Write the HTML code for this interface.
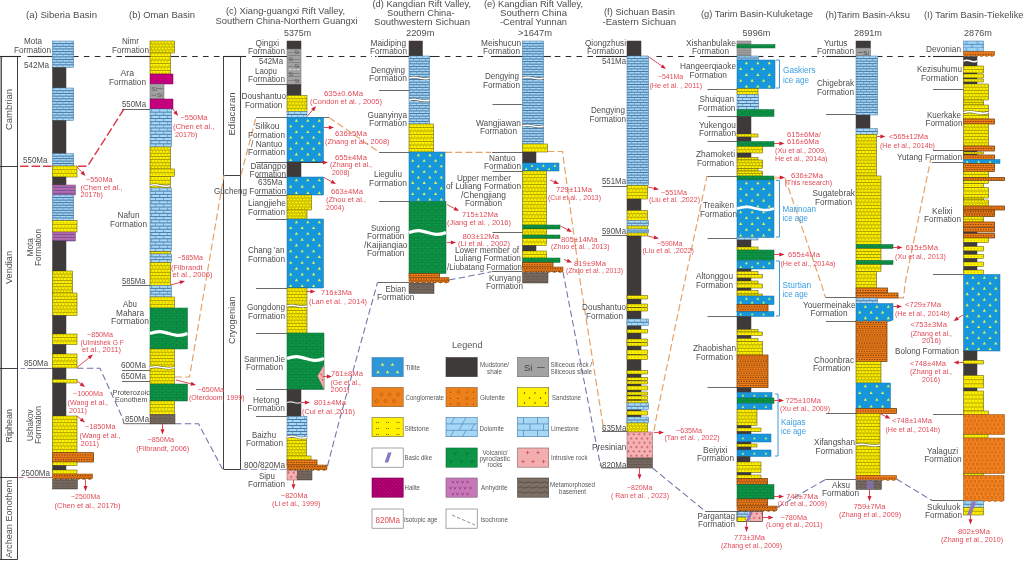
<!DOCTYPE html>
<html><head><meta charset="utf-8"><title>Stratigraphic correlation</title>
<style>
html,body{margin:0;padding:0;background:#fff;}
body{width:1024px;height:561px;overflow:hidden;}
svg{display:block;font-family:"Liberation Sans",sans-serif;will-change:transform;transform:translateZ(0);}
</style></head><body>
<svg width="1024" height="561" viewBox="0 0 1024 561">
<defs>
<pattern id="pL" width="6" height="5.2" patternUnits="userSpaceOnUse">
<rect width="6" height="5.2" fill="#a8daf7"/>
<path d="M0,2.15H6M0,4.75H6" stroke="#3f6f9f" stroke-width="0.95"/>
<path d="M1.5,0V1.7M4.5,2.6V4.3" stroke="#6f9fc8" stroke-width="0.6"/>
</pattern>
<pattern id="pL2" width="8" height="6.4" patternUnits="userSpaceOnUse">
<rect width="8" height="6.4" fill="#a8daf7"/>
<path d="M0,2.75H8M0,5.95H8" stroke="#3f6f9f" stroke-width="0.9"/>
<path d="M2,0V2.3M6,3.2V5.5" stroke="#4f7fae" stroke-width="0.8"/>
</pattern>
<pattern id="pL3" width="11" height="7" patternUnits="userSpaceOnUse">
<rect width="11" height="7" fill="#9fd3f3"/>
<path d="M0,3.4H11M0,6.9H11" stroke="#3f78b0" stroke-width="0.7"/>
<path d="M3,0V3.4M8.5,3.4V7" stroke="#3f78b0" stroke-width="0.7"/>
</pattern>
<pattern id="pY" width="5" height="3.3" patternUnits="userSpaceOnUse">
<rect width="5" height="3.3" fill="#fff100"/>
<path d="M0,2.95H5" stroke="#5f5700" stroke-width="0.7"/>
<path d="M1.0,1.35H2.1M3.5,1.35H4.6" stroke="#8c8200" stroke-width="0.6"/>
</pattern>
<pattern id="pT" width="11.4" height="10.8" patternUnits="userSpaceOnUse">
<rect width="11.4" height="10.8" fill="#1597dc"/>
<path d="M2.8,1.6l1.3,2.2h-2.6zM8.5,7l1.3,2.2h-2.6z" fill="#d9f25a"/>
</pattern>
<pattern id="pG" width="7" height="5.6" patternUnits="userSpaceOnUse">
<rect width="7" height="5.6" fill="#0c9546"/>
<path d="M0,2.6H7M0,5.4H7" stroke="#0a6e36" stroke-width="0.6"/>
<path d="M2,0V2.6M5.5,2.6V5.4" stroke="#0a6e36" stroke-width="0.5"/>
</pattern>
<pattern id="pA" width="5" height="3" patternUnits="userSpaceOnUse">
<rect width="5" height="3" fill="#b56cb0"/>
<path d="M0,2.6H5" stroke="#6a4a90" stroke-width="0.8"/>
<path d="M1.5,0.8l0.7,1M3.5,0.8l0.7,1" stroke="#8a4f90" stroke-width="0.5"/>
</pattern>
<pattern id="pO" width="5.5" height="4.4" patternUnits="userSpaceOnUse">
<rect width="5.5" height="4.4" fill="#ee7f1a"/>
<path d="M0,4.05H5.5" stroke="#9a5010" stroke-width="0.7"/>
<circle cx="1.6" cy="1.9" r="0.65" fill="#8a4a10"/><circle cx="4.3" cy="1.9" r="0.65" fill="#8a4a10"/>
</pattern>
<pattern id="pC" width="4.2" height="8.1" patternUnits="userSpaceOnUse">
<rect width="4.2" height="8.1" fill="#f4841f"/>
<circle cx="1.05" cy="2" r="1.15" fill="none" stroke="#b4520a" stroke-width="0.6"/>
<circle cx="3.15" cy="6.05" r="1.15" fill="none" stroke="#b4520a" stroke-width="0.6"/>
</pattern>
<pattern id="pI" width="5.4" height="8.6" patternUnits="userSpaceOnUse">
<rect width="5.4" height="8.6" fill="#f4b2b3"/>
<path d="M0.3,2.2h2.2M1.4,1.1v2.2M3,6.5h2.2M4.1,5.4v2.2" stroke="#b8283a" stroke-width="0.55"/>
</pattern>
<pattern id="pB" width="5" height="2.6" patternUnits="userSpaceOnUse">
<rect width="5" height="2.6" fill="#7b6e64"/>
<path d="M0,1.3q1.25,-1.2 2.5,0t2.5,0" stroke="#3e3530" stroke-width="0.6" fill="none"/>
</pattern>
</defs>
<rect width="1024" height="561" fill="#fff"/>

<line x1="1.20" y1="56.00" x2="1.20" y2="559.50" stroke="#2b2b2b" stroke-width="1.2"/>
<line x1="17.50" y1="56.00" x2="17.50" y2="559.50" stroke="#2b2b2b" stroke-width="0.9"/>
<line x1="0.00" y1="56.50" x2="17.50" y2="56.50" stroke="#2b2b2b" stroke-width="0.9"/>
<line x1="0.00" y1="166.50" x2="17.50" y2="166.50" stroke="#2b2b2b" stroke-width="0.9"/>
<line x1="0.00" y1="368.50" x2="17.50" y2="368.50" stroke="#2b2b2b" stroke-width="0.9"/>
<line x1="0.00" y1="477.50" x2="17.50" y2="477.50" stroke="#2b2b2b" stroke-width="0.9"/>
<line x1="0.00" y1="559.50" x2="17.50" y2="559.50" stroke="#2b2b2b" stroke-width="0.9"/>
<line x1="223.50" y1="56.00" x2="223.50" y2="469.00" stroke="#2b2b2b" stroke-width="0.9"/>
<line x1="240.50" y1="56.00" x2="240.50" y2="469.00" stroke="#2b2b2b" stroke-width="0.9"/>
<line x1="223.50" y1="175.50" x2="240.60" y2="175.50" stroke="#2b2b2b" stroke-width="0.9"/>
<line x1="223.50" y1="469.50" x2="240.60" y2="469.50" stroke="#2b2b2b" stroke-width="0.9"/>
<line x1="0.00" y1="56.50" x2="21.00" y2="56.50" stroke="#2b2b2b" stroke-width="1.1"/>
<line x1="27.50" y1="56.50" x2="52.50" y2="56.50" stroke="#2b2b2b" stroke-width="1.1"/>
<line x1="73.00" y1="56.50" x2="125.00" y2="56.50" stroke="#2b2b2b" stroke-width="1.1" stroke-dasharray="5.6,5.275"/>
<line x1="125.00" y1="56.50" x2="150.00" y2="56.50" stroke="#2b2b2b" stroke-width="1.1"/>
<line x1="171.00" y1="56.50" x2="179.00" y2="56.50" stroke="#2b2b2b" stroke-width="1.1"/>
<line x1="181.25" y1="56.50" x2="222.00" y2="56.50" stroke="#2b2b2b" stroke-width="1.1" stroke-dasharray="5.6,5.275"/>
<line x1="223.00" y1="56.50" x2="246.00" y2="56.50" stroke="#2b2b2b" stroke-width="1.1"/>
<line x1="252.00" y1="56.50" x2="287.00" y2="56.50" stroke="#2b2b2b" stroke-width="1.1"/>
<line x1="306.20" y1="56.50" x2="372.00" y2="56.50" stroke="#2b2b2b" stroke-width="1.1" stroke-dasharray="5.6,5.275"/>
<line x1="375.00" y1="56.50" x2="376.50" y2="56.50" stroke="#2b2b2b" stroke-width="1.1"/>
<line x1="378.00" y1="56.50" x2="409.00" y2="56.50" stroke="#2b2b2b" stroke-width="1.1"/>
<line x1="429.50" y1="56.50" x2="434.00" y2="56.50" stroke="#2b2b2b" stroke-width="1.1"/>
<line x1="434.00" y1="56.50" x2="485.00" y2="56.50" stroke="#2b2b2b" stroke-width="1.1" stroke-dasharray="5.6,5.275"/>
<line x1="491.00" y1="56.50" x2="522.50" y2="56.50" stroke="#2b2b2b" stroke-width="1.1"/>
<line x1="543.25" y1="56.50" x2="550.80" y2="56.50" stroke="#2b2b2b" stroke-width="1.1"/>
<line x1="554.75" y1="56.50" x2="594.00" y2="56.50" stroke="#2b2b2b" stroke-width="1.1" stroke-dasharray="5.6,5.275"/>
<line x1="596.00" y1="56.50" x2="627.00" y2="56.50" stroke="#2b2b2b" stroke-width="1.1"/>
<line x1="640.75" y1="56.50" x2="648.50" y2="56.50" stroke="#2b2b2b" stroke-width="1.1"/>
<line x1="656.40" y1="56.50" x2="699.00" y2="56.50" stroke="#2b2b2b" stroke-width="1.1" stroke-dasharray="5.6,5.275"/>
<line x1="700.00" y1="56.50" x2="737.00" y2="56.50" stroke="#2b2b2b" stroke-width="1.1"/>
<line x1="758.50" y1="56.50" x2="763.40" y2="56.50" stroke="#2b2b2b" stroke-width="1.1"/>
<line x1="768.00" y1="56.50" x2="824.00" y2="56.50" stroke="#2b2b2b" stroke-width="1.1" stroke-dasharray="5.6,5.275"/>
<line x1="826.25" y1="56.50" x2="856.00" y2="56.50" stroke="#2b2b2b" stroke-width="1.1"/>
<line x1="877.50" y1="56.50" x2="882.50" y2="56.50" stroke="#2b2b2b" stroke-width="1.1"/>
<line x1="887.00" y1="56.50" x2="926.00" y2="56.50" stroke="#2b2b2b" stroke-width="1.1" stroke-dasharray="5.6,5.275"/>
<line x1="928.00" y1="56.50" x2="930.50" y2="56.50" stroke="#2b2b2b" stroke-width="1.1"/>
<line x1="933.00" y1="56.50" x2="963.50" y2="56.50" stroke="#2b2b2b" stroke-width="1.1"/>
<line x1="122.00" y1="109.50" x2="150.00" y2="109.50" stroke="#595757" stroke-width="0.9"/>
<line x1="122.00" y1="285.50" x2="150.00" y2="285.50" stroke="#595757" stroke-width="0.9"/>
<line x1="122.00" y1="370.50" x2="150.00" y2="370.50" stroke="#595757" stroke-width="0.9"/>
<line x1="122.00" y1="381.50" x2="150.00" y2="381.50" stroke="#595757" stroke-width="0.9"/>
<polyline points="122.80,418.50 123.80,423.70 150.00,423.70" fill="none" stroke="#595757" stroke-width="0.9"/>
<line x1="256.00" y1="84.50" x2="287.00" y2="84.50" stroke="#595757" stroke-width="0.9"/>
<line x1="256.00" y1="162.50" x2="287.00" y2="162.50" stroke="#595757" stroke-width="0.9"/>
<line x1="256.00" y1="177.50" x2="287.00" y2="177.50" stroke="#595757" stroke-width="0.9"/>
<line x1="256.00" y1="195.50" x2="287.00" y2="195.50" stroke="#595757" stroke-width="0.9"/>
<line x1="256.00" y1="219.50" x2="287.00" y2="219.50" stroke="#595757" stroke-width="0.9"/>
<line x1="256.00" y1="288.50" x2="287.00" y2="288.50" stroke="#595757" stroke-width="0.9"/>
<line x1="256.00" y1="333.50" x2="287.00" y2="333.50" stroke="#595757" stroke-width="0.9"/>
<line x1="256.00" y1="389.50" x2="287.00" y2="389.50" stroke="#595757" stroke-width="0.9"/>
<line x1="256.00" y1="416.50" x2="287.00" y2="416.50" stroke="#595757" stroke-width="0.9"/>
<line x1="256.00" y1="117.50" x2="329.00" y2="117.50" stroke="#595757" stroke-width="0.9"/>
<line x1="379.00" y1="90.50" x2="409.00" y2="90.50" stroke="#595757" stroke-width="0.9"/>
<line x1="379.00" y1="201.50" x2="409.00" y2="201.50" stroke="#595757" stroke-width="0.9"/>
<line x1="377.50" y1="282.50" x2="409.00" y2="282.50" stroke="#595757" stroke-width="0.9"/>
<line x1="492.50" y1="104.50" x2="522.50" y2="104.50" stroke="#595757" stroke-width="0.9"/>
<line x1="492.50" y1="171.50" x2="522.50" y2="171.50" stroke="#595757" stroke-width="0.9"/>
<line x1="492.50" y1="232.50" x2="522.50" y2="232.50" stroke="#595757" stroke-width="0.9"/>
<line x1="492.00" y1="271.50" x2="522.50" y2="271.50" stroke="#595757" stroke-width="0.9"/>
<line x1="602.00" y1="186.50" x2="627.00" y2="186.50" stroke="#595757" stroke-width="0.9"/>
<line x1="602.00" y1="235.50" x2="627.00" y2="235.50" stroke="#595757" stroke-width="0.9"/>
<line x1="602.00" y1="431.50" x2="627.00" y2="431.50" stroke="#595757" stroke-width="0.9"/>
<polyline points="600.50,462.50 601.50,468.00 627.00,468.00" fill="none" stroke="#595757" stroke-width="0.9"/>
<line x1="707.50" y1="89.50" x2="737.00" y2="89.50" stroke="#595757" stroke-width="0.9"/>
<line x1="707.50" y1="116.50" x2="737.00" y2="116.50" stroke="#595757" stroke-width="0.9"/>
<line x1="707.50" y1="141.50" x2="737.00" y2="141.50" stroke="#595757" stroke-width="0.9"/>
<line x1="707.50" y1="238.50" x2="737.00" y2="238.50" stroke="#595757" stroke-width="0.9"/>
<line x1="707.50" y1="316.50" x2="737.00" y2="316.50" stroke="#595757" stroke-width="0.9"/>
<line x1="707.50" y1="387.50" x2="737.00" y2="387.50" stroke="#595757" stroke-width="0.9"/>
<line x1="707.00" y1="176.50" x2="737.00" y2="176.50" stroke="#595757" stroke-width="0.9"/>
<line x1="705.00" y1="511.50" x2="737.00" y2="511.50" stroke="#595757" stroke-width="0.9"/>
<line x1="826.00" y1="114.50" x2="856.00" y2="114.50" stroke="#595757" stroke-width="0.9"/>
<line x1="826.00" y1="321.50" x2="856.00" y2="321.50" stroke="#595757" stroke-width="0.9"/>
<line x1="826.00" y1="413.50" x2="856.00" y2="413.50" stroke="#595757" stroke-width="0.9"/>
<line x1="825.50" y1="297.50" x2="856.00" y2="297.50" stroke="#595757" stroke-width="0.9"/>
<line x1="825.50" y1="479.50" x2="856.00" y2="479.50" stroke="#595757" stroke-width="0.9"/>
<line x1="933.00" y1="89.50" x2="963.50" y2="89.50" stroke="#595757" stroke-width="0.9"/>
<line x1="933.00" y1="150.50" x2="963.50" y2="150.50" stroke="#595757" stroke-width="0.9"/>
<line x1="933.00" y1="274.50" x2="963.50" y2="274.50" stroke="#595757" stroke-width="0.9"/>
<line x1="933.00" y1="414.50" x2="963.50" y2="414.50" stroke="#595757" stroke-width="0.9"/>
<line x1="932.00" y1="162.50" x2="963.50" y2="162.50" stroke="#595757" stroke-width="0.9"/>
<line x1="932.00" y1="500.50" x2="963.50" y2="500.50" stroke="#595757" stroke-width="0.9"/>
<polyline points="20.00,166.30 52.00,166.30" fill="none" stroke="#d93844" stroke-width="1.4" stroke-dasharray="8.5,3"/>
<polyline points="124.00,109.00 87.50,166.30 77.50,166.30" fill="none" stroke="#d93844" stroke-width="1.4" stroke-dasharray="8.5,3"/>
<line x1="20.50" y1="368.50" x2="25.00" y2="368.50" stroke="#8a93c0" stroke-width="1.0"/>
<line x1="27.50" y1="368.50" x2="52.50" y2="368.50" stroke="#7a7a8a" stroke-width="1.0"/>
<polyline points="77.00,368.30 100.00,368.30 123.00,419.00" fill="none" stroke="#6c72a8" stroke-width="1.05" stroke-dasharray="6.5,3.3"/>
<polyline points="175.00,423.80 198.50,423.80 222.50,469.00" fill="none" stroke="#6c72a8" stroke-width="1.05" stroke-dasharray="6.5,3.3"/>
<polyline points="241.00,469.50 287.00,469.50" fill="none" stroke="#9aa3c8" stroke-width="1.0" stroke-dasharray="6.5,3.3"/>
<polyline points="327.50,466.00 340.00,418.00 377.50,282.50" fill="none" stroke="#6c72a8" stroke-width="1.05" stroke-dasharray="6.5,3.3"/>
<polyline points="449.00,280.00 491.50,271.80" fill="none" stroke="#6c72a8" stroke-width="1.05" stroke-dasharray="6.5,3.3"/>
<polyline points="563.00,272.00 600.50,466.00" fill="none" stroke="#6c72a8" stroke-width="1.05" stroke-dasharray="6.5,3.3"/>
<polyline points="652.50,468.00 705.00,511.00" fill="none" stroke="#6c72a8" stroke-width="1.05" stroke-dasharray="6.5,3.3"/>
<polyline points="777.00,507.50 825.50,479.50" fill="none" stroke="#6c72a8" stroke-width="1.05" stroke-dasharray="6.5,3.3"/>
<polyline points="896.50,479.00 932.00,500.50" fill="none" stroke="#6c72a8" stroke-width="1.05" stroke-dasharray="6.5,3.3"/>
<line x1="18.50" y1="477.50" x2="23.50" y2="477.50" stroke="#c06090" stroke-width="1.0"/>
<line x1="27.50" y1="477.50" x2="52.50" y2="477.50" stroke="#9a7a8a" stroke-width="1.0"/>
<polyline points="175.00,377.00 189.50,377.00 206.00,280.00 224.00,175.00" fill="none" stroke="#e6a268" stroke-width="1.2" stroke-dasharray="7,3.2"/>
<polyline points="241.00,175.00 256.00,117.50" fill="none" stroke="#e6a268" stroke-width="1.2" stroke-dasharray="7,3.2"/>
<polyline points="329.00,117.50 379.00,152.00" fill="none" stroke="#e6a268" stroke-width="1.2" stroke-dasharray="7,3.2"/>
<line x1="379.00" y1="152.50" x2="409.00" y2="152.50" stroke="#595757" stroke-width="0.9"/>
<polyline points="445.00,152.30 491.00,152.30" fill="none" stroke="#e6a268" stroke-width="1.2" stroke-dasharray="7,3.2"/>
<line x1="492.00" y1="152.50" x2="522.50" y2="152.50" stroke="#595757" stroke-width="0.9"/>
<polyline points="547.50,151.50 562.50,151.50 580.00,280.00 602.00,419.00 604.00,431.00" fill="none" stroke="#e6a268" stroke-width="1.2" stroke-dasharray="7,3.2"/>
<polyline points="654.00,431.00 656.00,419.00 685.00,280.00 707.00,176.00" fill="none" stroke="#e6a268" stroke-width="1.2" stroke-dasharray="7,3.2"/>
<polyline points="785.00,178.00 820.00,280.00 825.50,297.50" fill="none" stroke="#e6a268" stroke-width="1.2" stroke-dasharray="7,3.2"/>
<polyline points="898.00,297.80 903.50,297.80 905.70,280.00 931.00,158.00" fill="none" stroke="#e6a268" stroke-width="1.2" stroke-dasharray="7,3.2"/>
<rect x="52.50" y="41.00" width="21.20" height="26.50" fill="#a8daf7"/>
<path d="M52.50,43.65h21.20M52.50,46.30h21.20M52.50,48.95h21.20M52.50,51.60h21.20M52.50,54.25h21.20M52.50,56.90h21.20M52.50,59.55h21.20M52.50,62.20h21.20M52.50,64.85h21.20" stroke="#3f6f9f" stroke-width="0.95" fill="none"/>
<path d="M54.10,41.30v2.05M60.10,41.30v2.05M66.10,41.30v2.05M72.10,41.30v2.05M57.10,43.95v2.05M63.10,43.95v2.05M69.10,43.95v2.05M54.10,46.60v2.05M60.10,46.60v2.05M66.10,46.60v2.05M72.10,46.60v2.05M57.10,49.25v2.05M63.10,49.25v2.05M69.10,49.25v2.05M54.10,51.90v2.05M60.10,51.90v2.05M66.10,51.90v2.05M72.10,51.90v2.05M57.10,54.55v2.05M63.10,54.55v2.05M69.10,54.55v2.05M54.10,57.20v2.05M60.10,57.20v2.05M66.10,57.20v2.05M72.10,57.20v2.05M57.10,59.85v2.05M63.10,59.85v2.05M69.10,59.85v2.05M54.10,62.50v2.05M60.10,62.50v2.05M66.10,62.50v2.05M72.10,62.50v2.05M57.10,65.15v2.05M63.10,65.15v2.05M69.10,65.15v2.05" stroke="#5f8fbc" stroke-width="0.6" fill="none"/>
<rect x="52.50" y="41.00" width="21.20" height="26.50" fill="none" stroke="#3d6f9e" stroke-width="0.5"/>
<rect transform="translate(52.50,67.50)" width="13.50" height="20.50" fill="#3e3a39" stroke="#3e3a39" stroke-width="0.5"/>
<rect x="52.50" y="88.00" width="21.20" height="32.50" fill="#a8daf7"/>
<path d="M52.50,90.71h21.20M52.50,93.42h21.20M52.50,96.12h21.20M52.50,98.83h21.20M52.50,101.54h21.20M52.50,104.25h21.20M52.50,106.96h21.20M52.50,109.67h21.20M52.50,112.38h21.20M52.50,115.08h21.20M52.50,117.79h21.20" stroke="#3f6f9f" stroke-width="0.95" fill="none"/>
<path d="M54.10,88.30v2.11M60.10,88.30v2.11M66.10,88.30v2.11M72.10,88.30v2.11M57.10,91.01v2.11M63.10,91.01v2.11M69.10,91.01v2.11M54.10,93.72v2.11M60.10,93.72v2.11M66.10,93.72v2.11M72.10,93.72v2.11M57.10,96.42v2.11M63.10,96.42v2.11M69.10,96.42v2.11M54.10,99.13v2.11M60.10,99.13v2.11M66.10,99.13v2.11M72.10,99.13v2.11M57.10,101.84v2.11M63.10,101.84v2.11M69.10,101.84v2.11M54.10,104.55v2.11M60.10,104.55v2.11M66.10,104.55v2.11M72.10,104.55v2.11M57.10,107.26v2.11M63.10,107.26v2.11M69.10,107.26v2.11M54.10,109.97v2.11M60.10,109.97v2.11M66.10,109.97v2.11M72.10,109.97v2.11M57.10,112.67v2.11M63.10,112.67v2.11M69.10,112.67v2.11M54.10,115.38v2.11M60.10,115.38v2.11M66.10,115.38v2.11M72.10,115.38v2.11M57.10,118.09v2.11M63.10,118.09v2.11M69.10,118.09v2.11" stroke="#5f8fbc" stroke-width="0.6" fill="none"/>
<rect x="52.50" y="88.00" width="21.20" height="32.50" fill="none" stroke="#3d6f9e" stroke-width="0.5"/>
<rect transform="translate(52.50,120.50)" width="13.50" height="33.20" fill="#3e3a39" stroke="#3e3a39" stroke-width="0.5"/>
<rect x="52.50" y="153.70" width="21.20" height="12.30" fill="#a8daf7"/>
<path d="M52.50,156.16h21.20M52.50,158.62h21.20M52.50,161.08h21.20M52.50,163.54h21.20" stroke="#3f6f9f" stroke-width="0.95" fill="none"/>
<path d="M54.10,154.00v1.86M60.10,154.00v1.86M66.10,154.00v1.86M72.10,154.00v1.86M57.10,156.46v1.86M63.10,156.46v1.86M69.10,156.46v1.86M54.10,158.92v1.86M60.10,158.92v1.86M66.10,158.92v1.86M72.10,158.92v1.86M57.10,161.38v1.86M63.10,161.38v1.86M69.10,161.38v1.86M54.10,163.84v1.86M60.10,163.84v1.86M66.10,163.84v1.86M72.10,163.84v1.86" stroke="#5f8fbc" stroke-width="0.6" fill="none"/>
<rect x="52.50" y="153.70" width="21.20" height="12.30" fill="none" stroke="#3d6f9e" stroke-width="0.5"/>
<rect x="52.50" y="166.00" width="24.50" height="11.00" fill="#fff100"/>
<path d="M52.50,169.67h24.50M52.50,173.33h24.50" stroke="#4f4800" stroke-width="0.48" fill="none"/>
<path d="M53.40,167.83H76.40M54.60,171.50H76.40M53.40,175.17H76.40" stroke="#5a5200" stroke-width="0.6" stroke-dasharray="0.7,2.6" fill="none"/>
<rect x="52.50" y="166.00" width="24.50" height="11.00" fill="none" stroke="#4a4300" stroke-width="0.5"/>
<rect transform="translate(52.50,177.00)" width="13.50" height="8.00" fill="#3e3a39" stroke="#3e3a39" stroke-width="0.5"/>
<rect transform="translate(52.50,185.00)" width="23.00" height="10.00" fill="url(#pA)" stroke="#7a4a80" stroke-width="0.5"/>
<rect x="52.50" y="195.00" width="21.20" height="25.50" fill="#a8daf7"/>
<path d="M52.50,197.55h21.20M52.50,200.10h21.20M52.50,202.65h21.20M52.50,205.20h21.20M52.50,207.75h21.20M52.50,210.30h21.20M52.50,212.85h21.20M52.50,215.40h21.20M52.50,217.95h21.20" stroke="#3f6f9f" stroke-width="0.95" fill="none"/>
<path d="M54.10,195.30v1.95M60.10,195.30v1.95M66.10,195.30v1.95M72.10,195.30v1.95M57.10,197.85v1.95M63.10,197.85v1.95M69.10,197.85v1.95M54.10,200.40v1.95M60.10,200.40v1.95M66.10,200.40v1.95M72.10,200.40v1.95M57.10,202.95v1.95M63.10,202.95v1.95M69.10,202.95v1.95M54.10,205.50v1.95M60.10,205.50v1.95M66.10,205.50v1.95M72.10,205.50v1.95M57.10,208.05v1.95M63.10,208.05v1.95M69.10,208.05v1.95M54.10,210.60v1.95M60.10,210.60v1.95M66.10,210.60v1.95M72.10,210.60v1.95M57.10,213.15v1.95M63.10,213.15v1.95M69.10,213.15v1.95M54.10,215.70v1.95M60.10,215.70v1.95M66.10,215.70v1.95M72.10,215.70v1.95M57.10,218.25v1.95M63.10,218.25v1.95M69.10,218.25v1.95" stroke="#5f8fbc" stroke-width="0.6" fill="none"/>
<rect x="52.50" y="195.00" width="21.20" height="25.50" fill="none" stroke="#3d6f9e" stroke-width="0.5"/>
<rect x="52.50" y="220.50" width="24.50" height="11.50" fill="#fff100"/>
<path d="M52.50,224.33h24.50M52.50,228.17h24.50" stroke="#4f4800" stroke-width="0.48" fill="none"/>
<path d="M53.40,222.42H76.40M54.60,226.25H76.40M53.40,230.08H76.40" stroke="#5a5200" stroke-width="0.6" stroke-dasharray="0.7,2.6" fill="none"/>
<rect x="52.50" y="220.50" width="24.50" height="11.50" fill="none" stroke="#4a4300" stroke-width="0.5"/>
<rect transform="translate(52.50,232.00)" width="23.00" height="9.00" fill="url(#pA)" stroke="#7a4a80" stroke-width="0.5"/>
<rect transform="translate(52.50,241.00)" width="13.50" height="30.00" fill="#3e3a39" stroke="#3e3a39" stroke-width="0.5"/>
<rect x="52.50" y="271.00" width="20.00" height="22.00" fill="#fff100"/>
<path d="M52.50,274.14h20.00M52.50,277.29h20.00M52.50,280.43h20.00M52.50,283.57h20.00M52.50,286.71h20.00M52.50,289.86h20.00" stroke="#4f4800" stroke-width="0.48" fill="none"/>
<path d="M53.40,272.57H71.90M54.60,275.71H71.90M53.40,278.86H71.90M54.60,282.00H71.90M53.40,285.14H71.90M54.60,288.29H71.90M53.40,291.43H71.90" stroke="#5a5200" stroke-width="0.6" stroke-dasharray="0.7,2.6" fill="none"/>
<rect x="52.50" y="271.00" width="20.00" height="22.00" fill="none" stroke="#4a4300" stroke-width="0.5"/>
<rect x="52.50" y="293.00" width="24.50" height="22.50" fill="#fff100"/>
<path d="M52.50,296.21h24.50M52.50,299.43h24.50M52.50,302.64h24.50M52.50,305.86h24.50M52.50,309.07h24.50M52.50,312.29h24.50" stroke="#4f4800" stroke-width="0.48" fill="none"/>
<path d="M53.40,294.61H76.40M54.60,297.82H76.40M53.40,301.04H76.40M54.60,304.25H76.40M53.40,307.46H76.40M54.60,310.68H76.40M53.40,313.89H76.40" stroke="#5a5200" stroke-width="0.6" stroke-dasharray="0.7,2.6" fill="none"/>
<rect x="52.50" y="293.00" width="24.50" height="22.50" fill="none" stroke="#4a4300" stroke-width="0.5"/>
<rect transform="translate(52.50,315.50)" width="13.50" height="18.50" fill="#3e3a39" stroke="#3e3a39" stroke-width="0.5"/>
<rect x="52.50" y="334.00" width="24.50" height="10.50" fill="#fff100"/>
<path d="M52.50,337.50h24.50M52.50,341.00h24.50" stroke="#4f4800" stroke-width="0.48" fill="none"/>
<path d="M53.40,335.75H76.40M54.60,339.25H76.40M53.40,342.75H76.40" stroke="#5a5200" stroke-width="0.6" stroke-dasharray="0.7,2.6" fill="none"/>
<rect x="52.50" y="334.00" width="24.50" height="10.50" fill="none" stroke="#4a4300" stroke-width="0.5"/>
<rect transform="translate(52.50,344.50)" width="13.50" height="9.50" fill="#3e3a39" stroke="#3e3a39" stroke-width="0.5"/>
<rect x="52.50" y="354.00" width="24.50" height="14.00" fill="#fff100"/>
<path d="M52.50,357.50h24.50M52.50,361.00h24.50M52.50,364.50h24.50" stroke="#4f4800" stroke-width="0.48" fill="none"/>
<path d="M53.40,355.75H76.40M54.60,359.25H76.40M53.40,362.75H76.40M54.60,366.25H76.40" stroke="#5a5200" stroke-width="0.6" stroke-dasharray="0.7,2.6" fill="none"/>
<rect x="52.50" y="354.00" width="24.50" height="14.00" fill="none" stroke="#4a4300" stroke-width="0.5"/>
<rect transform="translate(52.50,368.00)" width="13.50" height="11.50" fill="#3e3a39" stroke="#3e3a39" stroke-width="0.5"/>
<rect x="52.50" y="379.50" width="24.50" height="3.50" fill="#fff100"/>
<path d="M53.40,381.25H76.40" stroke="#5a5200" stroke-width="0.6" stroke-dasharray="0.7,2.6" fill="none"/>
<rect x="52.50" y="379.50" width="24.50" height="3.50" fill="none" stroke="#4a4300" stroke-width="0.5"/>
<rect transform="translate(52.50,383.00)" width="13.50" height="33.00" fill="#3e3a39" stroke="#3e3a39" stroke-width="0.5"/>
<rect x="52.50" y="416.00" width="24.50" height="36.70" fill="#fff100"/>
<path d="M52.50,419.34h24.50M52.50,422.67h24.50M52.50,426.01h24.50M52.50,429.35h24.50M52.50,432.68h24.50M52.50,436.02h24.50M52.50,439.35h24.50M52.50,442.69h24.50M52.50,446.03h24.50M52.50,449.36h24.50" stroke="#4f4800" stroke-width="0.48" fill="none"/>
<path d="M53.40,417.67H76.40M54.60,421.00H76.40M53.40,424.34H76.40M54.60,427.68H76.40M53.40,431.01H76.40M54.60,434.35H76.40M53.40,437.69H76.40M54.60,441.02H76.40M53.40,444.36H76.40M54.60,447.70H76.40M53.40,451.03H76.40" stroke="#5a5200" stroke-width="0.6" stroke-dasharray="0.7,2.6" fill="none"/>
<rect x="52.50" y="416.00" width="24.50" height="36.70" fill="none" stroke="#4a4300" stroke-width="0.5"/>
<rect x="52.50" y="452.70" width="41.00" height="9.30" fill="#ec7c1a"/>
<path d="M52.50,457.35h41.00" stroke="#9a5010" stroke-width="0.65" fill="none"/>
<path d="M53.70,455.02H92.90M55.10,459.68H92.90" stroke="#7a3808" stroke-width="1.15" stroke-dasharray="1.2,1.4" fill="none"/>
<rect x="52.50" y="452.70" width="41.00" height="9.30" fill="none" stroke="#6a3a08" stroke-width="0.75"/>
<rect x="52.50" y="462.00" width="24.50" height="3.50" fill="#fff100"/>
<path d="M53.40,463.75H76.40" stroke="#5a5200" stroke-width="0.6" stroke-dasharray="0.7,2.6" fill="none"/>
<rect x="52.50" y="462.00" width="24.50" height="3.50" fill="none" stroke="#4a4300" stroke-width="0.5"/>
<rect transform="translate(52.50,465.50)" width="13.50" height="4.50" fill="#3e3a39" stroke="#3e3a39" stroke-width="0.5"/>
<rect x="52.50" y="470.00" width="24.50" height="4.00" fill="#fff100"/>
<path d="M53.40,472.00H76.40" stroke="#5a5200" stroke-width="0.6" stroke-dasharray="0.7,2.6" fill="none"/>
<rect x="52.50" y="470.00" width="24.50" height="4.00" fill="none" stroke="#4a4300" stroke-width="0.5"/>
<clipPath id="wc1"><path transform="translate(52.50,474.00)" d="M0,0 L40.00,0 L40.00,4.20 Q37.14,6.80 34.29,4.20 Q31.43,6.80 28.57,4.20 Q25.71,6.80 22.86,4.20 Q20.00,6.80 17.14,4.20 Q14.29,6.80 11.43,4.20 Q8.57,6.80 5.71,4.20 Q2.86,6.80 -0.00,4.20 Z"/></clipPath>
<path transform="translate(52.50,474.00)" d="M0,0 L40.00,0 L40.00,4.20 Q37.14,6.80 34.29,4.20 Q31.43,6.80 28.57,4.20 Q25.71,6.80 22.86,4.20 Q20.00,6.80 17.14,4.20 Q14.29,6.80 11.43,4.20 Q8.57,6.80 5.71,4.20 Q2.86,6.80 -0.00,4.20 Z" fill="#ec7c1a"/>
<path d="M52.50,477.01h40.00" stroke="#9a5010" stroke-width="0.65" fill="none" clip-path="url(#wc1)"/>
<path d="M53.70,475.50H91.90M55.10,478.51H91.90" stroke="#7a3808" stroke-width="1.15" stroke-dasharray="1.2,1.4" fill="none" clip-path="url(#wc1)"/>
<path transform="translate(52.50,474.00)" d="M0,0 L40.00,0 L40.00,4.20 Q37.14,6.80 34.29,4.20 Q31.43,6.80 28.57,4.20 Q25.71,6.80 22.86,4.20 Q20.00,6.80 17.14,4.20 Q14.29,6.80 11.43,4.20 Q8.57,6.80 5.71,4.20 Q2.86,6.80 -0.00,4.20 Z" fill="none" stroke="#6a3a08" stroke-width="0.5"/>
<rect transform="translate(52.50,479.50)" width="25.00" height="9.50" fill="url(#pB)" stroke="#4a4038" stroke-width="0.5"/>
<rect x="150.00" y="41.00" width="24.50" height="12.00" fill="#fff100"/>
<path d="M150.00,44.00h24.50M150.00,47.00h24.50M150.00,50.00h24.50" stroke="#4f4800" stroke-width="0.48" fill="none"/>
<path d="M150.90,42.50H173.90M152.10,45.50H173.90M150.90,48.50H173.90M152.10,51.50H173.90" stroke="#5a5200" stroke-width="0.6" stroke-dasharray="0.7,2.6" fill="none"/>
<rect x="150.00" y="41.00" width="24.50" height="12.00" fill="none" stroke="#4a4300" stroke-width="0.5"/>
<rect x="150.00" y="53.00" width="20.50" height="21.00" fill="#fff100"/>
<path d="M150.00,56.50h20.50M150.00,60.00h20.50M150.00,63.50h20.50M150.00,67.00h20.50M150.00,70.50h20.50" stroke="#4f4800" stroke-width="0.48" fill="none"/>
<path d="M150.90,54.75H169.90M152.10,58.25H169.90M150.90,61.75H169.90M152.10,65.25H169.90M150.90,68.75H169.90M152.10,72.25H169.90" stroke="#5a5200" stroke-width="0.6" stroke-dasharray="0.7,2.6" fill="none"/>
<rect x="150.00" y="53.00" width="20.50" height="21.00" fill="none" stroke="#4a4300" stroke-width="0.5"/>
<rect transform="translate(150.00,74.00)" width="23.00" height="10.00" fill="#c4007c" stroke="#7a0050" stroke-width="0.5"/>
<rect transform="translate(150.00,84.00)" width="14.00" height="15.00" fill="#a3a3a3" stroke="#6a6a6a" stroke-width="0.5"/>
<rect transform="translate(150.00,99.00)" width="23.00" height="10.00" fill="#c4007c" stroke="#7a0050" stroke-width="0.5"/>
<rect x="150.00" y="109.00" width="21.50" height="38.00" fill="#a8daf7"/>
<path d="M150.00,112.17h21.50M150.00,115.33h21.50M150.00,118.50h21.50M150.00,121.67h21.50M150.00,124.83h21.50M150.00,128.00h21.50M150.00,131.17h21.50M150.00,134.33h21.50M150.00,137.50h21.50M150.00,140.67h21.50M150.00,143.83h21.50" stroke="#3f6f9f" stroke-width="0.9" fill="none"/>
<path d="M151.60,109.30v2.57M159.60,109.30v2.57M167.60,109.30v2.57M155.60,112.47v2.57M163.60,112.47v2.57M151.60,115.63v2.57M159.60,115.63v2.57M167.60,115.63v2.57M155.60,118.80v2.57M163.60,118.80v2.57M151.60,121.97v2.57M159.60,121.97v2.57M167.60,121.97v2.57M155.60,125.13v2.57M163.60,125.13v2.57M151.60,128.30v2.57M159.60,128.30v2.57M167.60,128.30v2.57M155.60,131.47v2.57M163.60,131.47v2.57M151.60,134.63v2.57M159.60,134.63v2.57M167.60,134.63v2.57M155.60,137.80v2.57M163.60,137.80v2.57M151.60,140.97v2.57M159.60,140.97v2.57M167.60,140.97v2.57M155.60,144.13v2.57M163.60,144.13v2.57" stroke="#5f8fbc" stroke-width="0.8" fill="none"/>
<rect x="150.00" y="109.00" width="21.50" height="38.00" fill="none" stroke="#3d6f9e" stroke-width="0.5"/>
<rect x="150.00" y="147.00" width="20.50" height="22.00" fill="#fff100"/>
<path d="M150.00,150.14h20.50M150.00,153.29h20.50M150.00,156.43h20.50M150.00,159.57h20.50M150.00,162.71h20.50M150.00,165.86h20.50" stroke="#4f4800" stroke-width="0.48" fill="none"/>
<path d="M150.90,148.57H169.90M152.10,151.71H169.90M150.90,154.86H169.90M152.10,158.00H169.90M150.90,161.14H169.90M152.10,164.29H169.90M150.90,167.43H169.90" stroke="#5a5200" stroke-width="0.6" stroke-dasharray="0.7,2.6" fill="none"/>
<rect x="150.00" y="147.00" width="20.50" height="22.00" fill="none" stroke="#4a4300" stroke-width="0.5"/>
<rect x="150.00" y="169.00" width="24.50" height="7.50" fill="#fff100"/>
<path d="M150.00,172.75h24.50" stroke="#4f4800" stroke-width="0.48" fill="none"/>
<path d="M150.90,170.88H173.90M152.10,174.62H173.90" stroke="#5a5200" stroke-width="0.6" stroke-dasharray="0.7,2.6" fill="none"/>
<rect x="150.00" y="169.00" width="24.50" height="7.50" fill="none" stroke="#4a4300" stroke-width="0.5"/>
<rect x="150.00" y="176.50" width="20.50" height="11.50" fill="#fff100"/>
<path d="M150.00,180.33h20.50M150.00,184.17h20.50" stroke="#4f4800" stroke-width="0.48" fill="none"/>
<path d="M150.90,178.42H169.90M152.10,182.25H169.90M150.90,186.08H169.90" stroke="#5a5200" stroke-width="0.6" stroke-dasharray="0.7,2.6" fill="none"/>
<rect x="150.00" y="176.50" width="20.50" height="11.50" fill="none" stroke="#4a4300" stroke-width="0.5"/>
<rect x="150.00" y="188.00" width="21.50" height="63.50" fill="#a8daf7"/>
<path d="M150.00,191.18h21.50M150.00,194.35h21.50M150.00,197.53h21.50M150.00,200.70h21.50M150.00,203.88h21.50M150.00,207.05h21.50M150.00,210.22h21.50M150.00,213.40h21.50M150.00,216.57h21.50M150.00,219.75h21.50M150.00,222.93h21.50M150.00,226.10h21.50M150.00,229.28h21.50M150.00,232.45h21.50M150.00,235.62h21.50M150.00,238.80h21.50M150.00,241.97h21.50M150.00,245.15h21.50M150.00,248.32h21.50" stroke="#3f6f9f" stroke-width="0.9" fill="none"/>
<path d="M151.60,188.30v2.57M159.60,188.30v2.57M167.60,188.30v2.57M155.60,191.48v2.57M163.60,191.48v2.57M151.60,194.65v2.57M159.60,194.65v2.57M167.60,194.65v2.57M155.60,197.83v2.57M163.60,197.83v2.57M151.60,201.00v2.57M159.60,201.00v2.57M167.60,201.00v2.57M155.60,204.18v2.57M163.60,204.18v2.57M151.60,207.35v2.57M159.60,207.35v2.57M167.60,207.35v2.57M155.60,210.53v2.57M163.60,210.53v2.57M151.60,213.70v2.57M159.60,213.70v2.57M167.60,213.70v2.57M155.60,216.88v2.57M163.60,216.88v2.57M151.60,220.05v2.57M159.60,220.05v2.57M167.60,220.05v2.57M155.60,223.23v2.57M163.60,223.23v2.57M151.60,226.40v2.57M159.60,226.40v2.57M167.60,226.40v2.57M155.60,229.58v2.57M163.60,229.58v2.57M151.60,232.75v2.57M159.60,232.75v2.57M167.60,232.75v2.57M155.60,235.93v2.57M163.60,235.93v2.57M151.60,239.10v2.57M159.60,239.10v2.57M167.60,239.10v2.57M155.60,242.28v2.57M163.60,242.28v2.57M151.60,245.45v2.57M159.60,245.45v2.57M167.60,245.45v2.57M155.60,248.62v2.57M163.60,248.62v2.57" stroke="#5f8fbc" stroke-width="0.8" fill="none"/>
<rect x="150.00" y="188.00" width="21.50" height="63.50" fill="none" stroke="#3d6f9e" stroke-width="0.5"/>
<rect x="150.00" y="251.50" width="20.50" height="2.50" fill="#fff100"/>
<path d="M150.90,252.75H169.90" stroke="#5a5200" stroke-width="0.6" stroke-dasharray="0.7,2.6" fill="none"/>
<rect x="150.00" y="251.50" width="20.50" height="2.50" fill="none" stroke="#4a4300" stroke-width="0.5"/>
<rect x="150.00" y="254.00" width="21.50" height="8.50" fill="#a8daf7"/>
<path d="M150.00,256.83h21.50M150.00,259.67h21.50" stroke="#3f6f9f" stroke-width="0.9" fill="none"/>
<path d="M151.60,254.30v2.23M159.60,254.30v2.23M167.60,254.30v2.23M155.60,257.13v2.23M163.60,257.13v2.23M151.60,259.97v2.23M159.60,259.97v2.23M167.60,259.97v2.23" stroke="#5f8fbc" stroke-width="0.8" fill="none"/>
<rect x="150.00" y="254.00" width="21.50" height="8.50" fill="none" stroke="#3d6f9e" stroke-width="0.5"/>
<rect x="150.00" y="262.50" width="20.50" height="23.00" fill="#fff100"/>
<path d="M150.00,265.79h20.50M150.00,269.07h20.50M150.00,272.36h20.50M150.00,275.64h20.50M150.00,278.93h20.50M150.00,282.21h20.50" stroke="#4f4800" stroke-width="0.48" fill="none"/>
<path d="M150.90,264.14H169.90M152.10,267.43H169.90M150.90,270.71H169.90M152.10,274.00H169.90M150.90,277.29H169.90M152.10,280.57H169.90M150.90,283.86H169.90" stroke="#5a5200" stroke-width="0.6" stroke-dasharray="0.7,2.6" fill="none"/>
<rect x="150.00" y="262.50" width="20.50" height="23.00" fill="none" stroke="#4a4300" stroke-width="0.5"/>
<rect x="150.00" y="285.50" width="21.50" height="11.50" fill="#a8daf7"/>
<path d="M150.00,288.38h21.50M150.00,291.25h21.50M150.00,294.12h21.50" stroke="#3f6f9f" stroke-width="0.9" fill="none"/>
<path d="M151.60,285.80v2.27M159.60,285.80v2.27M167.60,285.80v2.27M155.60,288.68v2.27M163.60,288.68v2.27M151.60,291.55v2.27M159.60,291.55v2.27M167.60,291.55v2.27M155.60,294.43v2.27M163.60,294.43v2.27" stroke="#5f8fbc" stroke-width="0.8" fill="none"/>
<rect x="150.00" y="285.50" width="21.50" height="11.50" fill="none" stroke="#3d6f9e" stroke-width="0.5"/>
<rect x="150.00" y="297.00" width="24.50" height="11.00" fill="#fff100"/>
<path d="M150.00,300.67h24.50M150.00,304.33h24.50" stroke="#4f4800" stroke-width="0.48" fill="none"/>
<path d="M150.90,298.83H173.90M152.10,302.50H173.90M150.90,306.17H173.90" stroke="#5a5200" stroke-width="0.6" stroke-dasharray="0.7,2.6" fill="none"/>
<rect x="150.00" y="297.00" width="24.50" height="11.00" fill="none" stroke="#4a4300" stroke-width="0.5"/>
<rect transform="translate(150.00,308.00)" width="37.50" height="41.00" fill="url(#pG)" stroke="#0b6b35" stroke-width="0.5"/>
<rect x="150.00" y="349.00" width="24.50" height="35.00" fill="#fff100"/>
<path d="M150.00,352.18h24.50M150.00,355.36h24.50M150.00,358.55h24.50M150.00,361.73h24.50M150.00,364.91h24.50M150.00,368.09h24.50M150.00,371.27h24.50M150.00,374.45h24.50M150.00,377.64h24.50M150.00,380.82h24.50" stroke="#4f4800" stroke-width="0.48" fill="none"/>
<path d="M150.90,350.59H173.90M152.10,353.77H173.90M150.90,356.95H173.90M152.10,360.14H173.90M150.90,363.32H173.90M152.10,366.50H173.90M150.90,369.68H173.90M152.10,372.86H173.90M150.90,376.05H173.90M152.10,379.23H173.90M150.90,382.41H173.90" stroke="#5a5200" stroke-width="0.6" stroke-dasharray="0.7,2.6" fill="none"/>
<rect x="150.00" y="349.00" width="24.50" height="35.00" fill="none" stroke="#4a4300" stroke-width="0.5"/>
<rect transform="translate(150.00,384.00)" width="37.50" height="17.00" fill="url(#pG)" stroke="#0b6b35" stroke-width="0.5"/>
<rect x="150.00" y="401.00" width="24.50" height="13.50" fill="#fff100"/>
<path d="M150.00,404.38h24.50M150.00,407.75h24.50M150.00,411.12h24.50" stroke="#4f4800" stroke-width="0.48" fill="none"/>
<path d="M150.90,402.69H173.90M152.10,406.06H173.90M150.90,409.44H173.90M152.10,412.81H173.90" stroke="#5a5200" stroke-width="0.6" stroke-dasharray="0.7,2.6" fill="none"/>
<rect x="150.00" y="401.00" width="24.50" height="13.50" fill="none" stroke="#4a4300" stroke-width="0.5"/>
<rect transform="translate(150.00,414.50)" width="25.00" height="9.50" fill="url(#pB)" stroke="#4a4038" stroke-width="0.5"/>
<path d="M150.00,185.50 C155.12,184.10 157.18,184.80 160.25,185.50 S166.40,186.90 170.50,185.50" fill="none" stroke="#4a4a40" stroke-width="2.5" opacity="0.8"/>
<path d="M150.00,185.50 C155.12,184.10 157.18,184.80 160.25,185.50 S166.40,186.90 170.50,185.50" fill="none" stroke="#fff" stroke-width="1.4"/>
<path d="M150.00,333.50 C159.38,330.30 163.12,331.90 168.75,333.50 S180.00,336.70 187.50,333.50" fill="none" stroke="#fff" stroke-width="3.2"/>
<path d="M150.00,367.50 C156.12,366.10 158.57,366.80 162.25,367.50 S169.60,368.90 174.50,367.50" fill="none" stroke="#4a4a40" stroke-width="2.5" opacity="0.8"/>
<path d="M150.00,367.50 C156.12,366.10 158.57,366.80 162.25,367.50 S169.60,368.90 174.50,367.50" fill="none" stroke="#fff" stroke-width="1.4"/>
<text x="151.3" y="90.8" font-size="6.2" fill="#555">Si</text>
<line x1="157.00" y1="88.60" x2="163.00" y2="88.60" stroke="#555" stroke-width="0.6"/>
<text x="157" y="97.3" font-size="6.2" fill="#555">Si</text>
<line x1="151.50" y1="95.20" x2="156.50" y2="95.20" stroke="#555" stroke-width="0.6"/>
<rect transform="translate(287.00,41.00)" width="14.00" height="8.00" fill="#3e3a39" stroke="#3e3a39" stroke-width="0.5"/>
<rect transform="translate(287.00,49.00)" width="14.00" height="35.50" fill="#a3a3a3" stroke="#6a6a6a" stroke-width="0.5"/>
<rect transform="translate(287.00,84.50)" width="14.00" height="11.00" fill="#3e3a39" stroke="#3e3a39" stroke-width="0.5"/>
<rect x="287.00" y="95.50" width="20.00" height="16.00" fill="#fff100"/>
<path d="M287.00,98.70h20.00M287.00,101.90h20.00M287.00,105.10h20.00M287.00,108.30h20.00" stroke="#4f4800" stroke-width="0.48" fill="none"/>
<path d="M287.90,97.10H306.40M289.10,100.30H306.40M287.90,103.50H306.40M289.10,106.70H306.40M287.90,109.90H306.40" stroke="#5a5200" stroke-width="0.6" stroke-dasharray="0.7,2.6" fill="none"/>
<rect x="287.00" y="95.50" width="20.00" height="16.00" fill="none" stroke="#4a4300" stroke-width="0.5"/>
<rect x="287.00" y="111.50" width="20.00" height="6.00" fill="#a8daf7"/>
<path d="M287.00,114.50h20.00" stroke="#3f6f9f" stroke-width="0.95" fill="none"/>
<path d="M288.60,111.80v2.40M294.60,111.80v2.40M300.60,111.80v2.40M291.60,114.80v2.40M297.60,114.80v2.40M303.60,114.80v2.40" stroke="#5f8fbc" stroke-width="0.6" fill="none"/>
<rect x="287.00" y="111.50" width="20.00" height="6.00" fill="none" stroke="#3d6f9e" stroke-width="0.5"/>
<rect transform="translate(287.00,117.50)" width="36.50" height="44.50" fill="#1697dc" stroke="#1b6fa8" stroke-width="0.5"/>
<path d="M296.40,118.90l1.58,2.85h-3.15z" fill="#dcf35a"/>
<path d="M307.85,118.90l1.58,2.85h-3.15z" fill="#dcf35a"/>
<path d="M319.30,118.90l1.58,2.85h-3.15z" fill="#dcf35a"/>
<path d="M290.70,124.51l1.58,2.85h-3.15z" fill="#dcf35a"/>
<path d="M302.15,124.51l1.58,2.85h-3.15z" fill="#dcf35a"/>
<path d="M313.60,124.51l1.58,2.85h-3.15z" fill="#dcf35a"/>
<path d="M296.40,130.13l1.58,2.85h-3.15z" fill="#dcf35a"/>
<path d="M307.85,130.13l1.58,2.85h-3.15z" fill="#dcf35a"/>
<path d="M319.30,130.13l1.58,2.85h-3.15z" fill="#dcf35a"/>
<path d="M290.70,135.74l1.58,2.85h-3.15z" fill="#dcf35a"/>
<path d="M302.15,135.74l1.58,2.85h-3.15z" fill="#dcf35a"/>
<path d="M313.60,135.74l1.58,2.85h-3.15z" fill="#dcf35a"/>
<path d="M296.40,141.36l1.58,2.85h-3.15z" fill="#dcf35a"/>
<path d="M307.85,141.36l1.58,2.85h-3.15z" fill="#dcf35a"/>
<path d="M319.30,141.36l1.58,2.85h-3.15z" fill="#dcf35a"/>
<path d="M290.70,146.97l1.58,2.85h-3.15z" fill="#dcf35a"/>
<path d="M302.15,146.97l1.58,2.85h-3.15z" fill="#dcf35a"/>
<path d="M313.60,146.97l1.58,2.85h-3.15z" fill="#dcf35a"/>
<path d="M296.40,152.59l1.58,2.85h-3.15z" fill="#dcf35a"/>
<path d="M307.85,152.59l1.58,2.85h-3.15z" fill="#dcf35a"/>
<path d="M319.30,152.59l1.58,2.85h-3.15z" fill="#dcf35a"/>
<path d="M290.70,158.20l1.58,2.85h-3.15z" fill="#dcf35a"/>
<path d="M302.15,158.20l1.58,2.85h-3.15z" fill="#dcf35a"/>
<path d="M313.60,158.20l1.58,2.85h-3.15z" fill="#dcf35a"/>
<rect transform="translate(287.00,162.00)" width="14.00" height="15.00" fill="#3e3a39" stroke="#3e3a39" stroke-width="0.5"/>
<rect transform="translate(287.00,177.00)" width="36.50" height="18.00" fill="#1697dc" stroke="#1b6fa8" stroke-width="0.5"/>
<path d="M296.40,178.40l1.58,2.85h-3.15z" fill="#dcf35a"/>
<path d="M307.85,178.40l1.58,2.85h-3.15z" fill="#dcf35a"/>
<path d="M319.30,178.40l1.58,2.85h-3.15z" fill="#dcf35a"/>
<path d="M290.70,184.80l1.58,2.85h-3.15z" fill="#dcf35a"/>
<path d="M302.15,184.80l1.58,2.85h-3.15z" fill="#dcf35a"/>
<path d="M313.60,184.80l1.58,2.85h-3.15z" fill="#dcf35a"/>
<path d="M296.40,191.20l1.58,2.85h-3.15z" fill="#dcf35a"/>
<path d="M307.85,191.20l1.58,2.85h-3.15z" fill="#dcf35a"/>
<path d="M319.30,191.20l1.58,2.85h-3.15z" fill="#dcf35a"/>
<rect x="287.00" y="195.00" width="24.50" height="15.00" fill="#fff100"/>
<path d="M287.00,198.00h24.50M287.00,201.00h24.50M287.00,204.00h24.50M287.00,207.00h24.50" stroke="#4f4800" stroke-width="0.48" fill="none"/>
<path d="M287.90,196.50H310.90M289.10,199.50H310.90M287.90,202.50H310.90M289.10,205.50H310.90M287.90,208.50H310.90" stroke="#5a5200" stroke-width="0.6" stroke-dasharray="0.7,2.6" fill="none"/>
<rect x="287.00" y="195.00" width="24.50" height="15.00" fill="none" stroke="#4a4300" stroke-width="0.5"/>
<rect x="287.00" y="210.00" width="20.00" height="9.00" fill="#fff100"/>
<path d="M287.00,213.00h20.00M287.00,216.00h20.00" stroke="#4f4800" stroke-width="0.48" fill="none"/>
<path d="M287.90,211.50H306.40M289.10,214.50H306.40M287.90,217.50H306.40" stroke="#5a5200" stroke-width="0.6" stroke-dasharray="0.7,2.6" fill="none"/>
<rect x="287.00" y="210.00" width="20.00" height="9.00" fill="none" stroke="#4a4300" stroke-width="0.5"/>
<rect transform="translate(287.00,219.00)" width="36.50" height="69.00" fill="#1697dc" stroke="#1b6fa8" stroke-width="0.5"/>
<path d="M296.40,220.40l1.58,2.85h-3.15z" fill="#dcf35a"/>
<path d="M307.85,220.40l1.58,2.85h-3.15z" fill="#dcf35a"/>
<path d="M319.30,220.40l1.58,2.85h-3.15z" fill="#dcf35a"/>
<path d="M290.70,226.20l1.58,2.85h-3.15z" fill="#dcf35a"/>
<path d="M302.15,226.20l1.58,2.85h-3.15z" fill="#dcf35a"/>
<path d="M313.60,226.20l1.58,2.85h-3.15z" fill="#dcf35a"/>
<path d="M296.40,232.00l1.58,2.85h-3.15z" fill="#dcf35a"/>
<path d="M307.85,232.00l1.58,2.85h-3.15z" fill="#dcf35a"/>
<path d="M319.30,232.00l1.58,2.85h-3.15z" fill="#dcf35a"/>
<path d="M290.70,237.80l1.58,2.85h-3.15z" fill="#dcf35a"/>
<path d="M302.15,237.80l1.58,2.85h-3.15z" fill="#dcf35a"/>
<path d="M313.60,237.80l1.58,2.85h-3.15z" fill="#dcf35a"/>
<path d="M296.40,243.60l1.58,2.85h-3.15z" fill="#dcf35a"/>
<path d="M307.85,243.60l1.58,2.85h-3.15z" fill="#dcf35a"/>
<path d="M319.30,243.60l1.58,2.85h-3.15z" fill="#dcf35a"/>
<path d="M290.70,249.40l1.58,2.85h-3.15z" fill="#dcf35a"/>
<path d="M302.15,249.40l1.58,2.85h-3.15z" fill="#dcf35a"/>
<path d="M313.60,249.40l1.58,2.85h-3.15z" fill="#dcf35a"/>
<path d="M296.40,255.20l1.58,2.85h-3.15z" fill="#dcf35a"/>
<path d="M307.85,255.20l1.58,2.85h-3.15z" fill="#dcf35a"/>
<path d="M319.30,255.20l1.58,2.85h-3.15z" fill="#dcf35a"/>
<path d="M290.70,261.00l1.58,2.85h-3.15z" fill="#dcf35a"/>
<path d="M302.15,261.00l1.58,2.85h-3.15z" fill="#dcf35a"/>
<path d="M313.60,261.00l1.58,2.85h-3.15z" fill="#dcf35a"/>
<path d="M296.40,266.80l1.58,2.85h-3.15z" fill="#dcf35a"/>
<path d="M307.85,266.80l1.58,2.85h-3.15z" fill="#dcf35a"/>
<path d="M319.30,266.80l1.58,2.85h-3.15z" fill="#dcf35a"/>
<path d="M290.70,272.60l1.58,2.85h-3.15z" fill="#dcf35a"/>
<path d="M302.15,272.60l1.58,2.85h-3.15z" fill="#dcf35a"/>
<path d="M313.60,272.60l1.58,2.85h-3.15z" fill="#dcf35a"/>
<path d="M296.40,278.40l1.58,2.85h-3.15z" fill="#dcf35a"/>
<path d="M307.85,278.40l1.58,2.85h-3.15z" fill="#dcf35a"/>
<path d="M319.30,278.40l1.58,2.85h-3.15z" fill="#dcf35a"/>
<path d="M290.70,284.20l1.58,2.85h-3.15z" fill="#dcf35a"/>
<path d="M302.15,284.20l1.58,2.85h-3.15z" fill="#dcf35a"/>
<path d="M313.60,284.20l1.58,2.85h-3.15z" fill="#dcf35a"/>
<rect x="287.00" y="288.00" width="20.00" height="45.00" fill="#fff100"/>
<path d="M287.00,291.21h20.00M287.00,294.43h20.00M287.00,297.64h20.00M287.00,300.86h20.00M287.00,304.07h20.00M287.00,307.29h20.00M287.00,310.50h20.00M287.00,313.71h20.00M287.00,316.93h20.00M287.00,320.14h20.00M287.00,323.36h20.00M287.00,326.57h20.00M287.00,329.79h20.00" stroke="#4f4800" stroke-width="0.48" fill="none"/>
<path d="M287.90,289.61H306.40M289.10,292.82H306.40M287.90,296.04H306.40M289.10,299.25H306.40M287.90,302.46H306.40M289.10,305.68H306.40M287.90,308.89H306.40M289.10,312.11H306.40M287.90,315.32H306.40M289.10,318.54H306.40M287.90,321.75H306.40M289.10,324.96H306.40M287.90,328.18H306.40M289.10,331.39H306.40" stroke="#5a5200" stroke-width="0.6" stroke-dasharray="0.7,2.6" fill="none"/>
<rect x="287.00" y="288.00" width="20.00" height="45.00" fill="none" stroke="#4a4300" stroke-width="0.5"/>
<rect transform="translate(287.00,333.00)" width="37.00" height="56.50" fill="url(#pG)" stroke="#0b6b35" stroke-width="0.5"/>
<rect transform="translate(287.00,389.50)" width="14.00" height="27.00" fill="#3e3a39" stroke="#3e3a39" stroke-width="0.5"/>
<line x1="288.00" y1="52.50" x2="300.00" y2="52.50" stroke="#6a6a6a" stroke-width="0.55"/>
<line x1="288.00" y1="55.50" x2="300.00" y2="55.50" stroke="#6a6a6a" stroke-width="0.55"/>
<line x1="288.00" y1="59.50" x2="300.00" y2="59.50" stroke="#6a6a6a" stroke-width="0.55"/>
<line x1="288.00" y1="62.50" x2="300.00" y2="62.50" stroke="#6a6a6a" stroke-width="0.55"/>
<line x1="288.00" y1="66.50" x2="300.00" y2="66.50" stroke="#6a6a6a" stroke-width="0.55"/>
<line x1="288.00" y1="73.50" x2="300.00" y2="73.50" stroke="#6a6a6a" stroke-width="0.55"/>
<line x1="288.00" y1="76.50" x2="300.00" y2="76.50" stroke="#6a6a6a" stroke-width="0.55"/>
<line x1="288.00" y1="80.50" x2="300.00" y2="80.50" stroke="#6a6a6a" stroke-width="0.55"/>
<line x1="289.00" y1="69.50" x2="299.50" y2="69.50" stroke="#eee" stroke-width="0.8" stroke-dasharray="2.5,1.5"/>
<text x="294.5" y="54" font-size="5" fill="#555">Si</text>
<text x="288.5" y="61" font-size="5" fill="#555">Si</text>
<text x="294.5" y="68" font-size="5" fill="#555">Si</text>
<text x="288.5" y="76" font-size="5" fill="#555">Si</text>
<text x="294.5" y="82.5" font-size="5" fill="#555">Si</text>
<path d="M287.00,306.00 C292.00,304.60 294.00,305.30 297.00,306.00 S303.00,307.40 307.00,306.00" fill="none" stroke="#4a4a40" stroke-width="2.5" opacity="0.8"/>
<path d="M287.00,306.00 C292.00,304.60 294.00,305.30 297.00,306.00 S303.00,307.40 307.00,306.00" fill="none" stroke="#fff" stroke-width="1.4"/>
<path d="M287.00,358.50 C296.25,355.30 299.95,356.90 305.50,358.50 S316.60,361.70 324.00,358.50" fill="none" stroke="#fff" stroke-width="3.2"/>
<path d="M287.00,402.50 C290.50,401.30 291.90,401.90 294.00,402.50 S298.20,403.70 301.00,402.50" fill="none" stroke="#4a4a40" stroke-width="2.3" opacity="0.8"/>
<path d="M287.00,402.50 C290.50,401.30 291.90,401.90 294.00,402.50 S298.20,403.70 301.00,402.50" fill="none" stroke="#ddd" stroke-width="1.2000000000000002"/>
<path d="M324,365 L317.5,376 L324,389.5 Z" fill="#f3aeb0" stroke="#a06060" stroke-width="0.4"/>
<path d="M320.5,374.5h2M321.5,373.5v2M321.5,380h2M322.5,379v2" stroke="#c0272d" stroke-width="0.4"/>
<rect x="287.00" y="416.50" width="20.00" height="21.00" fill="#a8daf7"/>
<path d="M287.00,419.50h20.00M287.00,422.50h20.00M287.00,425.50h20.00M287.00,428.50h20.00M287.00,431.50h20.00M287.00,434.50h20.00" stroke="#3f6f9f" stroke-width="0.9" fill="none"/>
<path d="M288.60,416.80v2.40M296.60,416.80v2.40M304.60,416.80v2.40M292.60,419.80v2.40M300.60,419.80v2.40M288.60,422.80v2.40M296.60,422.80v2.40M304.60,422.80v2.40M292.60,425.80v2.40M300.60,425.80v2.40M288.60,428.80v2.40M296.60,428.80v2.40M304.60,428.80v2.40M292.60,431.80v2.40M300.60,431.80v2.40M288.60,434.80v2.40M296.60,434.80v2.40M304.60,434.80v2.40" stroke="#5f8fbc" stroke-width="0.8" fill="none"/>
<rect x="287.00" y="416.50" width="20.00" height="21.00" fill="none" stroke="#3d6f9e" stroke-width="0.5"/>
<rect x="287.00" y="437.50" width="19.50" height="18.50" fill="#fff100"/>
<path d="M287.00,440.58h19.50M287.00,443.67h19.50M287.00,446.75h19.50M287.00,449.83h19.50M287.00,452.92h19.50" stroke="#4f4800" stroke-width="0.48" fill="none"/>
<path d="M287.90,439.04H305.90M289.10,442.12H305.90M287.90,445.21H305.90M289.10,448.29H305.90M287.90,451.38H305.90M289.10,454.46H305.90" stroke="#5a5200" stroke-width="0.6" stroke-dasharray="0.7,2.6" fill="none"/>
<rect x="287.00" y="437.50" width="19.50" height="18.50" fill="none" stroke="#4a4300" stroke-width="0.5"/>
<path d="M287.00,437.20 C292.00,435.40 294.00,436.30 297.00,437.20 S303.00,439.00 307.00,437.20" fill="none" stroke="#4a4a40" stroke-width="2.6" opacity="0.8"/>
<path d="M287.00,437.20 C292.00,435.40 294.00,436.30 297.00,437.20 S303.00,439.00 307.00,437.20" fill="none" stroke="#fff" stroke-width="1.5"/>
<rect x="287.00" y="456.00" width="24.00" height="4.00" fill="#fff100"/>
<path d="M287.90,458.00H310.40" stroke="#5a5200" stroke-width="0.6" stroke-dasharray="0.7,2.6" fill="none"/>
<rect x="287.00" y="456.00" width="24.00" height="4.00" fill="none" stroke="#4a4300" stroke-width="0.5"/>
<rect x="287.00" y="460.00" width="30.00" height="5.00" fill="#ec7c1a"/>
<path d="M288.20,462.50H316.40" stroke="#7a3808" stroke-width="1.15" stroke-dasharray="1.2,1.4" fill="none"/>
<rect x="287.00" y="460.00" width="30.00" height="5.00" fill="none" stroke="#6a3a08" stroke-width="0.75"/>
<clipPath id="wc2"><path transform="translate(287.00,465.00)" d="M0,0 L40.00,0 L40.00,4.20 Q37.14,6.80 34.29,4.20 Q31.43,6.80 28.57,4.20 Q25.71,6.80 22.86,4.20 Q20.00,6.80 17.14,4.20 Q14.29,6.80 11.43,4.20 Q8.57,6.80 5.71,4.20 Q2.86,6.80 -0.00,4.20 Z"/></clipPath>
<path transform="translate(287.00,465.00)" d="M0,0 L40.00,0 L40.00,4.20 Q37.14,6.80 34.29,4.20 Q31.43,6.80 28.57,4.20 Q25.71,6.80 22.86,4.20 Q20.00,6.80 17.14,4.20 Q14.29,6.80 11.43,4.20 Q8.57,6.80 5.71,4.20 Q2.86,6.80 -0.00,4.20 Z" fill="#ec7c1a"/>
<path d="M287.00,468.01h40.00" stroke="#9a5010" stroke-width="0.65" fill="none" clip-path="url(#wc2)"/>
<path d="M288.20,466.50H326.40M289.60,469.51H326.40" stroke="#7a3808" stroke-width="1.15" stroke-dasharray="1.2,1.4" fill="none" clip-path="url(#wc2)"/>
<path transform="translate(287.00,465.00)" d="M0,0 L40.00,0 L40.00,4.20 Q37.14,6.80 34.29,4.20 Q31.43,6.80 28.57,4.20 Q25.71,6.80 22.86,4.20 Q20.00,6.80 17.14,4.20 Q14.29,6.80 11.43,4.20 Q8.57,6.80 5.71,4.20 Q2.86,6.80 -0.00,4.20 Z" fill="none" stroke="#6a3a08" stroke-width="0.5"/>
<rect transform="translate(287.00,470.50)" width="10.50" height="9.50" fill="url(#pI)" stroke="#8a5050" stroke-width="0.5"/>
<rect transform="translate(297.50,470.50)" width="14.50" height="9.50" fill="url(#pB)" stroke="#4a4038" stroke-width="0.5"/>
<rect transform="translate(409.00,41.00)" width="13.50" height="15.00" fill="#3e3a39" stroke="#3e3a39" stroke-width="0.5"/>
<rect x="409.00" y="56.00" width="20.50" height="68.00" fill="#a8daf7"/>
<path d="M409.00,58.62h20.50M409.00,61.23h20.50M409.00,63.85h20.50M409.00,66.46h20.50M409.00,69.08h20.50M409.00,71.69h20.50M409.00,74.31h20.50M409.00,76.92h20.50M409.00,79.54h20.50M409.00,82.15h20.50M409.00,84.77h20.50M409.00,87.38h20.50M409.00,90.00h20.50M409.00,92.62h20.50M409.00,95.23h20.50M409.00,97.85h20.50M409.00,100.46h20.50M409.00,103.08h20.50M409.00,105.69h20.50M409.00,108.31h20.50M409.00,110.92h20.50M409.00,113.54h20.50M409.00,116.15h20.50M409.00,118.77h20.50M409.00,121.38h20.50" stroke="#3f6f9f" stroke-width="0.95" fill="none"/>
<path d="M410.60,56.30v2.02M416.60,56.30v2.02M422.60,56.30v2.02M428.60,56.30v2.02M413.60,58.92v2.02M419.60,58.92v2.02M425.60,58.92v2.02M410.60,61.53v2.02M416.60,61.53v2.02M422.60,61.53v2.02M428.60,61.53v2.02M413.60,64.15v2.02M419.60,64.15v2.02M425.60,64.15v2.02M410.60,66.76v2.02M416.60,66.76v2.02M422.60,66.76v2.02M428.60,66.76v2.02M413.60,69.38v2.02M419.60,69.38v2.02M425.60,69.38v2.02M410.60,71.99v2.02M416.60,71.99v2.02M422.60,71.99v2.02M428.60,71.99v2.02M413.60,74.61v2.02M419.60,74.61v2.02M425.60,74.61v2.02M410.60,77.22v2.02M416.60,77.22v2.02M422.60,77.22v2.02M428.60,77.22v2.02M413.60,79.84v2.02M419.60,79.84v2.02M425.60,79.84v2.02M410.60,82.45v2.02M416.60,82.45v2.02M422.60,82.45v2.02M428.60,82.45v2.02M413.60,85.07v2.02M419.60,85.07v2.02M425.60,85.07v2.02M410.60,87.68v2.02M416.60,87.68v2.02M422.60,87.68v2.02M428.60,87.68v2.02M413.60,90.30v2.02M419.60,90.30v2.02M425.60,90.30v2.02M410.60,92.92v2.02M416.60,92.92v2.02M422.60,92.92v2.02M428.60,92.92v2.02M413.60,95.53v2.02M419.60,95.53v2.02M425.60,95.53v2.02M410.60,98.15v2.02M416.60,98.15v2.02M422.60,98.15v2.02M428.60,98.15v2.02M413.60,100.76v2.02M419.60,100.76v2.02M425.60,100.76v2.02M410.60,103.38v2.02M416.60,103.38v2.02M422.60,103.38v2.02M428.60,103.38v2.02M413.60,105.99v2.02M419.60,105.99v2.02M425.60,105.99v2.02M410.60,108.61v2.02M416.60,108.61v2.02M422.60,108.61v2.02M428.60,108.61v2.02M413.60,111.22v2.02M419.60,111.22v2.02M425.60,111.22v2.02M410.60,113.84v2.02M416.60,113.84v2.02M422.60,113.84v2.02M428.60,113.84v2.02M413.60,116.45v2.02M419.60,116.45v2.02M425.60,116.45v2.02M410.60,119.07v2.02M416.60,119.07v2.02M422.60,119.07v2.02M428.60,119.07v2.02M413.60,121.68v2.02M419.60,121.68v2.02M425.60,121.68v2.02" stroke="#5f8fbc" stroke-width="0.6" fill="none"/>
<rect x="409.00" y="56.00" width="20.50" height="68.00" fill="none" stroke="#3d6f9e" stroke-width="0.5"/>
<rect x="409.00" y="124.00" width="24.50" height="28.00" fill="#fff100"/>
<path d="M409.00,127.50h24.50M409.00,131.00h24.50M409.00,134.50h24.50M409.00,138.00h24.50M409.00,141.50h24.50M409.00,145.00h24.50M409.00,148.50h24.50" stroke="#4f4800" stroke-width="0.48" fill="none"/>
<path d="M409.90,125.75H432.90M411.10,129.25H432.90M409.90,132.75H432.90M411.10,136.25H432.90M409.90,139.75H432.90M411.10,143.25H432.90M409.90,146.75H432.90M411.10,150.25H432.90" stroke="#5a5200" stroke-width="0.6" stroke-dasharray="0.7,2.6" fill="none"/>
<rect x="409.00" y="124.00" width="24.50" height="28.00" fill="none" stroke="#4a4300" stroke-width="0.5"/>
<rect transform="translate(409.00,152.00)" width="36.00" height="49.50" fill="#1697dc" stroke="#1b6fa8" stroke-width="0.5"/>
<path d="M418.40,153.40l1.58,2.85h-3.15z" fill="#dcf35a"/>
<path d="M429.85,153.40l1.58,2.85h-3.15z" fill="#dcf35a"/>
<path d="M441.30,153.40l1.58,2.85h-3.15z" fill="#dcf35a"/>
<path d="M412.70,158.94l1.58,2.85h-3.15z" fill="#dcf35a"/>
<path d="M424.15,158.94l1.58,2.85h-3.15z" fill="#dcf35a"/>
<path d="M435.60,158.94l1.58,2.85h-3.15z" fill="#dcf35a"/>
<path d="M418.40,164.47l1.58,2.85h-3.15z" fill="#dcf35a"/>
<path d="M429.85,164.47l1.58,2.85h-3.15z" fill="#dcf35a"/>
<path d="M441.30,164.47l1.58,2.85h-3.15z" fill="#dcf35a"/>
<path d="M412.70,170.01l1.58,2.85h-3.15z" fill="#dcf35a"/>
<path d="M424.15,170.01l1.58,2.85h-3.15z" fill="#dcf35a"/>
<path d="M435.60,170.01l1.58,2.85h-3.15z" fill="#dcf35a"/>
<path d="M418.40,175.55l1.58,2.85h-3.15z" fill="#dcf35a"/>
<path d="M429.85,175.55l1.58,2.85h-3.15z" fill="#dcf35a"/>
<path d="M441.30,175.55l1.58,2.85h-3.15z" fill="#dcf35a"/>
<path d="M412.70,181.09l1.58,2.85h-3.15z" fill="#dcf35a"/>
<path d="M424.15,181.09l1.58,2.85h-3.15z" fill="#dcf35a"/>
<path d="M435.60,181.09l1.58,2.85h-3.15z" fill="#dcf35a"/>
<path d="M418.40,186.62l1.58,2.85h-3.15z" fill="#dcf35a"/>
<path d="M429.85,186.62l1.58,2.85h-3.15z" fill="#dcf35a"/>
<path d="M441.30,186.62l1.58,2.85h-3.15z" fill="#dcf35a"/>
<path d="M412.70,192.16l1.58,2.85h-3.15z" fill="#dcf35a"/>
<path d="M424.15,192.16l1.58,2.85h-3.15z" fill="#dcf35a"/>
<path d="M435.60,192.16l1.58,2.85h-3.15z" fill="#dcf35a"/>
<path d="M418.40,197.70l1.58,2.85h-3.15z" fill="#dcf35a"/>
<path d="M429.85,197.70l1.58,2.85h-3.15z" fill="#dcf35a"/>
<path d="M441.30,197.70l1.58,2.85h-3.15z" fill="#dcf35a"/>
<rect transform="translate(409.00,201.50)" width="37.00" height="72.00" fill="url(#pG)" stroke="#0b6b35" stroke-width="0.5"/>
<rect x="409.00" y="273.50" width="30.50" height="4.00" fill="#ec7c1a"/>
<path d="M410.20,275.50H438.90" stroke="#7a3808" stroke-width="1.15" stroke-dasharray="1.2,1.4" fill="none"/>
<rect x="409.00" y="273.50" width="30.50" height="4.00" fill="none" stroke="#6a3a08" stroke-width="0.75"/>
<path d="M409.00,78.00 C414.12,76.40 416.18,77.20 419.25,78.00 S425.40,79.60 429.50,78.00" fill="none" stroke="#4a4a40" stroke-width="2.5" opacity="0.8"/>
<path d="M409.00,78.00 C414.12,76.40 416.18,77.20 419.25,78.00 S425.40,79.60 429.50,78.00" fill="none" stroke="#fff" stroke-width="1.4"/>
<path d="M409.00,100.00 C414.12,98.40 416.18,99.20 419.25,100.00 S425.40,101.60 429.50,100.00" fill="none" stroke="#4a4a40" stroke-width="2.5" opacity="0.8"/>
<path d="M409.00,100.00 C414.12,98.40 416.18,99.20 419.25,100.00 S425.40,101.60 429.50,100.00" fill="none" stroke="#fff" stroke-width="1.4"/>
<path d="M409.00,232.50 C418.25,229.30 421.95,230.90 427.50,232.50 S438.60,235.70 446.00,232.50" fill="none" stroke="#fff" stroke-width="3.2"/>
<clipPath id="wc3"><path transform="translate(409.00,277.50)" d="M0,0 L40.00,0 L40.00,4.20 Q37.14,6.80 34.29,4.20 Q31.43,6.80 28.57,4.20 Q25.71,6.80 22.86,4.20 Q20.00,6.80 17.14,4.20 Q14.29,6.80 11.43,4.20 Q8.57,6.80 5.71,4.20 Q2.86,6.80 -0.00,4.20 Z"/></clipPath>
<path transform="translate(409.00,277.50)" d="M0,0 L40.00,0 L40.00,4.20 Q37.14,6.80 34.29,4.20 Q31.43,6.80 28.57,4.20 Q25.71,6.80 22.86,4.20 Q20.00,6.80 17.14,4.20 Q14.29,6.80 11.43,4.20 Q8.57,6.80 5.71,4.20 Q2.86,6.80 -0.00,4.20 Z" fill="#ec7c1a"/>
<path d="M409.00,280.51h40.00" stroke="#9a5010" stroke-width="0.65" fill="none" clip-path="url(#wc3)"/>
<path d="M410.20,279.00H448.40M411.60,282.01H448.40" stroke="#7a3808" stroke-width="1.15" stroke-dasharray="1.2,1.4" fill="none" clip-path="url(#wc3)"/>
<path transform="translate(409.00,277.50)" d="M0,0 L40.00,0 L40.00,4.20 Q37.14,6.80 34.29,4.20 Q31.43,6.80 28.57,4.20 Q25.71,6.80 22.86,4.20 Q20.00,6.80 17.14,4.20 Q14.29,6.80 11.43,4.20 Q8.57,6.80 5.71,4.20 Q2.86,6.80 -0.00,4.20 Z" fill="none" stroke="#6a3a08" stroke-width="0.5"/>
<rect transform="translate(409.00,283.00)" width="25.00" height="10.50" fill="url(#pB)" stroke="#4a4038" stroke-width="0.5"/>
<rect x="522.50" y="41.00" width="21.00" height="103.00" fill="#a8daf7"/>
<path d="M522.50,43.58h21.00M522.50,46.15h21.00M522.50,48.73h21.00M522.50,51.30h21.00M522.50,53.88h21.00M522.50,56.45h21.00M522.50,59.03h21.00M522.50,61.60h21.00M522.50,64.17h21.00M522.50,66.75h21.00M522.50,69.33h21.00M522.50,71.90h21.00M522.50,74.47h21.00M522.50,77.05h21.00M522.50,79.62h21.00M522.50,82.20h21.00M522.50,84.78h21.00M522.50,87.35h21.00M522.50,89.93h21.00M522.50,92.50h21.00M522.50,95.08h21.00M522.50,97.65h21.00M522.50,100.22h21.00M522.50,102.80h21.00M522.50,105.38h21.00M522.50,107.95h21.00M522.50,110.53h21.00M522.50,113.10h21.00M522.50,115.68h21.00M522.50,118.25h21.00M522.50,120.83h21.00M522.50,123.40h21.00M522.50,125.98h21.00M522.50,128.55h21.00M522.50,131.12h21.00M522.50,133.70h21.00M522.50,136.28h21.00M522.50,138.85h21.00M522.50,141.43h21.00" stroke="#3f6f9f" stroke-width="0.95" fill="none"/>
<path d="M524.10,41.30v1.98M530.10,41.30v1.98M536.10,41.30v1.98M542.10,41.30v1.98M527.10,43.88v1.98M533.10,43.88v1.98M539.10,43.88v1.98M524.10,46.45v1.98M530.10,46.45v1.98M536.10,46.45v1.98M542.10,46.45v1.98M527.10,49.02v1.98M533.10,49.02v1.98M539.10,49.02v1.98M524.10,51.60v1.98M530.10,51.60v1.98M536.10,51.60v1.98M542.10,51.60v1.98M527.10,54.17v1.98M533.10,54.17v1.98M539.10,54.17v1.98M524.10,56.75v1.98M530.10,56.75v1.98M536.10,56.75v1.98M542.10,56.75v1.98M527.10,59.33v1.98M533.10,59.33v1.98M539.10,59.33v1.98M524.10,61.90v1.98M530.10,61.90v1.98M536.10,61.90v1.98M542.10,61.90v1.98M527.10,64.47v1.98M533.10,64.47v1.98M539.10,64.47v1.98M524.10,67.05v1.98M530.10,67.05v1.98M536.10,67.05v1.98M542.10,67.05v1.98M527.10,69.62v1.98M533.10,69.62v1.98M539.10,69.62v1.98M524.10,72.20v1.98M530.10,72.20v1.98M536.10,72.20v1.98M542.10,72.20v1.98M527.10,74.77v1.98M533.10,74.77v1.98M539.10,74.77v1.98M524.10,77.35v1.98M530.10,77.35v1.98M536.10,77.35v1.98M542.10,77.35v1.98M527.10,79.92v1.98M533.10,79.92v1.98M539.10,79.92v1.98M524.10,82.50v1.98M530.10,82.50v1.98M536.10,82.50v1.98M542.10,82.50v1.98M527.10,85.08v1.98M533.10,85.08v1.98M539.10,85.08v1.98M524.10,87.65v1.98M530.10,87.65v1.98M536.10,87.65v1.98M542.10,87.65v1.98M527.10,90.23v1.98M533.10,90.23v1.98M539.10,90.23v1.98M524.10,92.80v1.98M530.10,92.80v1.98M536.10,92.80v1.98M542.10,92.80v1.98M527.10,95.38v1.98M533.10,95.38v1.98M539.10,95.38v1.98M524.10,97.95v1.98M530.10,97.95v1.98M536.10,97.95v1.98M542.10,97.95v1.98M527.10,100.52v1.98M533.10,100.52v1.98M539.10,100.52v1.98M524.10,103.10v1.98M530.10,103.10v1.98M536.10,103.10v1.98M542.10,103.10v1.98M527.10,105.67v1.98M533.10,105.67v1.98M539.10,105.67v1.98M524.10,108.25v1.98M530.10,108.25v1.98M536.10,108.25v1.98M542.10,108.25v1.98M527.10,110.83v1.98M533.10,110.83v1.98M539.10,110.83v1.98M524.10,113.40v1.98M530.10,113.40v1.98M536.10,113.40v1.98M542.10,113.40v1.98M527.10,115.98v1.98M533.10,115.98v1.98M539.10,115.98v1.98M524.10,118.55v1.98M530.10,118.55v1.98M536.10,118.55v1.98M542.10,118.55v1.98M527.10,121.12v1.98M533.10,121.12v1.98M539.10,121.12v1.98M524.10,123.70v1.98M530.10,123.70v1.98M536.10,123.70v1.98M542.10,123.70v1.98M527.10,126.28v1.98M533.10,126.28v1.98M539.10,126.28v1.98M524.10,128.85v1.98M530.10,128.85v1.98M536.10,128.85v1.98M542.10,128.85v1.98M527.10,131.43v1.98M533.10,131.43v1.98M539.10,131.43v1.98M524.10,134.00v1.98M530.10,134.00v1.98M536.10,134.00v1.98M542.10,134.00v1.98M527.10,136.58v1.98M533.10,136.58v1.98M539.10,136.58v1.98M524.10,139.15v1.98M530.10,139.15v1.98M536.10,139.15v1.98M542.10,139.15v1.98M527.10,141.73v1.98M533.10,141.73v1.98M539.10,141.73v1.98" stroke="#5f8fbc" stroke-width="0.6" fill="none"/>
<rect x="522.50" y="41.00" width="21.00" height="103.00" fill="none" stroke="#3d6f9e" stroke-width="0.5"/>
<rect x="522.50" y="144.00" width="25.00" height="8.00" fill="#fff100"/>
<path d="M522.50,148.00h25.00" stroke="#4f4800" stroke-width="0.48" fill="none"/>
<path d="M523.40,146.00H546.90M524.60,150.00H546.90" stroke="#5a5200" stroke-width="0.6" stroke-dasharray="0.7,2.6" fill="none"/>
<rect x="522.50" y="144.00" width="25.00" height="8.00" fill="none" stroke="#4a4300" stroke-width="0.5"/>
<rect transform="translate(522.50,152.00)" width="13.50" height="11.00" fill="#3e3a39" stroke="#3e3a39" stroke-width="0.5"/>
<rect transform="translate(522.50,163.00)" width="36.50" height="8.00" fill="#1697dc" stroke="#1b6fa8" stroke-width="0.5"/>
<path d="M531.90,164.20l1.37,2.47h-2.73z" fill="#dcf35a"/>
<path d="M543.35,164.20l1.37,2.47h-2.73z" fill="#dcf35a"/>
<path d="M554.80,164.20l1.37,2.47h-2.73z" fill="#dcf35a"/>
<path d="M526.20,167.60l1.37,2.47h-2.73z" fill="#dcf35a"/>
<path d="M537.65,167.60l1.37,2.47h-2.73z" fill="#dcf35a"/>
<path d="M549.10,167.60l1.37,2.47h-2.73z" fill="#dcf35a"/>
<rect x="522.50" y="171.00" width="24.00" height="54.00" fill="#fff100"/>
<path d="M522.50,174.38h24.00M522.50,177.75h24.00M522.50,181.12h24.00M522.50,184.50h24.00M522.50,187.88h24.00M522.50,191.25h24.00M522.50,194.62h24.00M522.50,198.00h24.00M522.50,201.38h24.00M522.50,204.75h24.00M522.50,208.12h24.00M522.50,211.50h24.00M522.50,214.88h24.00M522.50,218.25h24.00M522.50,221.62h24.00" stroke="#4f4800" stroke-width="0.48" fill="none"/>
<path d="M523.40,172.69H545.90M524.60,176.06H545.90M523.40,179.44H545.90M524.60,182.81H545.90M523.40,186.19H545.90M524.60,189.56H545.90M523.40,192.94H545.90M524.60,196.31H545.90M523.40,199.69H545.90M524.60,203.06H545.90M523.40,206.44H545.90M524.60,209.81H545.90M523.40,213.19H545.90M524.60,216.56H545.90M523.40,219.94H545.90M524.60,223.31H545.90" stroke="#5a5200" stroke-width="0.6" stroke-dasharray="0.7,2.6" fill="none"/>
<rect x="522.50" y="171.00" width="24.00" height="54.00" fill="none" stroke="#4a4300" stroke-width="0.5"/>
<rect transform="translate(522.50,225.00)" width="37.50" height="4.00" fill="url(#pG)" stroke="#0b6b35" stroke-width="0.5"/>
<rect x="522.50" y="229.00" width="24.00" height="6.00" fill="#fff100"/>
<path d="M522.50,232.00h24.00" stroke="#4f4800" stroke-width="0.48" fill="none"/>
<path d="M523.40,230.50H545.90M524.60,233.50H545.90" stroke="#5a5200" stroke-width="0.6" stroke-dasharray="0.7,2.6" fill="none"/>
<rect x="522.50" y="229.00" width="24.00" height="6.00" fill="none" stroke="#4a4300" stroke-width="0.5"/>
<rect transform="translate(522.50,235.00)" width="37.50" height="3.50" fill="url(#pG)" stroke="#0b6b35" stroke-width="0.5"/>
<rect x="522.50" y="238.50" width="24.00" height="7.00" fill="#fff100"/>
<path d="M522.50,242.00h24.00" stroke="#4f4800" stroke-width="0.48" fill="none"/>
<path d="M523.40,240.25H545.90M524.60,243.75H545.90" stroke="#5a5200" stroke-width="0.6" stroke-dasharray="0.7,2.6" fill="none"/>
<rect x="522.50" y="238.50" width="24.00" height="7.00" fill="none" stroke="#4a4300" stroke-width="0.5"/>
<rect transform="translate(522.50,245.50)" width="13.50" height="5.50" fill="#3e3a39" stroke="#3e3a39" stroke-width="0.5"/>
<rect x="522.50" y="251.00" width="24.00" height="7.00" fill="#fff100"/>
<path d="M522.50,254.50h24.00" stroke="#4f4800" stroke-width="0.48" fill="none"/>
<path d="M523.40,252.75H545.90M524.60,256.25H545.90" stroke="#5a5200" stroke-width="0.6" stroke-dasharray="0.7,2.6" fill="none"/>
<rect x="522.50" y="251.00" width="24.00" height="7.00" fill="none" stroke="#4a4300" stroke-width="0.5"/>
<rect transform="translate(522.50,258.00)" width="37.50" height="4.50" fill="url(#pG)" stroke="#0b6b35" stroke-width="0.5"/>
<rect x="522.50" y="262.50" width="30.50" height="4.50" fill="#ec7c1a"/>
<path d="M523.70,264.75H552.40" stroke="#7a3808" stroke-width="1.15" stroke-dasharray="1.2,1.4" fill="none"/>
<rect x="522.50" y="262.50" width="30.50" height="4.50" fill="none" stroke="#6a3a08" stroke-width="0.75"/>
<path d="M522.50,78.00 C527.75,76.40 529.85,77.20 533.00,78.00 S539.30,79.60 543.50,78.00" fill="none" stroke="#4a4a40" stroke-width="2.5" opacity="0.8"/>
<path d="M522.50,78.00 C527.75,76.40 529.85,77.20 533.00,78.00 S539.30,79.60 543.50,78.00" fill="none" stroke="#fff" stroke-width="1.4"/>
<path d="M522.50,126.00 C527.75,124.40 529.85,125.20 533.00,126.00 S539.30,127.60 543.50,126.00" fill="none" stroke="#4a4a40" stroke-width="2.5" opacity="0.8"/>
<path d="M522.50,126.00 C527.75,124.40 529.85,125.20 533.00,126.00 S539.30,127.60 543.50,126.00" fill="none" stroke="#fff" stroke-width="1.4"/>
<clipPath id="wc4"><path transform="translate(522.50,267.00)" d="M0,0 L40.50,0 L40.50,4.20 Q37.61,6.80 34.71,4.20 Q31.82,6.80 28.93,4.20 Q26.04,6.80 23.14,4.20 Q20.25,6.80 17.36,4.20 Q14.46,6.80 11.57,4.20 Q8.68,6.80 5.79,4.20 Q2.89,6.80 0.00,4.20 Z"/></clipPath>
<path transform="translate(522.50,267.00)" d="M0,0 L40.50,0 L40.50,4.20 Q37.61,6.80 34.71,4.20 Q31.82,6.80 28.93,4.20 Q26.04,6.80 23.14,4.20 Q20.25,6.80 17.36,4.20 Q14.46,6.80 11.57,4.20 Q8.68,6.80 5.79,4.20 Q2.89,6.80 0.00,4.20 Z" fill="#ec7c1a"/>
<path d="M522.50,270.01h40.50" stroke="#9a5010" stroke-width="0.65" fill="none" clip-path="url(#wc4)"/>
<path d="M523.70,268.50H562.40M525.10,271.51H562.40" stroke="#7a3808" stroke-width="1.15" stroke-dasharray="1.2,1.4" fill="none" clip-path="url(#wc4)"/>
<path transform="translate(522.50,267.00)" d="M0,0 L40.50,0 L40.50,4.20 Q37.61,6.80 34.71,4.20 Q31.82,6.80 28.93,4.20 Q26.04,6.80 23.14,4.20 Q20.25,6.80 17.36,4.20 Q14.46,6.80 11.57,4.20 Q8.68,6.80 5.79,4.20 Q2.89,6.80 0.00,4.20 Z" fill="none" stroke="#6a3a08" stroke-width="0.5"/>
<rect transform="translate(522.50,272.50)" width="25.50" height="10.50" fill="url(#pB)" stroke="#4a4038" stroke-width="0.5"/>
<rect transform="translate(627.00,41.00)" width="14.00" height="15.00" fill="#3e3a39" stroke="#3e3a39" stroke-width="0.5"/>
<rect x="627.00" y="56.00" width="21.50" height="129.50" fill="#a8daf7"/>
<path d="M627.00,58.59h21.50M627.00,61.18h21.50M627.00,63.77h21.50M627.00,66.36h21.50M627.00,68.95h21.50M627.00,71.54h21.50M627.00,74.13h21.50M627.00,76.72h21.50M627.00,79.31h21.50M627.00,81.90h21.50M627.00,84.49h21.50M627.00,87.08h21.50M627.00,89.67h21.50M627.00,92.26h21.50M627.00,94.85h21.50M627.00,97.44h21.50M627.00,100.03h21.50M627.00,102.62h21.50M627.00,105.21h21.50M627.00,107.80h21.50M627.00,110.39h21.50M627.00,112.98h21.50M627.00,115.57h21.50M627.00,118.16h21.50M627.00,120.75h21.50M627.00,123.34h21.50M627.00,125.93h21.50M627.00,128.52h21.50M627.00,131.11h21.50M627.00,133.70h21.50M627.00,136.29h21.50M627.00,138.88h21.50M627.00,141.47h21.50M627.00,144.06h21.50M627.00,146.65h21.50M627.00,149.24h21.50M627.00,151.83h21.50M627.00,154.42h21.50M627.00,157.01h21.50M627.00,159.60h21.50M627.00,162.19h21.50M627.00,164.78h21.50M627.00,167.37h21.50M627.00,169.96h21.50M627.00,172.55h21.50M627.00,175.14h21.50M627.00,177.73h21.50M627.00,180.32h21.50M627.00,182.91h21.50" stroke="#3f6f9f" stroke-width="0.95" fill="none"/>
<path d="M628.60,56.30v1.99M634.60,56.30v1.99M640.60,56.30v1.99M646.60,56.30v1.99M631.60,58.89v1.99M637.60,58.89v1.99M643.60,58.89v1.99M628.60,61.48v1.99M634.60,61.48v1.99M640.60,61.48v1.99M646.60,61.48v1.99M631.60,64.07v1.99M637.60,64.07v1.99M643.60,64.07v1.99M628.60,66.66v1.99M634.60,66.66v1.99M640.60,66.66v1.99M646.60,66.66v1.99M631.60,69.25v1.99M637.60,69.25v1.99M643.60,69.25v1.99M628.60,71.84v1.99M634.60,71.84v1.99M640.60,71.84v1.99M646.60,71.84v1.99M631.60,74.43v1.99M637.60,74.43v1.99M643.60,74.43v1.99M628.60,77.02v1.99M634.60,77.02v1.99M640.60,77.02v1.99M646.60,77.02v1.99M631.60,79.61v1.99M637.60,79.61v1.99M643.60,79.61v1.99M628.60,82.20v1.99M634.60,82.20v1.99M640.60,82.20v1.99M646.60,82.20v1.99M631.60,84.79v1.99M637.60,84.79v1.99M643.60,84.79v1.99M628.60,87.38v1.99M634.60,87.38v1.99M640.60,87.38v1.99M646.60,87.38v1.99M631.60,89.97v1.99M637.60,89.97v1.99M643.60,89.97v1.99M628.60,92.56v1.99M634.60,92.56v1.99M640.60,92.56v1.99M646.60,92.56v1.99M631.60,95.15v1.99M637.60,95.15v1.99M643.60,95.15v1.99M628.60,97.74v1.99M634.60,97.74v1.99M640.60,97.74v1.99M646.60,97.74v1.99M631.60,100.33v1.99M637.60,100.33v1.99M643.60,100.33v1.99M628.60,102.92v1.99M634.60,102.92v1.99M640.60,102.92v1.99M646.60,102.92v1.99M631.60,105.51v1.99M637.60,105.51v1.99M643.60,105.51v1.99M628.60,108.10v1.99M634.60,108.10v1.99M640.60,108.10v1.99M646.60,108.10v1.99M631.60,110.69v1.99M637.60,110.69v1.99M643.60,110.69v1.99M628.60,113.28v1.99M634.60,113.28v1.99M640.60,113.28v1.99M646.60,113.28v1.99M631.60,115.87v1.99M637.60,115.87v1.99M643.60,115.87v1.99M628.60,118.46v1.99M634.60,118.46v1.99M640.60,118.46v1.99M646.60,118.46v1.99M631.60,121.05v1.99M637.60,121.05v1.99M643.60,121.05v1.99M628.60,123.64v1.99M634.60,123.64v1.99M640.60,123.64v1.99M646.60,123.64v1.99M631.60,126.23v1.99M637.60,126.23v1.99M643.60,126.23v1.99M628.60,128.82v1.99M634.60,128.82v1.99M640.60,128.82v1.99M646.60,128.82v1.99M631.60,131.41v1.99M637.60,131.41v1.99M643.60,131.41v1.99M628.60,134.00v1.99M634.60,134.00v1.99M640.60,134.00v1.99M646.60,134.00v1.99M631.60,136.59v1.99M637.60,136.59v1.99M643.60,136.59v1.99M628.60,139.18v1.99M634.60,139.18v1.99M640.60,139.18v1.99M646.60,139.18v1.99M631.60,141.77v1.99M637.60,141.77v1.99M643.60,141.77v1.99M628.60,144.36v1.99M634.60,144.36v1.99M640.60,144.36v1.99M646.60,144.36v1.99M631.60,146.95v1.99M637.60,146.95v1.99M643.60,146.95v1.99M628.60,149.54v1.99M634.60,149.54v1.99M640.60,149.54v1.99M646.60,149.54v1.99M631.60,152.13v1.99M637.60,152.13v1.99M643.60,152.13v1.99M628.60,154.72v1.99M634.60,154.72v1.99M640.60,154.72v1.99M646.60,154.72v1.99M631.60,157.31v1.99M637.60,157.31v1.99M643.60,157.31v1.99M628.60,159.90v1.99M634.60,159.90v1.99M640.60,159.90v1.99M646.60,159.90v1.99M631.60,162.49v1.99M637.60,162.49v1.99M643.60,162.49v1.99M628.60,165.08v1.99M634.60,165.08v1.99M640.60,165.08v1.99M646.60,165.08v1.99M631.60,167.67v1.99M637.60,167.67v1.99M643.60,167.67v1.99M628.60,170.26v1.99M634.60,170.26v1.99M640.60,170.26v1.99M646.60,170.26v1.99M631.60,172.85v1.99M637.60,172.85v1.99M643.60,172.85v1.99M628.60,175.44v1.99M634.60,175.44v1.99M640.60,175.44v1.99M646.60,175.44v1.99M631.60,178.03v1.99M637.60,178.03v1.99M643.60,178.03v1.99M628.60,180.62v1.99M634.60,180.62v1.99M640.60,180.62v1.99M646.60,180.62v1.99M631.60,183.21v1.99M637.60,183.21v1.99M643.60,183.21v1.99" stroke="#5f8fbc" stroke-width="0.6" fill="none"/>
<rect x="627.00" y="56.00" width="21.50" height="129.50" fill="none" stroke="#3d6f9e" stroke-width="0.5"/>
<rect x="627.00" y="185.50" width="20.50" height="13.50" fill="#fff100"/>
<path d="M627.00,188.88h20.50M627.00,192.25h20.50M627.00,195.62h20.50" stroke="#4f4800" stroke-width="0.48" fill="none"/>
<path d="M627.90,187.19H646.90M629.10,190.56H646.90M627.90,193.94H646.90M629.10,197.31H646.90" stroke="#5a5200" stroke-width="0.6" stroke-dasharray="0.7,2.6" fill="none"/>
<rect x="627.00" y="185.50" width="20.50" height="13.50" fill="none" stroke="#4a4300" stroke-width="0.5"/>
<rect transform="translate(627.00,199.00)" width="14.00" height="11.50" fill="#3e3a39" stroke="#3e3a39" stroke-width="0.5"/>
<rect x="627.00" y="210.50" width="20.50" height="10.00" fill="#fff100"/>
<path d="M627.00,213.83h20.50M627.00,217.17h20.50" stroke="#4f4800" stroke-width="0.48" fill="none"/>
<path d="M627.90,212.17H646.90M629.10,215.50H646.90M627.90,218.83H646.90" stroke="#5a5200" stroke-width="0.6" stroke-dasharray="0.7,2.6" fill="none"/>
<rect x="627.00" y="210.50" width="20.50" height="10.00" fill="none" stroke="#4a4300" stroke-width="0.5"/>
<rect x="627.00" y="220.50" width="21.50" height="5.50" fill="#a8daf7"/>
<path d="M627.00,223.25h21.50" stroke="#3f6f9f" stroke-width="0.95" fill="none"/>
<path d="M628.60,220.80v2.15M634.60,220.80v2.15M640.60,220.80v2.15M646.60,220.80v2.15M631.60,223.55v2.15M637.60,223.55v2.15M643.60,223.55v2.15" stroke="#5f8fbc" stroke-width="0.6" fill="none"/>
<rect x="627.00" y="220.50" width="21.50" height="5.50" fill="none" stroke="#3d6f9e" stroke-width="0.5"/>
<rect x="627.00" y="226.00" width="20.50" height="3.00" fill="#fff100"/>
<path d="M627.90,227.50H646.90" stroke="#5a5200" stroke-width="0.6" stroke-dasharray="0.7,2.6" fill="none"/>
<rect x="627.00" y="226.00" width="20.50" height="3.00" fill="none" stroke="#4a4300" stroke-width="0.5"/>
<rect x="627.00" y="229.00" width="21.50" height="4.00" fill="#a8daf7"/>
<path d="M627.00,231.00h21.50" stroke="#3f6f9f" stroke-width="0.95" fill="none"/>
<path d="M628.60,229.30v1.40M634.60,229.30v1.40M640.60,229.30v1.40M646.60,229.30v1.40M631.60,231.30v1.40M637.60,231.30v1.40M643.60,231.30v1.40" stroke="#5f8fbc" stroke-width="0.6" fill="none"/>
<rect x="627.00" y="229.00" width="21.50" height="4.00" fill="none" stroke="#3d6f9e" stroke-width="0.5"/>
<rect x="627.00" y="233.00" width="20.50" height="3.00" fill="#fff100"/>
<path d="M627.90,234.50H646.90" stroke="#5a5200" stroke-width="0.6" stroke-dasharray="0.7,2.6" fill="none"/>
<rect x="627.00" y="233.00" width="20.50" height="3.00" fill="none" stroke="#4a4300" stroke-width="0.5"/>
<rect transform="translate(627.00,236.00)" width="14.00" height="187.00" fill="#3e3a39" stroke="#3e3a39" stroke-width="0.5"/>
<rect x="627.00" y="295.50" width="20.50" height="3.50" fill="#fff100"/>
<path d="M627.90,297.25H646.90" stroke="#5a5200" stroke-width="0.6" stroke-dasharray="0.7,2.6" fill="none"/>
<rect x="627.00" y="295.50" width="20.50" height="3.50" fill="none" stroke="#4a4300" stroke-width="0.5"/>
<rect x="627.00" y="304.00" width="20.50" height="3.30" fill="#fff100"/>
<path d="M627.90,305.65H646.90" stroke="#5a5200" stroke-width="0.6" stroke-dasharray="0.7,2.6" fill="none"/>
<rect x="627.00" y="304.00" width="20.50" height="3.30" fill="none" stroke="#4a4300" stroke-width="0.5"/>
<rect x="627.00" y="307.80" width="20.50" height="3.20" fill="#fff100"/>
<path d="M627.90,309.40H646.90" stroke="#5a5200" stroke-width="0.6" stroke-dasharray="0.7,2.6" fill="none"/>
<rect x="627.00" y="307.80" width="20.50" height="3.20" fill="none" stroke="#4a4300" stroke-width="0.5"/>
<rect x="627.00" y="319.00" width="21.50" height="6.50" fill="#a8daf7"/>
<path d="M627.00,322.25h21.50" stroke="#3f6f9f" stroke-width="0.95" fill="none"/>
<path d="M628.60,319.30v2.65M634.60,319.30v2.65M640.60,319.30v2.65M646.60,319.30v2.65M631.60,322.55v2.65M637.60,322.55v2.65M643.60,322.55v2.65" stroke="#5f8fbc" stroke-width="0.6" fill="none"/>
<rect x="627.00" y="319.00" width="21.50" height="6.50" fill="none" stroke="#3d6f9e" stroke-width="0.5"/>
<rect x="627.00" y="329.50" width="20.50" height="3.50" fill="#fff100"/>
<path d="M627.90,331.25H646.90" stroke="#5a5200" stroke-width="0.6" stroke-dasharray="0.7,2.6" fill="none"/>
<rect x="627.00" y="329.50" width="20.50" height="3.50" fill="none" stroke="#4a4300" stroke-width="0.5"/>
<rect x="627.00" y="339.00" width="20.50" height="3.30" fill="#fff100"/>
<path d="M627.90,340.65H646.90" stroke="#5a5200" stroke-width="0.6" stroke-dasharray="0.7,2.6" fill="none"/>
<rect x="627.00" y="339.00" width="20.50" height="3.30" fill="none" stroke="#4a4300" stroke-width="0.5"/>
<rect x="627.00" y="342.80" width="20.50" height="3.20" fill="#fff100"/>
<path d="M627.90,344.40H646.90" stroke="#5a5200" stroke-width="0.6" stroke-dasharray="0.7,2.6" fill="none"/>
<rect x="627.00" y="342.80" width="20.50" height="3.20" fill="none" stroke="#4a4300" stroke-width="0.5"/>
<rect x="627.00" y="350.00" width="20.50" height="4.50" fill="#fff100"/>
<path d="M627.90,352.25H646.90" stroke="#5a5200" stroke-width="0.6" stroke-dasharray="0.7,2.6" fill="none"/>
<rect x="627.00" y="350.00" width="20.50" height="4.50" fill="none" stroke="#4a4300" stroke-width="0.5"/>
<rect x="627.00" y="355.00" width="20.50" height="4.50" fill="#fff100"/>
<path d="M627.90,357.25H646.90" stroke="#5a5200" stroke-width="0.6" stroke-dasharray="0.7,2.6" fill="none"/>
<rect x="627.00" y="355.00" width="20.50" height="4.50" fill="none" stroke="#4a4300" stroke-width="0.5"/>
<rect x="627.00" y="370.50" width="20.50" height="3.50" fill="#fff100"/>
<path d="M627.90,372.25H646.90" stroke="#5a5200" stroke-width="0.6" stroke-dasharray="0.7,2.6" fill="none"/>
<rect x="627.00" y="370.50" width="20.50" height="3.50" fill="none" stroke="#4a4300" stroke-width="0.5"/>
<rect x="627.00" y="377.50" width="20.50" height="3.00" fill="#fff100"/>
<path d="M627.90,379.00H646.90" stroke="#5a5200" stroke-width="0.6" stroke-dasharray="0.7,2.6" fill="none"/>
<rect x="627.00" y="377.50" width="20.50" height="3.00" fill="none" stroke="#4a4300" stroke-width="0.5"/>
<rect x="627.00" y="381.00" width="20.50" height="3.00" fill="#fff100"/>
<path d="M627.90,382.50H646.90" stroke="#5a5200" stroke-width="0.6" stroke-dasharray="0.7,2.6" fill="none"/>
<rect x="627.00" y="381.00" width="20.50" height="3.00" fill="none" stroke="#4a4300" stroke-width="0.5"/>
<rect x="627.00" y="386.00" width="20.50" height="4.00" fill="#fff100"/>
<path d="M627.90,388.00H646.90" stroke="#5a5200" stroke-width="0.6" stroke-dasharray="0.7,2.6" fill="none"/>
<rect x="627.00" y="386.00" width="20.50" height="4.00" fill="none" stroke="#4a4300" stroke-width="0.5"/>
<rect x="627.00" y="392.00" width="20.50" height="3.00" fill="#fff100"/>
<path d="M627.90,393.50H646.90" stroke="#5a5200" stroke-width="0.6" stroke-dasharray="0.7,2.6" fill="none"/>
<rect x="627.00" y="392.00" width="20.50" height="3.00" fill="none" stroke="#4a4300" stroke-width="0.5"/>
<rect x="627.00" y="396.00" width="20.50" height="3.50" fill="#fff100"/>
<path d="M627.90,397.75H646.90" stroke="#5a5200" stroke-width="0.6" stroke-dasharray="0.7,2.6" fill="none"/>
<rect x="627.00" y="396.00" width="20.50" height="3.50" fill="none" stroke="#4a4300" stroke-width="0.5"/>
<rect x="627.00" y="400.50" width="20.50" height="2.50" fill="#fff100"/>
<path d="M627.90,401.75H646.90" stroke="#5a5200" stroke-width="0.6" stroke-dasharray="0.7,2.6" fill="none"/>
<rect x="627.00" y="400.50" width="20.50" height="2.50" fill="none" stroke="#4a4300" stroke-width="0.5"/>
<rect x="627.00" y="403.00" width="21.50" height="6.50" fill="#a8daf7"/>
<path d="M627.00,406.25h21.50" stroke="#3f6f9f" stroke-width="0.95" fill="none"/>
<path d="M628.60,403.30v2.65M634.60,403.30v2.65M640.60,403.30v2.65M646.60,403.30v2.65M631.60,406.55v2.65M637.60,406.55v2.65M643.60,406.55v2.65" stroke="#5f8fbc" stroke-width="0.6" fill="none"/>
<rect x="627.00" y="403.00" width="21.50" height="6.50" fill="none" stroke="#3d6f9e" stroke-width="0.5"/>
<rect x="627.00" y="411.00" width="20.50" height="4.00" fill="#fff100"/>
<path d="M627.90,413.00H646.90" stroke="#5a5200" stroke-width="0.6" stroke-dasharray="0.7,2.6" fill="none"/>
<rect x="627.00" y="411.00" width="20.50" height="4.00" fill="none" stroke="#4a4300" stroke-width="0.5"/>
<rect x="627.00" y="417.00" width="21.50" height="6.00" fill="#a8daf7"/>
<path d="M627.00,420.00h21.50" stroke="#3f6f9f" stroke-width="0.95" fill="none"/>
<path d="M628.60,417.30v2.40M634.60,417.30v2.40M640.60,417.30v2.40M646.60,417.30v2.40M631.60,420.30v2.40M637.60,420.30v2.40M643.60,420.30v2.40" stroke="#5f8fbc" stroke-width="0.6" fill="none"/>
<rect x="627.00" y="417.00" width="21.50" height="6.00" fill="none" stroke="#3d6f9e" stroke-width="0.5"/>
<rect x="627.00" y="423.00" width="20.50" height="9.00" fill="#fff100"/>
<path d="M627.00,426.00h20.50M627.00,429.00h20.50" stroke="#4f4800" stroke-width="0.48" fill="none"/>
<path d="M627.90,424.50H646.90M629.10,427.50H646.90M627.90,430.50H646.90" stroke="#5a5200" stroke-width="0.6" stroke-dasharray="0.7,2.6" fill="none"/>
<rect x="627.00" y="423.00" width="20.50" height="9.00" fill="none" stroke="#4a4300" stroke-width="0.5"/>
<rect transform="translate(627.00,432.00)" width="25.50" height="26.00" fill="url(#pI)" stroke="#8a5050" stroke-width="0.5"/>
<rect transform="translate(627.00,458.00)" width="25.50" height="10.00" fill="url(#pB)" stroke="#4a4038" stroke-width="0.5"/>
<rect transform="translate(737.00,41.00)" width="14.00" height="15.00" fill="#a3a3a3" stroke="#6a6a6a" stroke-width="0.5"/>
<line x1="738.00" y1="43.50" x2="750.00" y2="43.50" stroke="#6e6e6e" stroke-width="0.5"/>
<line x1="738.00" y1="50.50" x2="750.00" y2="50.50" stroke="#6e6e6e" stroke-width="0.5"/>
<line x1="738.00" y1="52.50" x2="750.00" y2="52.50" stroke="#6e6e6e" stroke-width="0.5"/>
<line x1="738.00" y1="54.50" x2="750.00" y2="54.50" stroke="#6e6e6e" stroke-width="0.5"/>
<rect transform="translate(737.00,44.50)" width="38.00" height="3.50" fill="url(#pG)" stroke="#0b6b35" stroke-width="0.5"/>
<rect x="737.00" y="56.00" width="21.50" height="4.00" fill="#a8daf7"/>
<path d="M737.00,58.00h21.50" stroke="#3f6f9f" stroke-width="0.95" fill="none"/>
<path d="M738.60,56.30v1.40M744.60,56.30v1.40M750.60,56.30v1.40M756.60,56.30v1.40M741.60,58.30v1.40M747.60,58.30v1.40M753.60,58.30v1.40" stroke="#5f8fbc" stroke-width="0.6" fill="none"/>
<rect x="737.00" y="56.00" width="21.50" height="4.00" fill="none" stroke="#3d6f9e" stroke-width="0.5"/>
<rect transform="translate(737.00,60.00)" width="38.00" height="28.50" fill="#1697dc" stroke="#1b6fa8" stroke-width="0.5"/>
<path d="M746.40,61.40l1.58,2.85h-3.15z" fill="#dcf35a"/>
<path d="M757.85,61.40l1.58,2.85h-3.15z" fill="#dcf35a"/>
<path d="M769.30,61.40l1.58,2.85h-3.15z" fill="#dcf35a"/>
<path d="M740.70,67.22l1.58,2.85h-3.15z" fill="#dcf35a"/>
<path d="M752.15,67.22l1.58,2.85h-3.15z" fill="#dcf35a"/>
<path d="M763.60,67.22l1.58,2.85h-3.15z" fill="#dcf35a"/>
<path d="M746.40,73.05l1.58,2.85h-3.15z" fill="#dcf35a"/>
<path d="M757.85,73.05l1.58,2.85h-3.15z" fill="#dcf35a"/>
<path d="M769.30,73.05l1.58,2.85h-3.15z" fill="#dcf35a"/>
<path d="M740.70,78.88l1.58,2.85h-3.15z" fill="#dcf35a"/>
<path d="M752.15,78.88l1.58,2.85h-3.15z" fill="#dcf35a"/>
<path d="M763.60,78.88l1.58,2.85h-3.15z" fill="#dcf35a"/>
<path d="M746.40,84.70l1.58,2.85h-3.15z" fill="#dcf35a"/>
<path d="M757.85,84.70l1.58,2.85h-3.15z" fill="#dcf35a"/>
<path d="M769.30,84.70l1.58,2.85h-3.15z" fill="#dcf35a"/>
<rect x="737.00" y="88.50" width="21.00" height="6.00" fill="#fff100"/>
<path d="M737.00,91.50h21.00" stroke="#4f4800" stroke-width="0.48" fill="none"/>
<path d="M737.90,90.00H757.40M739.10,93.00H757.40" stroke="#5a5200" stroke-width="0.6" stroke-dasharray="0.7,2.6" fill="none"/>
<rect x="737.00" y="88.50" width="21.00" height="6.00" fill="none" stroke="#4a4300" stroke-width="0.5"/>
<rect x="737.00" y="94.50" width="21.50" height="15.00" fill="#a8daf7"/>
<path d="M737.00,97.50h21.50M737.00,100.50h21.50M737.00,103.50h21.50M737.00,106.50h21.50" stroke="#3f6f9f" stroke-width="0.9" fill="none"/>
<path d="M738.60,94.80v2.40M746.60,94.80v2.40M754.60,94.80v2.40M742.60,97.80v2.40M750.60,97.80v2.40M738.60,100.80v2.40M746.60,100.80v2.40M754.60,100.80v2.40M742.60,103.80v2.40M750.60,103.80v2.40M738.60,106.80v2.40M746.60,106.80v2.40M754.60,106.80v2.40" stroke="#5f8fbc" stroke-width="0.8" fill="none"/>
<rect x="737.00" y="94.50" width="21.50" height="15.00" fill="none" stroke="#3d6f9e" stroke-width="0.5"/>
<rect transform="translate(737.00,109.50)" width="37.00" height="7.00" fill="url(#pG)" stroke="#0b6b35" stroke-width="0.5"/>
<rect transform="translate(737.00,116.50)" width="14.00" height="17.50" fill="#3e3a39" stroke="#3e3a39" stroke-width="0.5"/>
<rect x="737.00" y="134.00" width="21.00" height="3.00" fill="#fff100"/>
<path d="M737.90,135.50H757.40" stroke="#5a5200" stroke-width="0.6" stroke-dasharray="0.7,2.6" fill="none"/>
<rect x="737.00" y="134.00" width="21.00" height="3.00" fill="none" stroke="#4a4300" stroke-width="0.5"/>
<rect transform="translate(737.00,137.00)" width="14.00" height="4.50" fill="#3e3a39" stroke="#3e3a39" stroke-width="0.5"/>
<rect transform="translate(737.00,141.50)" width="37.00" height="5.00" fill="url(#pG)" stroke="#0b6b35" stroke-width="0.5"/>
<rect x="737.00" y="146.50" width="25.50" height="6.50" fill="#fff100"/>
<path d="M737.00,149.75h25.50" stroke="#4f4800" stroke-width="0.48" fill="none"/>
<path d="M737.90,148.12H761.90M739.10,151.38H761.90" stroke="#5a5200" stroke-width="0.6" stroke-dasharray="0.7,2.6" fill="none"/>
<rect x="737.00" y="146.50" width="25.50" height="6.50" fill="none" stroke="#4a4300" stroke-width="0.5"/>
<rect transform="translate(737.00,153.00)" width="14.00" height="4.50" fill="#3e3a39" stroke="#3e3a39" stroke-width="0.5"/>
<rect x="737.00" y="157.50" width="21.00" height="2.50" fill="#fff100"/>
<path d="M737.90,158.75H757.40" stroke="#5a5200" stroke-width="0.6" stroke-dasharray="0.7,2.6" fill="none"/>
<rect x="737.00" y="157.50" width="21.00" height="2.50" fill="none" stroke="#4a4300" stroke-width="0.5"/>
<rect x="737.00" y="160.00" width="25.50" height="8.50" fill="#fff100"/>
<path d="M737.00,162.83h25.50M737.00,165.67h25.50" stroke="#4f4800" stroke-width="0.48" fill="none"/>
<path d="M737.90,161.42H761.90M739.10,164.25H761.90M737.90,167.08H761.90" stroke="#5a5200" stroke-width="0.6" stroke-dasharray="0.7,2.6" fill="none"/>
<rect x="737.00" y="160.00" width="25.50" height="8.50" fill="none" stroke="#4a4300" stroke-width="0.5"/>
<rect x="737.00" y="168.50" width="21.00" height="2.50" fill="#fff100"/>
<path d="M737.90,169.75H757.40" stroke="#5a5200" stroke-width="0.6" stroke-dasharray="0.7,2.6" fill="none"/>
<rect x="737.00" y="168.50" width="21.00" height="2.50" fill="none" stroke="#4a4300" stroke-width="0.5"/>
<rect x="737.00" y="171.00" width="25.50" height="5.00" fill="#fff100"/>
<path d="M737.00,173.50h25.50" stroke="#4f4800" stroke-width="0.48" fill="none"/>
<path d="M737.90,172.25H761.90M739.10,174.75H761.90" stroke="#5a5200" stroke-width="0.6" stroke-dasharray="0.7,2.6" fill="none"/>
<rect x="737.00" y="171.00" width="25.50" height="5.00" fill="none" stroke="#4a4300" stroke-width="0.5"/>
<rect transform="translate(737.00,176.00)" width="37.00" height="4.00" fill="url(#pG)" stroke="#0b6b35" stroke-width="0.5"/>
<rect transform="translate(737.00,180.00)" width="37.00" height="57.50" fill="#1697dc" stroke="#1b6fa8" stroke-width="0.5"/>
<path d="M746.40,181.40l1.58,2.85h-3.15z" fill="#dcf35a"/>
<path d="M757.85,181.40l1.58,2.85h-3.15z" fill="#dcf35a"/>
<path d="M769.30,181.40l1.58,2.85h-3.15z" fill="#dcf35a"/>
<path d="M740.70,187.21l1.58,2.85h-3.15z" fill="#dcf35a"/>
<path d="M752.15,187.21l1.58,2.85h-3.15z" fill="#dcf35a"/>
<path d="M763.60,187.21l1.58,2.85h-3.15z" fill="#dcf35a"/>
<path d="M746.40,193.02l1.58,2.85h-3.15z" fill="#dcf35a"/>
<path d="M757.85,193.02l1.58,2.85h-3.15z" fill="#dcf35a"/>
<path d="M769.30,193.02l1.58,2.85h-3.15z" fill="#dcf35a"/>
<path d="M740.70,198.83l1.58,2.85h-3.15z" fill="#dcf35a"/>
<path d="M752.15,198.83l1.58,2.85h-3.15z" fill="#dcf35a"/>
<path d="M763.60,198.83l1.58,2.85h-3.15z" fill="#dcf35a"/>
<path d="M746.40,204.64l1.58,2.85h-3.15z" fill="#dcf35a"/>
<path d="M757.85,204.64l1.58,2.85h-3.15z" fill="#dcf35a"/>
<path d="M769.30,204.64l1.58,2.85h-3.15z" fill="#dcf35a"/>
<path d="M740.70,210.46l1.58,2.85h-3.15z" fill="#dcf35a"/>
<path d="M752.15,210.46l1.58,2.85h-3.15z" fill="#dcf35a"/>
<path d="M763.60,210.46l1.58,2.85h-3.15z" fill="#dcf35a"/>
<path d="M746.40,216.27l1.58,2.85h-3.15z" fill="#dcf35a"/>
<path d="M757.85,216.27l1.58,2.85h-3.15z" fill="#dcf35a"/>
<path d="M769.30,216.27l1.58,2.85h-3.15z" fill="#dcf35a"/>
<path d="M740.70,222.08l1.58,2.85h-3.15z" fill="#dcf35a"/>
<path d="M752.15,222.08l1.58,2.85h-3.15z" fill="#dcf35a"/>
<path d="M763.60,222.08l1.58,2.85h-3.15z" fill="#dcf35a"/>
<path d="M746.40,227.89l1.58,2.85h-3.15z" fill="#dcf35a"/>
<path d="M757.85,227.89l1.58,2.85h-3.15z" fill="#dcf35a"/>
<path d="M769.30,227.89l1.58,2.85h-3.15z" fill="#dcf35a"/>
<path d="M740.70,233.70l1.58,2.85h-3.15z" fill="#dcf35a"/>
<path d="M752.15,233.70l1.58,2.85h-3.15z" fill="#dcf35a"/>
<path d="M763.60,233.70l1.58,2.85h-3.15z" fill="#dcf35a"/>
<rect x="737.00" y="237.50" width="21.00" height="2.50" fill="#a8daf7"/>
<path d="M738.60,237.80v1.90M744.60,237.80v1.90M750.60,237.80v1.90M756.60,237.80v1.90" stroke="#5f8fbc" stroke-width="0.6" fill="none"/>
<rect x="737.00" y="237.50" width="21.00" height="2.50" fill="none" stroke="#3d6f9e" stroke-width="0.5"/>
<rect transform="translate(737.00,240.00)" width="14.00" height="7.00" fill="#3e3a39" stroke="#3e3a39" stroke-width="0.5"/>
<rect x="737.00" y="247.00" width="21.00" height="3.00" fill="#fff100"/>
<path d="M737.90,248.50H757.40" stroke="#5a5200" stroke-width="0.6" stroke-dasharray="0.7,2.6" fill="none"/>
<rect x="737.00" y="247.00" width="21.00" height="3.00" fill="none" stroke="#4a4300" stroke-width="0.5"/>
<rect transform="translate(737.00,250.00)" width="37.00" height="10.50" fill="url(#pG)" stroke="#0b6b35" stroke-width="0.5"/>
<rect transform="translate(737.00,260.50)" width="37.00" height="8.50" fill="#1697dc" stroke="#1b6fa8" stroke-width="0.5"/>
<path d="M746.40,261.70l1.37,2.47h-2.73z" fill="#dcf35a"/>
<path d="M757.85,261.70l1.37,2.47h-2.73z" fill="#dcf35a"/>
<path d="M769.30,261.70l1.37,2.47h-2.73z" fill="#dcf35a"/>
<path d="M740.70,265.60l1.37,2.47h-2.73z" fill="#dcf35a"/>
<path d="M752.15,265.60l1.37,2.47h-2.73z" fill="#dcf35a"/>
<path d="M763.60,265.60l1.37,2.47h-2.73z" fill="#dcf35a"/>
<rect transform="translate(737.00,269.00)" width="14.00" height="2.50" fill="#3e3a39" stroke="#3e3a39" stroke-width="0.5"/>
<rect x="737.00" y="271.50" width="21.00" height="3.00" fill="#fff100"/>
<path d="M737.90,273.00H757.40" stroke="#5a5200" stroke-width="0.6" stroke-dasharray="0.7,2.6" fill="none"/>
<rect x="737.00" y="271.50" width="21.00" height="3.00" fill="none" stroke="#4a4300" stroke-width="0.5"/>
<rect x="737.00" y="274.50" width="25.50" height="3.50" fill="#fff100"/>
<path d="M737.90,276.25H761.90" stroke="#5a5200" stroke-width="0.6" stroke-dasharray="0.7,2.6" fill="none"/>
<rect x="737.00" y="274.50" width="25.50" height="3.50" fill="none" stroke="#4a4300" stroke-width="0.5"/>
<rect transform="translate(737.00,278.00)" width="14.00" height="3.00" fill="#3e3a39" stroke="#3e3a39" stroke-width="0.5"/>
<rect x="737.00" y="281.00" width="21.00" height="3.00" fill="#fff100"/>
<path d="M737.90,282.50H757.40" stroke="#5a5200" stroke-width="0.6" stroke-dasharray="0.7,2.6" fill="none"/>
<rect x="737.00" y="281.00" width="21.00" height="3.00" fill="none" stroke="#4a4300" stroke-width="0.5"/>
<rect x="737.00" y="284.00" width="25.50" height="4.00" fill="#fff100"/>
<path d="M737.90,286.00H761.90" stroke="#5a5200" stroke-width="0.6" stroke-dasharray="0.7,2.6" fill="none"/>
<rect x="737.00" y="284.00" width="25.50" height="4.00" fill="none" stroke="#4a4300" stroke-width="0.5"/>
<rect transform="translate(737.00,288.00)" width="14.00" height="2.50" fill="#3e3a39" stroke="#3e3a39" stroke-width="0.5"/>
<rect x="737.00" y="290.50" width="21.00" height="3.50" fill="#fff100"/>
<path d="M737.90,292.25H757.40" stroke="#5a5200" stroke-width="0.6" stroke-dasharray="0.7,2.6" fill="none"/>
<rect x="737.00" y="290.50" width="21.00" height="3.50" fill="none" stroke="#4a4300" stroke-width="0.5"/>
<rect x="737.00" y="294.00" width="25.50" height="2.00" fill="#fff100"/>
<path d="M737.90,295.00H761.90" stroke="#5a5200" stroke-width="0.6" stroke-dasharray="0.7,2.6" fill="none"/>
<rect x="737.00" y="294.00" width="25.50" height="2.00" fill="none" stroke="#4a4300" stroke-width="0.5"/>
<rect transform="translate(737.00,296.00)" width="37.00" height="8.50" fill="#1697dc" stroke="#1b6fa8" stroke-width="0.5"/>
<path d="M746.40,297.20l1.37,2.47h-2.73z" fill="#dcf35a"/>
<path d="M757.85,297.20l1.37,2.47h-2.73z" fill="#dcf35a"/>
<path d="M769.30,297.20l1.37,2.47h-2.73z" fill="#dcf35a"/>
<path d="M740.70,301.10l1.37,2.47h-2.73z" fill="#dcf35a"/>
<path d="M752.15,301.10l1.37,2.47h-2.73z" fill="#dcf35a"/>
<path d="M763.60,301.10l1.37,2.47h-2.73z" fill="#dcf35a"/>
<rect x="737.00" y="304.50" width="31.00" height="7.00" fill="#ec7c1a"/>
<path d="M737.00,308.00h31.00" stroke="#9a5010" stroke-width="0.65" fill="none"/>
<path d="M738.20,306.25H767.40M739.60,309.75H767.40" stroke="#7a3808" stroke-width="1.15" stroke-dasharray="1.2,1.4" fill="none"/>
<rect x="737.00" y="304.50" width="31.00" height="7.00" fill="none" stroke="#6a3a08" stroke-width="0.75"/>
<rect transform="translate(737.00,311.50)" width="37.00" height="5.00" fill="#1697dc" stroke="#1b6fa8" stroke-width="0.5"/>
<path d="M740.70,312.90l1.37,2.47h-2.73z" fill="#dcf35a"/>
<path d="M752.15,312.90l1.37,2.47h-2.73z" fill="#dcf35a"/>
<path d="M763.60,312.90l1.37,2.47h-2.73z" fill="#dcf35a"/>
<rect transform="translate(737.00,316.50)" width="14.00" height="13.00" fill="#3e3a39" stroke="#3e3a39" stroke-width="0.5"/>
<rect x="737.00" y="329.50" width="21.00" height="2.50" fill="#fff100"/>
<path d="M737.90,330.75H757.40" stroke="#5a5200" stroke-width="0.6" stroke-dasharray="0.7,2.6" fill="none"/>
<rect x="737.00" y="329.50" width="21.00" height="2.50" fill="none" stroke="#4a4300" stroke-width="0.5"/>
<rect x="737.00" y="332.00" width="25.50" height="3.50" fill="#fff100"/>
<path d="M737.90,333.75H761.90" stroke="#5a5200" stroke-width="0.6" stroke-dasharray="0.7,2.6" fill="none"/>
<rect x="737.00" y="332.00" width="25.50" height="3.50" fill="none" stroke="#4a4300" stroke-width="0.5"/>
<rect transform="translate(737.00,335.50)" width="14.00" height="3.00" fill="#3e3a39" stroke="#3e3a39" stroke-width="0.5"/>
<rect x="737.00" y="338.50" width="21.00" height="3.00" fill="#fff100"/>
<path d="M737.90,340.00H757.40" stroke="#5a5200" stroke-width="0.6" stroke-dasharray="0.7,2.6" fill="none"/>
<rect x="737.00" y="338.50" width="21.00" height="3.00" fill="none" stroke="#4a4300" stroke-width="0.5"/>
<rect x="737.00" y="341.50" width="25.50" height="13.50" fill="#fff100"/>
<path d="M737.00,344.88h25.50M737.00,348.25h25.50M737.00,351.62h25.50" stroke="#4f4800" stroke-width="0.48" fill="none"/>
<path d="M737.90,343.19H761.90M739.10,346.56H761.90M737.90,349.94H761.90M739.10,353.31H761.90" stroke="#5a5200" stroke-width="0.6" stroke-dasharray="0.7,2.6" fill="none"/>
<rect x="737.00" y="341.50" width="25.50" height="13.50" fill="none" stroke="#4a4300" stroke-width="0.5"/>
<rect x="737.00" y="355.00" width="31.00" height="32.50" fill="#ec7c1a"/>
<path d="M737.00,359.06h31.00M737.00,363.12h31.00M737.00,367.19h31.00M737.00,371.25h31.00M737.00,375.31h31.00M737.00,379.38h31.00M737.00,383.44h31.00" stroke="#9a5010" stroke-width="0.65" fill="none"/>
<path d="M738.20,357.03H767.40M739.60,361.09H767.40M738.20,365.16H767.40M739.60,369.22H767.40M738.20,373.28H767.40M739.60,377.34H767.40M738.20,381.41H767.40M739.60,385.47H767.40" stroke="#7a3808" stroke-width="1.15" stroke-dasharray="1.2,1.4" fill="none"/>
<rect x="737.00" y="355.00" width="31.00" height="32.50" fill="none" stroke="#6a3a08" stroke-width="0.75"/>
<rect transform="translate(737.00,387.50)" width="14.00" height="5.00" fill="#3e3a39" stroke="#3e3a39" stroke-width="0.5"/>
<rect transform="translate(737.00,392.50)" width="35.00" height="5.50" fill="#1697dc" stroke="#1b6fa8" stroke-width="0.5"/>
<path d="M742.90,394.15l1.37,2.47h-2.73z" fill="#dcf35a"/>
<path d="M754.40,394.15l1.37,2.47h-2.73z" fill="#dcf35a"/>
<path d="M765.90,394.15l1.37,2.47h-2.73z" fill="#dcf35a"/>
<rect transform="translate(737.00,398.00)" width="37.00" height="5.50" fill="url(#pG)" stroke="#0b6b35" stroke-width="0.5"/>
<rect transform="translate(737.00,403.50)" width="35.00" height="6.00" fill="#1697dc" stroke="#1b6fa8" stroke-width="0.5"/>
<path d="M742.90,405.40l1.37,2.47h-2.73z" fill="#dcf35a"/>
<path d="M754.40,405.40l1.37,2.47h-2.73z" fill="#dcf35a"/>
<path d="M765.90,405.40l1.37,2.47h-2.73z" fill="#dcf35a"/>
<rect x="737.00" y="409.50" width="20.00" height="16.00" fill="#fff100"/>
<path d="M737.00,412.70h20.00M737.00,415.90h20.00M737.00,419.10h20.00M737.00,422.30h20.00" stroke="#4f4800" stroke-width="0.48" fill="none"/>
<path d="M737.90,411.10H756.40M739.10,414.30H756.40M737.90,417.50H756.40M739.10,420.70H756.40M737.90,423.90H756.40" stroke="#5a5200" stroke-width="0.6" stroke-dasharray="0.7,2.6" fill="none"/>
<rect x="737.00" y="409.50" width="20.00" height="16.00" fill="none" stroke="#4a4300" stroke-width="0.5"/>
<rect transform="translate(737.00,425.50)" width="14.00" height="2.50" fill="#3e3a39" stroke="#3e3a39" stroke-width="0.5"/>
<rect x="737.00" y="428.00" width="24.00" height="3.50" fill="#fff100"/>
<path d="M737.90,429.75H760.40" stroke="#5a5200" stroke-width="0.6" stroke-dasharray="0.7,2.6" fill="none"/>
<rect x="737.00" y="428.00" width="24.00" height="3.50" fill="none" stroke="#4a4300" stroke-width="0.5"/>
<rect transform="translate(737.00,431.50)" width="14.00" height="2.50" fill="#3e3a39" stroke="#3e3a39" stroke-width="0.5"/>
<rect transform="translate(737.00,434.00)" width="34.00" height="8.00" fill="#1697dc" stroke="#1b6fa8" stroke-width="0.5"/>
<path d="M742.90,436.90l1.37,2.47h-2.73z" fill="#dcf35a"/>
<path d="M754.40,436.90l1.37,2.47h-2.73z" fill="#dcf35a"/>
<path d="M765.90,436.90l1.37,2.47h-2.73z" fill="#dcf35a"/>
<rect transform="translate(737.00,442.00)" width="14.00" height="2.00" fill="#3e3a39" stroke="#3e3a39" stroke-width="0.5"/>
<rect x="737.00" y="444.00" width="20.00" height="3.00" fill="#fff100"/>
<path d="M737.90,445.50H756.40" stroke="#5a5200" stroke-width="0.6" stroke-dasharray="0.7,2.6" fill="none"/>
<rect x="737.00" y="444.00" width="20.00" height="3.00" fill="none" stroke="#4a4300" stroke-width="0.5"/>
<rect transform="translate(737.00,447.00)" width="14.00" height="3.00" fill="#3e3a39" stroke="#3e3a39" stroke-width="0.5"/>
<rect transform="translate(737.00,450.00)" width="34.00" height="6.50" fill="#1697dc" stroke="#1b6fa8" stroke-width="0.5"/>
<path d="M742.90,452.15l1.37,2.47h-2.73z" fill="#dcf35a"/>
<path d="M754.40,452.15l1.37,2.47h-2.73z" fill="#dcf35a"/>
<path d="M765.90,452.15l1.37,2.47h-2.73z" fill="#dcf35a"/>
<rect transform="translate(737.00,456.50)" width="13.00" height="5.50" fill="#3e3a39" stroke="#3e3a39" stroke-width="0.5"/>
<rect x="737.00" y="462.00" width="24.00" height="10.50" fill="#fff100"/>
<path d="M737.00,465.50h24.00M737.00,469.00h24.00" stroke="#4f4800" stroke-width="0.48" fill="none"/>
<path d="M737.90,463.75H760.40M739.10,467.25H760.40M737.90,470.75H760.40" stroke="#5a5200" stroke-width="0.6" stroke-dasharray="0.7,2.6" fill="none"/>
<rect x="737.00" y="462.00" width="24.00" height="10.50" fill="none" stroke="#4a4300" stroke-width="0.5"/>
<rect transform="translate(737.00,472.50)" width="14.00" height="2.50" fill="#3e3a39" stroke="#3e3a39" stroke-width="0.5"/>
<rect x="737.00" y="475.00" width="24.00" height="3.50" fill="#fff100"/>
<path d="M737.90,476.75H760.40" stroke="#5a5200" stroke-width="0.6" stroke-dasharray="0.7,2.6" fill="none"/>
<rect x="737.00" y="475.00" width="24.00" height="3.50" fill="none" stroke="#4a4300" stroke-width="0.5"/>
<rect x="737.00" y="478.50" width="30.50" height="6.00" fill="#ec7c1a"/>
<path d="M737.00,481.50h30.50" stroke="#9a5010" stroke-width="0.65" fill="none"/>
<path d="M738.20,480.00H766.90M739.60,483.00H766.90" stroke="#7a3808" stroke-width="1.15" stroke-dasharray="1.2,1.4" fill="none"/>
<rect x="737.00" y="478.50" width="30.50" height="6.00" fill="none" stroke="#6a3a08" stroke-width="0.75"/>
<rect transform="translate(737.00,484.50)" width="37.00" height="14.50" fill="url(#pG)" stroke="#0b6b35" stroke-width="0.5"/>
<rect x="737.00" y="499.00" width="30.50" height="7.00" fill="#ec7c1a"/>
<path d="M737.00,502.50h30.50" stroke="#9a5010" stroke-width="0.65" fill="none"/>
<path d="M738.20,500.75H766.90M739.60,504.25H766.90" stroke="#7a3808" stroke-width="1.15" stroke-dasharray="1.2,1.4" fill="none"/>
<rect x="737.00" y="499.00" width="30.50" height="7.00" fill="none" stroke="#6a3a08" stroke-width="0.75"/>
<rect x="774" y="176.6" width="6" height="2.6" fill="#f0c8a0"/>
<path d="M737.00,208.50 C746.25,205.70 749.95,207.10 755.50,208.50 S766.60,211.30 774.00,208.50" fill="none" stroke="#fff" stroke-width="2.6"/>
<clipPath id="wc5"><path transform="translate(737.00,506.00)" d="M0,0 L40.00,0 L40.00,4.20 Q37.14,6.80 34.29,4.20 Q31.43,6.80 28.57,4.20 Q25.71,6.80 22.86,4.20 Q20.00,6.80 17.14,4.20 Q14.29,6.80 11.43,4.20 Q8.57,6.80 5.71,4.20 Q2.86,6.80 -0.00,4.20 Z"/></clipPath>
<path transform="translate(737.00,506.00)" d="M0,0 L40.00,0 L40.00,4.20 Q37.14,6.80 34.29,4.20 Q31.43,6.80 28.57,4.20 Q25.71,6.80 22.86,4.20 Q20.00,6.80 17.14,4.20 Q14.29,6.80 11.43,4.20 Q8.57,6.80 5.71,4.20 Q2.86,6.80 -0.00,4.20 Z" fill="#ec7c1a"/>
<path d="M737.00,509.01h40.00" stroke="#9a5010" stroke-width="0.65" fill="none" clip-path="url(#wc5)"/>
<path d="M738.20,507.50H776.40M739.60,510.51H776.40" stroke="#7a3808" stroke-width="1.15" stroke-dasharray="1.2,1.4" fill="none" clip-path="url(#wc5)"/>
<path transform="translate(737.00,506.00)" d="M0,0 L40.00,0 L40.00,4.20 Q37.14,6.80 34.29,4.20 Q31.43,6.80 28.57,4.20 Q25.71,6.80 22.86,4.20 Q20.00,6.80 17.14,4.20 Q14.29,6.80 11.43,4.20 Q8.57,6.80 5.71,4.20 Q2.86,6.80 -0.00,4.20 Z" fill="none" stroke="#6a3a08" stroke-width="0.5"/>
<rect x="737.00" y="511.50" width="11.00" height="5.30" fill="#a8daf7"/>
<path d="M737.00,514.15h11.00" stroke="#3f6f9f" stroke-width="0.95" fill="none"/>
<path d="M738.60,511.80v2.05M744.60,511.80v2.05M741.60,514.45v2.05" stroke="#5f8fbc" stroke-width="0.6" fill="none"/>
<rect x="737.00" y="511.50" width="11.00" height="5.30" fill="none" stroke="#3d6f9e" stroke-width="0.5"/>
<rect x="737.00" y="517.20" width="9.00" height="4.10" fill="#fff100"/>
<path d="M737.90,519.25H745.40" stroke="#5a5200" stroke-width="0.6" stroke-dasharray="0.7,2.6" fill="none"/>
<rect x="737.00" y="517.20" width="9.00" height="4.10" fill="none" stroke="#4a4300" stroke-width="0.5"/>
<rect transform="translate(750.00,511.50)" width="12.50" height="9.80" fill="url(#pI)" stroke="#8a5050" stroke-width="0.5"/>
<path d="M749.7,511.5h3l-3.7,9.8h-3z" fill="#8f78c0"/>
<rect x="737" y="511.5" width="25.5" height="9.8" fill="none" stroke="#4a4038" stroke-width="0.6"/>
<rect transform="translate(856.00,41.00)" width="14.50" height="7.00" fill="#3e3a39" stroke="#3e3a39" stroke-width="0.5"/>
<rect transform="translate(856.00,48.00)" width="14.50" height="8.00" fill="#a3a3a3" stroke="#6a6a6a" stroke-width="0.5"/>
<rect x="856.00" y="56.00" width="21.50" height="59.00" fill="#a8daf7"/>
<path d="M856.00,58.57h21.50M856.00,61.13h21.50M856.00,63.70h21.50M856.00,66.26h21.50M856.00,68.83h21.50M856.00,71.39h21.50M856.00,73.96h21.50M856.00,76.52h21.50M856.00,79.09h21.50M856.00,81.65h21.50M856.00,84.22h21.50M856.00,86.78h21.50M856.00,89.35h21.50M856.00,91.91h21.50M856.00,94.48h21.50M856.00,97.04h21.50M856.00,99.61h21.50M856.00,102.17h21.50M856.00,104.74h21.50M856.00,107.30h21.50M856.00,109.87h21.50M856.00,112.43h21.50" stroke="#3f6f9f" stroke-width="0.95" fill="none"/>
<path d="M857.60,56.30v1.97M863.60,56.30v1.97M869.60,56.30v1.97M875.60,56.30v1.97M860.60,58.87v1.97M866.60,58.87v1.97M872.60,58.87v1.97M857.60,61.43v1.97M863.60,61.43v1.97M869.60,61.43v1.97M875.60,61.43v1.97M860.60,64.00v1.97M866.60,64.00v1.97M872.60,64.00v1.97M857.60,66.56v1.97M863.60,66.56v1.97M869.60,66.56v1.97M875.60,66.56v1.97M860.60,69.13v1.97M866.60,69.13v1.97M872.60,69.13v1.97M857.60,71.69v1.97M863.60,71.69v1.97M869.60,71.69v1.97M875.60,71.69v1.97M860.60,74.26v1.97M866.60,74.26v1.97M872.60,74.26v1.97M857.60,76.82v1.97M863.60,76.82v1.97M869.60,76.82v1.97M875.60,76.82v1.97M860.60,79.39v1.97M866.60,79.39v1.97M872.60,79.39v1.97M857.60,81.95v1.97M863.60,81.95v1.97M869.60,81.95v1.97M875.60,81.95v1.97M860.60,84.52v1.97M866.60,84.52v1.97M872.60,84.52v1.97M857.60,87.08v1.97M863.60,87.08v1.97M869.60,87.08v1.97M875.60,87.08v1.97M860.60,89.65v1.97M866.60,89.65v1.97M872.60,89.65v1.97M857.60,92.21v1.97M863.60,92.21v1.97M869.60,92.21v1.97M875.60,92.21v1.97M860.60,94.78v1.97M866.60,94.78v1.97M872.60,94.78v1.97M857.60,97.34v1.97M863.60,97.34v1.97M869.60,97.34v1.97M875.60,97.34v1.97M860.60,99.91v1.97M866.60,99.91v1.97M872.60,99.91v1.97M857.60,102.47v1.97M863.60,102.47v1.97M869.60,102.47v1.97M875.60,102.47v1.97M860.60,105.04v1.97M866.60,105.04v1.97M872.60,105.04v1.97M857.60,107.60v1.97M863.60,107.60v1.97M869.60,107.60v1.97M875.60,107.60v1.97M860.60,110.17v1.97M866.60,110.17v1.97M872.60,110.17v1.97M857.60,112.73v1.97M863.60,112.73v1.97M869.60,112.73v1.97M875.60,112.73v1.97" stroke="#5f8fbc" stroke-width="0.6" fill="none"/>
<rect x="856.00" y="56.00" width="21.50" height="59.00" fill="none" stroke="#3d6f9e" stroke-width="0.5"/>
<rect transform="translate(856.00,115.00)" width="14.00" height="13.50" fill="#3e3a39" stroke="#3e3a39" stroke-width="0.5"/>
<rect x="856.00" y="128.50" width="21.50" height="6.00" fill="#a8daf7"/>
<path d="M856.00,131.50h21.50" stroke="#3f6f9f" stroke-width="0.95" fill="none"/>
<path d="M857.60,128.80v2.40M863.60,128.80v2.40M869.60,128.80v2.40M875.60,128.80v2.40M860.60,131.80v2.40M866.60,131.80v2.40M872.60,131.80v2.40" stroke="#5f8fbc" stroke-width="0.6" fill="none"/>
<rect x="856.00" y="128.50" width="21.50" height="6.00" fill="none" stroke="#3d6f9e" stroke-width="0.5"/>
<rect x="856.00" y="134.50" width="20.50" height="41.50" fill="#fff100"/>
<path d="M856.00,137.69h20.50M856.00,140.88h20.50M856.00,144.08h20.50M856.00,147.27h20.50M856.00,150.46h20.50M856.00,153.65h20.50M856.00,156.85h20.50M856.00,160.04h20.50M856.00,163.23h20.50M856.00,166.42h20.50M856.00,169.62h20.50M856.00,172.81h20.50" stroke="#4f4800" stroke-width="0.48" fill="none"/>
<path d="M856.90,136.10H875.90M858.10,139.29H875.90M856.90,142.48H875.90M858.10,145.67H875.90M856.90,148.87H875.90M858.10,152.06H875.90M856.90,155.25H875.90M858.10,158.44H875.90M856.90,161.63H875.90M858.10,164.83H875.90M856.90,168.02H875.90M858.10,171.21H875.90M856.90,174.40H875.90" stroke="#5a5200" stroke-width="0.6" stroke-dasharray="0.7,2.6" fill="none"/>
<rect x="856.00" y="134.50" width="20.50" height="41.50" fill="none" stroke="#4a4300" stroke-width="0.5"/>
<rect x="856.00" y="176.00" width="25.00" height="68.50" fill="#fff100"/>
<path d="M856.00,179.26h25.00M856.00,182.52h25.00M856.00,185.79h25.00M856.00,189.05h25.00M856.00,192.31h25.00M856.00,195.57h25.00M856.00,198.83h25.00M856.00,202.10h25.00M856.00,205.36h25.00M856.00,208.62h25.00M856.00,211.88h25.00M856.00,215.14h25.00M856.00,218.40h25.00M856.00,221.67h25.00M856.00,224.93h25.00M856.00,228.19h25.00M856.00,231.45h25.00M856.00,234.71h25.00M856.00,237.98h25.00M856.00,241.24h25.00" stroke="#4f4800" stroke-width="0.48" fill="none"/>
<path d="M856.90,177.63H880.40M858.10,180.89H880.40M856.90,184.15H880.40M858.10,187.42H880.40M856.90,190.68H880.40M858.10,193.94H880.40M856.90,197.20H880.40M858.10,200.46H880.40M856.90,203.73H880.40M858.10,206.99H880.40M856.90,210.25H880.40M858.10,213.51H880.40M856.90,216.77H880.40M858.10,220.04H880.40M856.90,223.30H880.40M858.10,226.56H880.40M856.90,229.82H880.40M858.10,233.08H880.40M856.90,236.35H880.40M858.10,239.61H880.40M856.90,242.87H880.40" stroke="#5a5200" stroke-width="0.6" stroke-dasharray="0.7,2.6" fill="none"/>
<rect x="856.00" y="176.00" width="25.00" height="68.50" fill="none" stroke="#4a4300" stroke-width="0.5"/>
<rect transform="translate(856.00,244.50)" width="37.00" height="4.00" fill="url(#pG)" stroke="#0b6b35" stroke-width="0.5"/>
<rect x="856.00" y="248.50" width="25.00" height="12.00" fill="#fff100"/>
<path d="M856.00,251.50h25.00M856.00,254.50h25.00M856.00,257.50h25.00" stroke="#4f4800" stroke-width="0.48" fill="none"/>
<path d="M856.90,250.00H880.40M858.10,253.00H880.40M856.90,256.00H880.40M858.10,259.00H880.40" stroke="#5a5200" stroke-width="0.6" stroke-dasharray="0.7,2.6" fill="none"/>
<rect x="856.00" y="248.50" width="25.00" height="12.00" fill="none" stroke="#4a4300" stroke-width="0.5"/>
<rect transform="translate(856.00,260.50)" width="37.00" height="4.00" fill="url(#pG)" stroke="#0b6b35" stroke-width="0.5"/>
<rect x="856.00" y="264.50" width="25.00" height="7.00" fill="#fff100"/>
<path d="M856.00,268.00h25.00" stroke="#4f4800" stroke-width="0.48" fill="none"/>
<path d="M856.90,266.25H880.40M858.10,269.75H880.40" stroke="#5a5200" stroke-width="0.6" stroke-dasharray="0.7,2.6" fill="none"/>
<rect x="856.00" y="264.50" width="25.00" height="7.00" fill="none" stroke="#4a4300" stroke-width="0.5"/>
<rect x="856.00" y="271.50" width="20.50" height="16.50" fill="#fff100"/>
<path d="M856.00,274.80h20.50M856.00,278.10h20.50M856.00,281.40h20.50M856.00,284.70h20.50" stroke="#4f4800" stroke-width="0.48" fill="none"/>
<path d="M856.90,273.15H875.90M858.10,276.45H875.90M856.90,279.75H875.90M858.10,283.05H875.90M856.90,286.35H875.90" stroke="#5a5200" stroke-width="0.6" stroke-dasharray="0.7,2.6" fill="none"/>
<rect x="856.00" y="271.50" width="20.50" height="16.50" fill="none" stroke="#4a4300" stroke-width="0.5"/>
<rect x="856.00" y="288.00" width="31.50" height="5.00" fill="#ec7c1a"/>
<path d="M857.20,290.50H886.90" stroke="#7a3808" stroke-width="1.15" stroke-dasharray="1.2,1.4" fill="none"/>
<rect x="856.00" y="288.00" width="31.50" height="5.00" fill="none" stroke="#6a3a08" stroke-width="0.75"/>
<rect x="856.00" y="293.00" width="42.00" height="5.00" fill="#ec7c1a"/>
<path d="M857.20,295.50H897.40" stroke="#7a3808" stroke-width="1.15" stroke-dasharray="1.2,1.4" fill="none"/>
<rect x="856.00" y="293.00" width="42.00" height="5.00" fill="none" stroke="#6a3a08" stroke-width="0.75"/>
<rect x="856.00" y="298.00" width="21.50" height="5.50" fill="#a8daf7"/>
<path d="M856.00,300.75h21.50" stroke="#3f6f9f" stroke-width="0.95" fill="none"/>
<path d="M857.60,298.30v2.15M863.60,298.30v2.15M869.60,298.30v2.15M875.60,298.30v2.15M860.60,301.05v2.15M866.60,301.05v2.15M872.60,301.05v2.15" stroke="#5f8fbc" stroke-width="0.6" fill="none"/>
<rect x="856.00" y="298.00" width="21.50" height="5.50" fill="none" stroke="#3d6f9e" stroke-width="0.5"/>
<text x="863.3" y="54.6" font-size="6.2" fill="#444">Si</text>
<line x1="857.50" y1="52.40" x2="863.00" y2="52.40" stroke="#444" stroke-width="0.6"/>
<rect x="856.00" y="320.50" width="31.00" height="41.00" fill="#ec7c1a"/>
<path d="M856.00,324.60h31.00M856.00,328.70h31.00M856.00,332.80h31.00M856.00,336.90h31.00M856.00,341.00h31.00M856.00,345.10h31.00M856.00,349.20h31.00M856.00,353.30h31.00M856.00,357.40h31.00" stroke="#9a5010" stroke-width="0.65" fill="none"/>
<path d="M857.20,322.55H886.40M858.60,326.65H886.40M857.20,330.75H886.40M858.60,334.85H886.40M857.20,338.95H886.40M858.60,343.05H886.40M857.20,347.15H886.40M858.60,351.25H886.40M857.20,355.35H886.40M858.60,359.45H886.40" stroke="#7a3808" stroke-width="1.15" stroke-dasharray="1.2,1.4" fill="none"/>
<rect x="856.00" y="320.50" width="31.00" height="41.00" fill="none" stroke="#6a3a08" stroke-width="0.75"/>
<path transform="translate(856.00,303.50)" d="M0,0 L37.00,0 L37.00,16.60 Q32.38,19.40 27.75,16.60 Q23.12,19.40 18.50,16.60 Q13.88,19.40 9.25,16.60 Q4.62,19.40 0.00,16.60 Z" fill="#1697dc" stroke="#1b6fa8" stroke-width="0.5"/>
<path d="M865.40,304.90l1.58,2.85h-3.15z" fill="#dcf35a"/>
<path d="M876.85,304.90l1.58,2.85h-3.15z" fill="#dcf35a"/>
<path d="M888.30,304.90l1.58,2.85h-3.15z" fill="#dcf35a"/>
<path d="M859.70,310.60l1.58,2.85h-3.15z" fill="#dcf35a"/>
<path d="M871.15,310.60l1.58,2.85h-3.15z" fill="#dcf35a"/>
<path d="M882.60,310.60l1.58,2.85h-3.15z" fill="#dcf35a"/>
<path d="M865.40,316.30l1.58,2.85h-3.15z" fill="#dcf35a"/>
<path d="M876.85,316.30l1.58,2.85h-3.15z" fill="#dcf35a"/>
<path d="M888.30,316.30l1.58,2.85h-3.15z" fill="#dcf35a"/>
<rect x="856.00" y="361.50" width="25.00" height="21.50" fill="#fff100"/>
<path d="M856.00,364.57h25.00M856.00,367.64h25.00M856.00,370.71h25.00M856.00,373.79h25.00M856.00,376.86h25.00M856.00,379.93h25.00" stroke="#4f4800" stroke-width="0.48" fill="none"/>
<path d="M856.90,363.04H880.40M858.10,366.11H880.40M856.90,369.18H880.40M858.10,372.25H880.40M856.90,375.32H880.40M858.10,378.39H880.40M856.90,381.46H880.40" stroke="#5a5200" stroke-width="0.6" stroke-dasharray="0.7,2.6" fill="none"/>
<rect x="856.00" y="361.50" width="25.00" height="21.50" fill="none" stroke="#4a4300" stroke-width="0.5"/>
<rect transform="translate(856.00,383.00)" width="34.50" height="25.50" fill="#1697dc" stroke="#1b6fa8" stroke-width="0.5"/>
<path d="M865.40,384.40l1.58,2.85h-3.15z" fill="#dcf35a"/>
<path d="M876.85,384.40l1.58,2.85h-3.15z" fill="#dcf35a"/>
<path d="M888.30,384.40l1.58,2.85h-3.15z" fill="#dcf35a"/>
<path d="M859.70,391.17l1.58,2.85h-3.15z" fill="#dcf35a"/>
<path d="M871.15,391.17l1.58,2.85h-3.15z" fill="#dcf35a"/>
<path d="M882.60,391.17l1.58,2.85h-3.15z" fill="#dcf35a"/>
<path d="M865.40,397.93l1.58,2.85h-3.15z" fill="#dcf35a"/>
<path d="M876.85,397.93l1.58,2.85h-3.15z" fill="#dcf35a"/>
<path d="M888.30,397.93l1.58,2.85h-3.15z" fill="#dcf35a"/>
<path d="M859.70,404.70l1.58,2.85h-3.15z" fill="#dcf35a"/>
<path d="M871.15,404.70l1.58,2.85h-3.15z" fill="#dcf35a"/>
<path d="M882.60,404.70l1.58,2.85h-3.15z" fill="#dcf35a"/>
<rect x="856.00" y="408.50" width="40.50" height="5.00" fill="#ec7c1a"/>
<path d="M857.20,411.00H895.90" stroke="#7a3808" stroke-width="1.15" stroke-dasharray="1.2,1.4" fill="none"/>
<rect x="856.00" y="408.50" width="40.50" height="5.00" fill="none" stroke="#6a3a08" stroke-width="0.75"/>
<rect x="856.00" y="413.50" width="24.00" height="62.00" fill="#fff100"/>
<path d="M856.00,416.76h24.00M856.00,420.03h24.00M856.00,423.29h24.00M856.00,426.55h24.00M856.00,429.82h24.00M856.00,433.08h24.00M856.00,436.34h24.00M856.00,439.61h24.00M856.00,442.87h24.00M856.00,446.13h24.00M856.00,449.39h24.00M856.00,452.66h24.00M856.00,455.92h24.00M856.00,459.18h24.00M856.00,462.45h24.00M856.00,465.71h24.00M856.00,468.97h24.00M856.00,472.24h24.00" stroke="#4f4800" stroke-width="0.48" fill="none"/>
<path d="M856.90,415.13H879.40M858.10,418.39H879.40M856.90,421.66H879.40M858.10,424.92H879.40M856.90,428.18H879.40M858.10,431.45H879.40M856.90,434.71H879.40M858.10,437.97H879.40M856.90,441.24H879.40M858.10,444.50H879.40M856.90,447.76H879.40M858.10,451.03H879.40M856.90,454.29H879.40M858.10,457.55H879.40M856.90,460.82H879.40M858.10,464.08H879.40M856.90,467.34H879.40M858.10,470.61H879.40M856.90,473.87H879.40" stroke="#5a5200" stroke-width="0.6" stroke-dasharray="0.7,2.6" fill="none"/>
<rect x="856.00" y="413.50" width="24.00" height="62.00" fill="none" stroke="#4a4300" stroke-width="0.5"/>
<path d="M856.00,445.00 C862.00,443.40 864.40,444.20 868.00,445.00 S875.20,446.60 880.00,445.00" fill="none" stroke="#4a4a40" stroke-width="2.5" opacity="0.8"/>
<path d="M856.00,445.00 C862.00,443.40 864.40,444.20 868.00,445.00 S875.20,446.60 880.00,445.00" fill="none" stroke="#fff" stroke-width="1.4"/>
<clipPath id="wc6"><path transform="translate(856.00,475.50)" d="M0,0 L40.50,0 L40.50,3.70 Q37.61,6.30 34.71,3.70 Q31.82,6.30 28.93,3.70 Q26.04,6.30 23.14,3.70 Q20.25,6.30 17.36,3.70 Q14.46,6.30 11.57,3.70 Q8.68,6.30 5.79,3.70 Q2.89,6.30 0.00,3.70 Z"/></clipPath>
<path transform="translate(856.00,475.50)" d="M0,0 L40.50,0 L40.50,3.70 Q37.61,6.30 34.71,3.70 Q31.82,6.30 28.93,3.70 Q26.04,6.30 23.14,3.70 Q20.25,6.30 17.36,3.70 Q14.46,6.30 11.57,3.70 Q8.68,6.30 5.79,3.70 Q2.89,6.30 0.00,3.70 Z" fill="#ec7c1a"/>
<path d="M857.20,478.26H895.90" stroke="#7a3808" stroke-width="1.15" stroke-dasharray="1.2,1.4" fill="none" clip-path="url(#wc6)"/>
<path transform="translate(856.00,475.50)" d="M0,0 L40.50,0 L40.50,3.70 Q37.61,6.30 34.71,3.70 Q31.82,6.30 28.93,3.70 Q26.04,6.30 23.14,3.70 Q20.25,6.30 17.36,3.70 Q14.46,6.30 11.57,3.70 Q8.68,6.30 5.79,3.70 Q2.89,6.30 0.00,3.70 Z" fill="none" stroke="#6a3a08" stroke-width="0.5"/>
<rect transform="translate(856.00,480.50)" width="25.50" height="9.00" fill="url(#pB)" stroke="#4a4038" stroke-width="0.5"/>
<path d="M866.5,481.5q3.5,-1.5 7,0v7.5h-7z" fill="#8478c0" opacity="0.7"/>
<rect transform="translate(963.50,41.00)" width="20.00" height="10.50" fill="url(#pL3)" stroke="#3d6f9e" stroke-width="0.5"/>
<clipPath id="wc7"><path transform="translate(963.50,51.50)" d="M0,0 L31.00,0 L31.00,3.70 Q28.42,6.30 25.83,3.70 Q23.25,6.30 20.67,3.70 Q18.08,6.30 15.50,3.70 Q12.92,6.30 10.33,3.70 Q7.75,6.30 5.17,3.70 Q2.58,6.30 -0.00,3.70 Z"/></clipPath>
<path transform="translate(963.50,51.50)" d="M0,0 L31.00,0 L31.00,3.70 Q28.42,6.30 25.83,3.70 Q23.25,6.30 20.67,3.70 Q18.08,6.30 15.50,3.70 Q12.92,6.30 10.33,3.70 Q7.75,6.30 5.17,3.70 Q2.58,6.30 -0.00,3.70 Z" fill="#ec7c1a"/>
<path d="M964.70,54.26H993.90" stroke="#7a3808" stroke-width="1.15" stroke-dasharray="1.2,1.4" fill="none" clip-path="url(#wc7)"/>
<path transform="translate(963.50,51.50)" d="M0,0 L31.00,0 L31.00,3.70 Q28.42,6.30 25.83,3.70 Q23.25,6.30 20.67,3.70 Q18.08,6.30 15.50,3.70 Q12.92,6.30 10.33,3.70 Q7.75,6.30 5.17,3.70 Q2.58,6.30 -0.00,3.70 Z" fill="none" stroke="#6a3a08" stroke-width="0.5"/>
<rect transform="translate(963.50,56.50)" width="13.50" height="9.50" fill="#3e3a39" stroke="#3e3a39" stroke-width="0.5"/>
<rect x="963.50" y="66.00" width="20.00" height="7.00" fill="#fff100"/>
<path d="M963.50,69.50h20.00" stroke="#4f4800" stroke-width="0.48" fill="none"/>
<path d="M964.40,67.75H982.90M965.60,71.25H982.90" stroke="#5a5200" stroke-width="0.6" stroke-dasharray="0.7,2.6" fill="none"/>
<rect x="963.50" y="66.00" width="20.00" height="7.00" fill="none" stroke="#4a4300" stroke-width="0.5"/>
<rect transform="translate(963.50,73.00)" width="13.50" height="1.00" fill="#3e3a39" stroke="#3e3a39" stroke-width="0.5"/>
<rect x="963.50" y="74.00" width="20.00" height="4.00" fill="#fff100"/>
<path d="M964.40,76.00H982.90" stroke="#5a5200" stroke-width="0.6" stroke-dasharray="0.7,2.6" fill="none"/>
<rect x="963.50" y="74.00" width="20.00" height="4.00" fill="none" stroke="#4a4300" stroke-width="0.5"/>
<rect transform="translate(963.50,78.00)" width="13.50" height="1.00" fill="#3e3a39" stroke="#3e3a39" stroke-width="0.5"/>
<rect x="963.50" y="79.00" width="20.00" height="3.00" fill="#fff100"/>
<path d="M964.40,80.50H982.90" stroke="#5a5200" stroke-width="0.6" stroke-dasharray="0.7,2.6" fill="none"/>
<rect x="963.50" y="79.00" width="20.00" height="3.00" fill="none" stroke="#4a4300" stroke-width="0.5"/>
<rect transform="translate(963.50,82.00)" width="13.50" height="2.00" fill="#3e3a39" stroke="#3e3a39" stroke-width="0.5"/>
<rect x="963.50" y="84.00" width="25.00" height="16.00" fill="#fff100"/>
<path d="M963.50,87.20h25.00M963.50,90.40h25.00M963.50,93.60h25.00M963.50,96.80h25.00" stroke="#4f4800" stroke-width="0.48" fill="none"/>
<path d="M964.40,85.60H987.90M965.60,88.80H987.90M964.40,92.00H987.90M965.60,95.20H987.90M964.40,98.40H987.90" stroke="#5a5200" stroke-width="0.6" stroke-dasharray="0.7,2.6" fill="none"/>
<rect x="963.50" y="84.00" width="25.00" height="16.00" fill="none" stroke="#4a4300" stroke-width="0.5"/>
<rect x="963.50" y="100.00" width="20.00" height="5.00" fill="#fff100"/>
<path d="M963.50,102.50h20.00" stroke="#4f4800" stroke-width="0.48" fill="none"/>
<path d="M964.40,101.25H982.90M965.60,103.75H982.90" stroke="#5a5200" stroke-width="0.6" stroke-dasharray="0.7,2.6" fill="none"/>
<rect x="963.50" y="100.00" width="20.00" height="5.00" fill="none" stroke="#4a4300" stroke-width="0.5"/>
<rect x="963.50" y="105.00" width="25.00" height="14.00" fill="#fff100"/>
<path d="M963.50,108.50h25.00M963.50,112.00h25.00M963.50,115.50h25.00" stroke="#4f4800" stroke-width="0.48" fill="none"/>
<path d="M964.40,106.75H987.90M965.60,110.25H987.90M964.40,113.75H987.90M965.60,117.25H987.90" stroke="#5a5200" stroke-width="0.6" stroke-dasharray="0.7,2.6" fill="none"/>
<rect x="963.50" y="105.00" width="25.00" height="14.00" fill="none" stroke="#4a4300" stroke-width="0.5"/>
<rect x="963.50" y="119.00" width="31.00" height="5.00" fill="#ec7c1a"/>
<path d="M964.70,121.50H993.90" stroke="#7a3808" stroke-width="1.15" stroke-dasharray="1.2,1.4" fill="none"/>
<rect x="963.50" y="119.00" width="31.00" height="5.00" fill="none" stroke="#6a3a08" stroke-width="0.75"/>
<rect x="963.50" y="124.00" width="25.00" height="22.00" fill="#fff100"/>
<path d="M963.50,127.14h25.00M963.50,130.29h25.00M963.50,133.43h25.00M963.50,136.57h25.00M963.50,139.71h25.00M963.50,142.86h25.00" stroke="#4f4800" stroke-width="0.48" fill="none"/>
<path d="M964.40,125.57H987.90M965.60,128.71H987.90M964.40,131.86H987.90M965.60,135.00H987.90M964.40,138.14H987.90M965.60,141.29H987.90M964.40,144.43H987.90" stroke="#5a5200" stroke-width="0.6" stroke-dasharray="0.7,2.6" fill="none"/>
<rect x="963.50" y="124.00" width="25.00" height="22.00" fill="none" stroke="#4a4300" stroke-width="0.5"/>
<rect x="963.50" y="146.00" width="31.00" height="5.00" fill="#ec7c1a"/>
<path d="M964.70,148.50H993.90" stroke="#7a3808" stroke-width="1.15" stroke-dasharray="1.2,1.4" fill="none"/>
<rect x="963.50" y="146.00" width="31.00" height="5.00" fill="none" stroke="#6a3a08" stroke-width="0.75"/>
<rect transform="translate(963.50,151.00)" width="13.50" height="4.00" fill="#3e3a39" stroke="#3e3a39" stroke-width="0.5"/>
<rect x="963.50" y="155.00" width="31.00" height="4.50" fill="#ec7c1a"/>
<path d="M964.70,157.25H993.90" stroke="#7a3808" stroke-width="1.15" stroke-dasharray="1.2,1.4" fill="none"/>
<rect x="963.50" y="155.00" width="31.00" height="4.50" fill="none" stroke="#6a3a08" stroke-width="0.75"/>
<rect transform="translate(963.50,159.50)" width="36.50" height="4.00" fill="#1697dc" stroke="#1b6fa8" stroke-width="0.5"/>
<path d="M967.20,160.40l1.37,2.47h-2.73z" fill="#dcf35a"/>
<path d="M978.65,160.40l1.37,2.47h-2.73z" fill="#dcf35a"/>
<path d="M990.10,160.40l1.37,2.47h-2.73z" fill="#dcf35a"/>
<rect x="963.50" y="163.50" width="31.00" height="8.00" fill="#ec7c1a"/>
<path d="M963.50,167.50h31.00" stroke="#9a5010" stroke-width="0.65" fill="none"/>
<path d="M964.70,165.50H993.90M966.10,169.50H993.90" stroke="#7a3808" stroke-width="1.15" stroke-dasharray="1.2,1.4" fill="none"/>
<rect x="963.50" y="163.50" width="31.00" height="8.00" fill="none" stroke="#6a3a08" stroke-width="0.75"/>
<rect x="963.50" y="171.50" width="25.00" height="6.00" fill="#fff100"/>
<path d="M963.50,174.50h25.00" stroke="#4f4800" stroke-width="0.48" fill="none"/>
<path d="M964.40,173.00H987.90M965.60,176.00H987.90" stroke="#5a5200" stroke-width="0.6" stroke-dasharray="0.7,2.6" fill="none"/>
<rect x="963.50" y="171.50" width="25.00" height="6.00" fill="none" stroke="#4a4300" stroke-width="0.5"/>
<rect x="963.50" y="177.50" width="41.00" height="3.00" fill="#ec7c1a"/>
<path d="M964.70,179.00H1003.90" stroke="#7a3808" stroke-width="1.15" stroke-dasharray="1.2,1.4" fill="none"/>
<rect x="963.50" y="177.50" width="41.00" height="3.00" fill="none" stroke="#6a3a08" stroke-width="0.75"/>
<rect x="963.50" y="180.50" width="25.00" height="3.00" fill="#fff100"/>
<path d="M964.40,182.00H987.90" stroke="#5a5200" stroke-width="0.6" stroke-dasharray="0.7,2.6" fill="none"/>
<rect x="963.50" y="180.50" width="25.00" height="3.00" fill="none" stroke="#4a4300" stroke-width="0.5"/>
<rect x="963.50" y="183.50" width="20.00" height="4.00" fill="#fff100"/>
<path d="M964.40,185.50H982.90" stroke="#5a5200" stroke-width="0.6" stroke-dasharray="0.7,2.6" fill="none"/>
<rect x="963.50" y="183.50" width="20.00" height="4.00" fill="none" stroke="#4a4300" stroke-width="0.5"/>
<rect x="963.50" y="187.50" width="25.00" height="10.50" fill="#fff100"/>
<path d="M963.50,191.00h25.00M963.50,194.50h25.00" stroke="#4f4800" stroke-width="0.48" fill="none"/>
<path d="M964.40,189.25H987.90M965.60,192.75H987.90M964.40,196.25H987.90" stroke="#5a5200" stroke-width="0.6" stroke-dasharray="0.7,2.6" fill="none"/>
<rect x="963.50" y="187.50" width="25.00" height="10.50" fill="none" stroke="#4a4300" stroke-width="0.5"/>
<rect x="963.50" y="198.00" width="20.00" height="2.00" fill="#fff100"/>
<path d="M964.40,199.00H982.90" stroke="#5a5200" stroke-width="0.6" stroke-dasharray="0.7,2.6" fill="none"/>
<rect x="963.50" y="198.00" width="20.00" height="2.00" fill="none" stroke="#4a4300" stroke-width="0.5"/>
<rect x="963.50" y="200.00" width="25.00" height="6.00" fill="#fff100"/>
<path d="M963.50,203.00h25.00" stroke="#4f4800" stroke-width="0.48" fill="none"/>
<path d="M964.40,201.50H987.90M965.60,204.50H987.90" stroke="#5a5200" stroke-width="0.6" stroke-dasharray="0.7,2.6" fill="none"/>
<rect x="963.50" y="200.00" width="25.00" height="6.00" fill="none" stroke="#4a4300" stroke-width="0.5"/>
<rect x="963.50" y="206.00" width="41.00" height="4.00" fill="#ec7c1a"/>
<path d="M964.70,208.00H1003.90" stroke="#7a3808" stroke-width="1.15" stroke-dasharray="1.2,1.4" fill="none"/>
<rect x="963.50" y="206.00" width="41.00" height="4.00" fill="none" stroke="#6a3a08" stroke-width="0.75"/>
<rect x="963.50" y="210.00" width="31.00" height="6.50" fill="#ec7c1a"/>
<path d="M963.50,213.25h31.00" stroke="#9a5010" stroke-width="0.65" fill="none"/>
<path d="M964.70,211.62H993.90M966.10,214.88H993.90" stroke="#7a3808" stroke-width="1.15" stroke-dasharray="1.2,1.4" fill="none"/>
<rect x="963.50" y="210.00" width="31.00" height="6.50" fill="none" stroke="#6a3a08" stroke-width="0.75"/>
<rect x="963.50" y="216.50" width="20.00" height="5.50" fill="#fff100"/>
<path d="M963.50,219.25h20.00" stroke="#4f4800" stroke-width="0.48" fill="none"/>
<path d="M964.40,217.88H982.90M965.60,220.62H982.90" stroke="#5a5200" stroke-width="0.6" stroke-dasharray="0.7,2.6" fill="none"/>
<rect x="963.50" y="216.50" width="20.00" height="5.50" fill="none" stroke="#4a4300" stroke-width="0.5"/>
<rect x="963.50" y="222.00" width="31.00" height="5.00" fill="#ec7c1a"/>
<path d="M964.70,224.50H993.90" stroke="#7a3808" stroke-width="1.15" stroke-dasharray="1.2,1.4" fill="none"/>
<rect x="963.50" y="222.00" width="31.00" height="5.00" fill="none" stroke="#6a3a08" stroke-width="0.75"/>
<rect x="963.50" y="227.50" width="31.00" height="4.50" fill="#ec7c1a"/>
<path d="M964.70,229.75H993.90" stroke="#7a3808" stroke-width="1.15" stroke-dasharray="1.2,1.4" fill="none"/>
<rect x="963.50" y="227.50" width="31.00" height="4.50" fill="none" stroke="#6a3a08" stroke-width="0.75"/>
<rect transform="translate(963.50,232.00)" width="13.50" height="1.50" fill="#3e3a39" stroke="#3e3a39" stroke-width="0.5"/>
<rect x="963.50" y="233.50" width="31.00" height="4.50" fill="#ec7c1a"/>
<path d="M964.70,235.75H993.90" stroke="#7a3808" stroke-width="1.15" stroke-dasharray="1.2,1.4" fill="none"/>
<rect x="963.50" y="233.50" width="31.00" height="4.50" fill="none" stroke="#6a3a08" stroke-width="0.75"/>
<rect x="963.50" y="238.00" width="25.00" height="4.50" fill="#fff100"/>
<path d="M964.40,240.25H987.90" stroke="#5a5200" stroke-width="0.6" stroke-dasharray="0.7,2.6" fill="none"/>
<rect x="963.50" y="238.00" width="25.00" height="4.50" fill="none" stroke="#4a4300" stroke-width="0.5"/>
<rect transform="translate(963.50,242.50)" width="13.50" height="4.00" fill="#3e3a39" stroke="#3e3a39" stroke-width="0.5"/>
<rect x="963.50" y="246.50" width="20.00" height="4.50" fill="#fff100"/>
<path d="M964.40,248.75H982.90" stroke="#5a5200" stroke-width="0.6" stroke-dasharray="0.7,2.6" fill="none"/>
<rect x="963.50" y="246.50" width="20.00" height="4.50" fill="none" stroke="#4a4300" stroke-width="0.5"/>
<rect transform="translate(963.50,251.00)" width="13.50" height="3.50" fill="#3e3a39" stroke="#3e3a39" stroke-width="0.5"/>
<rect x="963.50" y="254.50" width="20.00" height="4.00" fill="#fff100"/>
<path d="M964.40,256.50H982.90" stroke="#5a5200" stroke-width="0.6" stroke-dasharray="0.7,2.6" fill="none"/>
<rect x="963.50" y="254.50" width="20.00" height="4.00" fill="none" stroke="#4a4300" stroke-width="0.5"/>
<rect transform="translate(963.50,258.50)" width="13.50" height="3.50" fill="#3e3a39" stroke="#3e3a39" stroke-width="0.5"/>
<rect x="963.50" y="262.00" width="20.00" height="4.50" fill="#fff100"/>
<path d="M964.40,264.25H982.90" stroke="#5a5200" stroke-width="0.6" stroke-dasharray="0.7,2.6" fill="none"/>
<rect x="963.50" y="262.00" width="20.00" height="4.50" fill="none" stroke="#4a4300" stroke-width="0.5"/>
<rect transform="translate(963.50,266.50)" width="13.50" height="3.50" fill="#3e3a39" stroke="#3e3a39" stroke-width="0.5"/>
<rect x="963.50" y="270.00" width="20.00" height="4.50" fill="#fff100"/>
<path d="M964.40,272.25H982.90" stroke="#5a5200" stroke-width="0.6" stroke-dasharray="0.7,2.6" fill="none"/>
<rect x="963.50" y="270.00" width="20.00" height="4.50" fill="none" stroke="#4a4300" stroke-width="0.5"/>
<rect transform="translate(963.50,274.50)" width="36.50" height="76.50" fill="#1697dc" stroke="#1b6fa8" stroke-width="0.5"/>
<path d="M972.90,275.90l1.58,2.85h-3.15z" fill="#dcf35a"/>
<path d="M984.35,275.90l1.58,2.85h-3.15z" fill="#dcf35a"/>
<path d="M995.80,275.90l1.58,2.85h-3.15z" fill="#dcf35a"/>
<path d="M967.20,281.38l1.58,2.85h-3.15z" fill="#dcf35a"/>
<path d="M978.65,281.38l1.58,2.85h-3.15z" fill="#dcf35a"/>
<path d="M990.10,281.38l1.58,2.85h-3.15z" fill="#dcf35a"/>
<path d="M972.90,286.87l1.58,2.85h-3.15z" fill="#dcf35a"/>
<path d="M984.35,286.87l1.58,2.85h-3.15z" fill="#dcf35a"/>
<path d="M995.80,286.87l1.58,2.85h-3.15z" fill="#dcf35a"/>
<path d="M967.20,292.35l1.58,2.85h-3.15z" fill="#dcf35a"/>
<path d="M978.65,292.35l1.58,2.85h-3.15z" fill="#dcf35a"/>
<path d="M990.10,292.35l1.58,2.85h-3.15z" fill="#dcf35a"/>
<path d="M972.90,297.84l1.58,2.85h-3.15z" fill="#dcf35a"/>
<path d="M984.35,297.84l1.58,2.85h-3.15z" fill="#dcf35a"/>
<path d="M995.80,297.84l1.58,2.85h-3.15z" fill="#dcf35a"/>
<path d="M967.20,303.32l1.58,2.85h-3.15z" fill="#dcf35a"/>
<path d="M978.65,303.32l1.58,2.85h-3.15z" fill="#dcf35a"/>
<path d="M990.10,303.32l1.58,2.85h-3.15z" fill="#dcf35a"/>
<path d="M972.90,308.81l1.58,2.85h-3.15z" fill="#dcf35a"/>
<path d="M984.35,308.81l1.58,2.85h-3.15z" fill="#dcf35a"/>
<path d="M995.80,308.81l1.58,2.85h-3.15z" fill="#dcf35a"/>
<path d="M967.20,314.29l1.58,2.85h-3.15z" fill="#dcf35a"/>
<path d="M978.65,314.29l1.58,2.85h-3.15z" fill="#dcf35a"/>
<path d="M990.10,314.29l1.58,2.85h-3.15z" fill="#dcf35a"/>
<path d="M972.90,319.78l1.58,2.85h-3.15z" fill="#dcf35a"/>
<path d="M984.35,319.78l1.58,2.85h-3.15z" fill="#dcf35a"/>
<path d="M995.80,319.78l1.58,2.85h-3.15z" fill="#dcf35a"/>
<path d="M967.20,325.26l1.58,2.85h-3.15z" fill="#dcf35a"/>
<path d="M978.65,325.26l1.58,2.85h-3.15z" fill="#dcf35a"/>
<path d="M990.10,325.26l1.58,2.85h-3.15z" fill="#dcf35a"/>
<path d="M972.90,330.75l1.58,2.85h-3.15z" fill="#dcf35a"/>
<path d="M984.35,330.75l1.58,2.85h-3.15z" fill="#dcf35a"/>
<path d="M995.80,330.75l1.58,2.85h-3.15z" fill="#dcf35a"/>
<path d="M967.20,336.23l1.58,2.85h-3.15z" fill="#dcf35a"/>
<path d="M978.65,336.23l1.58,2.85h-3.15z" fill="#dcf35a"/>
<path d="M990.10,336.23l1.58,2.85h-3.15z" fill="#dcf35a"/>
<path d="M972.90,341.72l1.58,2.85h-3.15z" fill="#dcf35a"/>
<path d="M984.35,341.72l1.58,2.85h-3.15z" fill="#dcf35a"/>
<path d="M995.80,341.72l1.58,2.85h-3.15z" fill="#dcf35a"/>
<path d="M967.20,347.20l1.58,2.85h-3.15z" fill="#dcf35a"/>
<path d="M978.65,347.20l1.58,2.85h-3.15z" fill="#dcf35a"/>
<path d="M990.10,347.20l1.58,2.85h-3.15z" fill="#dcf35a"/>
<rect transform="translate(963.50,351.00)" width="13.50" height="9.50" fill="#3e3a39" stroke="#3e3a39" stroke-width="0.5"/>
<rect x="963.50" y="360.50" width="20.00" height="3.50" fill="#fff100"/>
<path d="M964.40,362.25H982.90" stroke="#5a5200" stroke-width="0.6" stroke-dasharray="0.7,2.6" fill="none"/>
<rect x="963.50" y="360.50" width="20.00" height="3.50" fill="none" stroke="#4a4300" stroke-width="0.5"/>
<rect transform="translate(963.50,364.00)" width="13.50" height="11.50" fill="#3e3a39" stroke="#3e3a39" stroke-width="0.5"/>
<rect x="963.50" y="375.50" width="20.00" height="12.50" fill="#fff100"/>
<path d="M963.50,379.67h20.00M963.50,383.83h20.00" stroke="#4f4800" stroke-width="0.48" fill="none"/>
<path d="M964.40,377.58H982.90M965.60,381.75H982.90M964.40,385.92H982.90" stroke="#5a5200" stroke-width="0.6" stroke-dasharray="0.7,2.6" fill="none"/>
<rect x="963.50" y="375.50" width="20.00" height="12.50" fill="none" stroke="#4a4300" stroke-width="0.5"/>
<rect transform="translate(963.50,388.00)" width="13.50" height="3.00" fill="#3e3a39" stroke="#3e3a39" stroke-width="0.5"/>
<rect x="963.50" y="391.00" width="20.00" height="20.00" fill="#fff100"/>
<path d="M963.50,395.00h20.00M963.50,399.00h20.00M963.50,403.00h20.00M963.50,407.00h20.00" stroke="#4f4800" stroke-width="0.48" fill="none"/>
<path d="M964.40,393.00H982.90M965.60,397.00H982.90M964.40,401.00H982.90M965.60,405.00H982.90M964.40,409.00H982.90" stroke="#5a5200" stroke-width="0.6" stroke-dasharray="0.7,2.6" fill="none"/>
<rect x="963.50" y="391.00" width="20.00" height="20.00" fill="none" stroke="#4a4300" stroke-width="0.5"/>
<rect x="963.50" y="411.00" width="25.00" height="3.50" fill="#fff100"/>
<path d="M964.40,412.75H987.90" stroke="#5a5200" stroke-width="0.6" stroke-dasharray="0.7,2.6" fill="none"/>
<rect x="963.50" y="411.00" width="25.00" height="3.50" fill="none" stroke="#4a4300" stroke-width="0.5"/>
<rect transform="translate(963.50,414.50)" width="41.00" height="20.00" fill="url(#pC)" stroke="#8a4a10" stroke-width="0.5"/>
<rect x="963.50" y="434.50" width="24.50" height="3.50" fill="#fff100"/>
<path d="M964.40,436.25H987.40" stroke="#5a5200" stroke-width="0.6" stroke-dasharray="0.7,2.6" fill="none"/>
<rect x="963.50" y="434.50" width="24.50" height="3.50" fill="none" stroke="#4a4300" stroke-width="0.5"/>
<rect transform="translate(963.50,438.00)" width="41.00" height="35.50" fill="url(#pC)" stroke="#8a4a10" stroke-width="0.5"/>
<rect x="963.50" y="473.50" width="20.00" height="2.00" fill="#fff100"/>
<path d="M964.40,474.50H982.90" stroke="#5a5200" stroke-width="0.6" stroke-dasharray="0.7,2.6" fill="none"/>
<rect x="963.50" y="473.50" width="20.00" height="2.00" fill="none" stroke="#4a4300" stroke-width="0.5"/>
<rect x="963.50" y="152.00" width="20.00" height="2.00" fill="#fff100"/>
<path d="M964.40,153.00H982.90" stroke="#5a5200" stroke-width="0.6" stroke-dasharray="0.7,2.6" fill="none"/>
<rect x="963.50" y="152.00" width="20.00" height="2.00" fill="none" stroke="#4a4300" stroke-width="0.5"/>
<path d="M963.50,61.00 C966.88,59.60 968.23,60.30 970.25,61.00 S974.30,62.40 977.00,61.00" fill="none" stroke="#4a4a40" stroke-width="2.7" opacity="0.8"/>
<path d="M963.50,61.00 C966.88,59.60 968.23,60.30 970.25,61.00 S974.30,62.40 977.00,61.00" fill="none" stroke="#fff" stroke-width="1.6"/>
<path d="M963.50,112.50 C969.75,110.90 972.25,111.70 976.00,112.50 S983.50,114.10 988.50,112.50" fill="none" stroke="#4a4a40" stroke-width="2.9" opacity="0.8"/>
<path d="M963.50,112.50 C969.75,110.90 972.25,111.70 976.00,112.50 S983.50,114.10 988.50,112.50" fill="none" stroke="#fff" stroke-width="1.7999999999999998"/>
<path transform="translate(963.50,475.50)" d="M0,0 L40.50,0 L40.50,25.10 Q37.61,26.90 34.71,25.10 Q31.82,26.90 28.93,25.10 Q26.04,26.90 23.14,25.10 Q20.25,26.90 17.36,25.10 Q14.46,26.90 11.57,25.10 Q8.68,26.90 5.79,25.10 Q2.89,26.90 0.00,25.10 Z" fill="url(#pC)" stroke="#8a4a10" stroke-width="0.5"/>
<rect x="963.50" y="501.00" width="20.00" height="6.50" fill="#a8daf7"/>
<path d="M963.50,504.25h20.00" stroke="#3f6f9f" stroke-width="0.95" fill="none"/>
<path d="M965.10,501.30v2.65M971.10,501.30v2.65M977.10,501.30v2.65M968.10,504.55v2.65M974.10,504.55v2.65M980.10,504.55v2.65" stroke="#5f8fbc" stroke-width="0.6" fill="none"/>
<rect x="963.50" y="501.00" width="20.00" height="6.50" fill="none" stroke="#3d6f9e" stroke-width="0.5"/>
<rect x="963.50" y="507.50" width="20.00" height="7.50" fill="#fff100"/>
<path d="M963.50,511.25h20.00" stroke="#4f4800" stroke-width="0.48" fill="none"/>
<path d="M964.40,509.38H982.90M965.60,513.12H982.90" stroke="#5a5200" stroke-width="0.6" stroke-dasharray="0.7,2.6" fill="none"/>
<rect x="963.50" y="507.50" width="20.00" height="7.50" fill="none" stroke="#4a4300" stroke-width="0.5"/>
<path d="M972,501.5h4q-2,6 -5,13.5h-4q3,-7 5,-13.5z" fill="#8f78b8"/>
<text x="26.00" y="18.11" font-size="9.6" fill="#4d4d4d" textLength="71.00" lengthAdjust="spacingAndGlyphs">(a) Siberia Basin</text>
<text x="129.00" y="18.11" font-size="9.6" fill="#4d4d4d" textLength="66.00" lengthAdjust="spacingAndGlyphs">(b) Oman Basin</text>
<text x="226.00" y="14.11" font-size="9.6" fill="#4d4d4d" textLength="119.00" lengthAdjust="spacingAndGlyphs">(c) Xiang-guangxi Rift Valley,</text>
<text x="215.50" y="24.11" font-size="9.6" fill="#4d4d4d" textLength="142.00" lengthAdjust="spacingAndGlyphs">Southern China-Northern Guangxi</text>
<text x="284.00" y="35.61" font-size="9.6" fill="#4d4d4d" textLength="27.00" lengthAdjust="spacingAndGlyphs">5375m</text>
<text x="372.50" y="7.11" font-size="9.6" fill="#4d4d4d" textLength="98.50" lengthAdjust="spacingAndGlyphs">(d) Kangdian Rift Valley,</text>
<text x="387.00" y="15.61" font-size="9.6" fill="#4d4d4d" textLength="67.50" lengthAdjust="spacingAndGlyphs">Southern China-</text>
<text x="374.00" y="25.11" font-size="9.6" fill="#4d4d4d" textLength="96.00" lengthAdjust="spacingAndGlyphs">Southwestern Sichuan</text>
<text x="406.00" y="35.61" font-size="9.6" fill="#4d4d4d" textLength="28.50" lengthAdjust="spacingAndGlyphs">2209m</text>
<text x="484.00" y="7.11" font-size="9.6" fill="#4d4d4d" textLength="99.00" lengthAdjust="spacingAndGlyphs">(e) Kangdian Rift Valley,</text>
<text x="500.00" y="15.61" font-size="9.6" fill="#4d4d4d" textLength="67.00" lengthAdjust="spacingAndGlyphs">Southern China</text>
<text x="500.00" y="25.11" font-size="9.6" fill="#4d4d4d" textLength="67.00" lengthAdjust="spacingAndGlyphs">-Central Yunnan</text>
<text x="518.00" y="35.61" font-size="9.6" fill="#4d4d4d" textLength="34.00" lengthAdjust="spacingAndGlyphs">&gt;1647m</text>
<text x="604.00" y="15.11" font-size="9.6" fill="#4d4d4d" textLength="71.00" lengthAdjust="spacingAndGlyphs">(f) Sichuan Basin</text>
<text x="602.50" y="25.11" font-size="9.6" fill="#4d4d4d" textLength="73.50" lengthAdjust="spacingAndGlyphs">-Eastern Sichuan</text>
<text x="701.00" y="17.11" font-size="9.6" fill="#4d4d4d" textLength="112.00" lengthAdjust="spacingAndGlyphs">(g) Tarim Basin-Kuluketage</text>
<text x="742.50" y="35.61" font-size="9.6" fill="#4d4d4d" textLength="28.00" lengthAdjust="spacingAndGlyphs">5996m</text>
<text x="825.50" y="17.61" font-size="9.6" fill="#4d4d4d" textLength="84.50" lengthAdjust="spacingAndGlyphs">(h)Tarim Basin-Aksu</text>
<text x="854.00" y="35.61" font-size="9.6" fill="#4d4d4d" textLength="28.00" lengthAdjust="spacingAndGlyphs">2891m</text>
<text x="924.00" y="17.61" font-size="9.6" fill="#4d4d4d" textLength="99.50" lengthAdjust="spacingAndGlyphs">(I) Tarim Basin-Tiekelike</text>
<text x="964.00" y="35.61" font-size="9.6" fill="#4d4d4d" textLength="28.00" lengthAdjust="spacingAndGlyphs">2876m</text>
<text transform="translate(9.00,130.00) rotate(-90)" x="0" y="2.94" font-size="9.5" fill="#4d4d4d" textLength="41.00" lengthAdjust="spacingAndGlyphs">Cambrian</text>
<text transform="translate(9.00,284.00) rotate(-90)" x="0" y="2.94" font-size="9.5" fill="#4d4d4d" textLength="33.00" lengthAdjust="spacingAndGlyphs">Vendian</text>
<text transform="translate(9.00,442.50) rotate(-90)" x="0" y="2.94" font-size="9.5" fill="#4d4d4d" textLength="33.50" lengthAdjust="spacingAndGlyphs">Riphean</text>
<text transform="translate(9.00,558.00) rotate(-90)" x="0" y="2.94" font-size="9.5" fill="#4d4d4d" textLength="78.00" lengthAdjust="spacingAndGlyphs">Archean Eonothem</text>
<text transform="translate(30.00,256.50) rotate(-90)" x="0" y="2.57" font-size="8.3" fill="#4d4d4d" textLength="18.50" lengthAdjust="spacingAndGlyphs">Mota</text>
<text transform="translate(38.50,266.00) rotate(-90)" x="0" y="2.57" font-size="8.3" fill="#4d4d4d" textLength="37.00" lengthAdjust="spacingAndGlyphs">Formation</text>
<text transform="translate(30.00,441.00) rotate(-90)" x="0" y="2.57" font-size="8.3" fill="#4d4d4d" textLength="31.50" lengthAdjust="spacingAndGlyphs">Ushakov</text>
<text transform="translate(38.50,444.00) rotate(-90)" x="0" y="2.57" font-size="8.3" fill="#4d4d4d" textLength="38.00" lengthAdjust="spacingAndGlyphs">Formation</text>
<text transform="translate(232.20,135.50) rotate(-90)" x="0" y="2.94" font-size="9.5" fill="#4d4d4d" textLength="43.00" lengthAdjust="spacingAndGlyphs">Ediacaran</text>
<text transform="translate(232.00,344.00) rotate(-90)" x="0" y="2.94" font-size="9.5" fill="#4d4d4d" textLength="47.50" lengthAdjust="spacingAndGlyphs">Cryogenian</text>
<text x="24.00" y="44.44" font-size="8.3" fill="#4d4d4d" textLength="18.00" lengthAdjust="spacingAndGlyphs">Mota</text>
<text x="14.00" y="53.44" font-size="8.3" fill="#4d4d4d" textLength="37.00" lengthAdjust="spacingAndGlyphs">Formation</text>
<text x="24.00" y="67.94" font-size="8.3" fill="#4d4d4d" textLength="25.00" lengthAdjust="spacingAndGlyphs">542Ma</text>
<text x="23.00" y="163.44" font-size="8.3" fill="#4d4d4d" textLength="24.50" lengthAdjust="spacingAndGlyphs">550Ma</text>
<text x="24.00" y="365.94" font-size="8.3" fill="#4d4d4d" textLength="24.00" lengthAdjust="spacingAndGlyphs">850Ma</text>
<text x="21.00" y="475.94" font-size="8.3" fill="#4d4d4d" textLength="29.00" lengthAdjust="spacingAndGlyphs">2500Ma</text>
<text x="122.00" y="44.44" font-size="8.3" fill="#4d4d4d" textLength="17.00" lengthAdjust="spacingAndGlyphs">Nimr</text>
<text x="112.00" y="53.44" font-size="8.3" fill="#4d4d4d" textLength="37.00" lengthAdjust="spacingAndGlyphs">Formation</text>
<text x="120.50" y="76.44" font-size="8.3" fill="#4d4d4d" textLength="13.50" lengthAdjust="spacingAndGlyphs">Ara</text>
<text x="109.00" y="84.94" font-size="8.3" fill="#4d4d4d" textLength="37.00" lengthAdjust="spacingAndGlyphs">Formation</text>
<text x="122.00" y="107.44" font-size="8.3" fill="#4d4d4d" textLength="24.00" lengthAdjust="spacingAndGlyphs">550Ma</text>
<text x="117.50" y="218.44" font-size="8.3" fill="#4d4d4d" textLength="22.00" lengthAdjust="spacingAndGlyphs">Nafun</text>
<text x="110.00" y="227.44" font-size="8.3" fill="#4d4d4d" textLength="37.00" lengthAdjust="spacingAndGlyphs">Formation</text>
<text x="122.00" y="284.44" font-size="8.3" fill="#4d4d4d" textLength="23.50" lengthAdjust="spacingAndGlyphs">585Ma</text>
<text x="123.00" y="307.44" font-size="8.3" fill="#4d4d4d" textLength="14.00" lengthAdjust="spacingAndGlyphs">Abu</text>
<text x="116.00" y="315.94" font-size="8.3" fill="#4d4d4d" textLength="28.00" lengthAdjust="spacingAndGlyphs">Mahara</text>
<text x="111.00" y="324.44" font-size="8.3" fill="#4d4d4d" textLength="38.00" lengthAdjust="spacingAndGlyphs">Formation</text>
<text x="121.00" y="368.44" font-size="8.3" fill="#4d4d4d" textLength="25.00" lengthAdjust="spacingAndGlyphs">600Ma</text>
<text x="121.00" y="379.44" font-size="8.3" fill="#4d4d4d" textLength="25.00" lengthAdjust="spacingAndGlyphs">650Ma</text>
<text x="112.50" y="394.97" font-size="7" fill="#4d4d4d" textLength="37.50" lengthAdjust="spacingAndGlyphs">Proterozoic</text>
<text x="115.00" y="402.47" font-size="7" fill="#4d4d4d" textLength="32.50" lengthAdjust="spacingAndGlyphs">Eonothem</text>
<text x="125.00" y="421.94" font-size="8.3" fill="#4d4d4d" textLength="24.00" lengthAdjust="spacingAndGlyphs">850Ma</text>
<text x="255.50" y="46.44" font-size="8.3" fill="#4d4d4d" textLength="23.50" lengthAdjust="spacingAndGlyphs">Qingxi</text>
<text x="248.00" y="54.44" font-size="8.3" fill="#4d4d4d" textLength="37.00" lengthAdjust="spacingAndGlyphs">Formation</text>
<text x="259.00" y="64.44" font-size="8.3" fill="#4d4d4d" textLength="24.00" lengthAdjust="spacingAndGlyphs">542Ma</text>
<text x="255.00" y="74.44" font-size="8.3" fill="#4d4d4d" textLength="22.00" lengthAdjust="spacingAndGlyphs">Laopu</text>
<text x="248.00" y="82.44" font-size="8.3" fill="#4d4d4d" textLength="37.00" lengthAdjust="spacingAndGlyphs">Formation</text>
<text x="241.50" y="99.44" font-size="8.3" fill="#4d4d4d" textLength="44.50" lengthAdjust="spacingAndGlyphs">Doushantuo</text>
<text x="245.00" y="107.94" font-size="8.3" fill="#4d4d4d" textLength="37.50" lengthAdjust="spacingAndGlyphs">Formation</text>
<text x="255.00" y="129.44" font-size="8.3" fill="#4d4d4d" textLength="24.50" lengthAdjust="spacingAndGlyphs">Silikou</text>
<text x="248.00" y="138.44" font-size="8.3" fill="#4d4d4d" textLength="37.00" lengthAdjust="spacingAndGlyphs">Formation</text>
<text x="251.00" y="147.44" font-size="8.3" fill="#4d4d4d" textLength="31.50" lengthAdjust="spacingAndGlyphs">/ Nantuo</text>
<text x="248.00" y="155.44" font-size="8.3" fill="#4d4d4d" textLength="37.00" lengthAdjust="spacingAndGlyphs">Formation</text>
<text x="250.50" y="168.94" font-size="8.3" fill="#4d4d4d" textLength="35.50" lengthAdjust="spacingAndGlyphs">Datangpo</text>
<text x="249.50" y="177.44" font-size="8.3" fill="#4d4d4d" textLength="36.50" lengthAdjust="spacingAndGlyphs">Formation</text>
<text x="258.00" y="185.44" font-size="8.3" fill="#4d4d4d" textLength="24.50" lengthAdjust="spacingAndGlyphs">635Ma</text>
<text x="214.00" y="194.44" font-size="8.3" fill="#4d4d4d" textLength="72.00" lengthAdjust="spacingAndGlyphs">Gucheng Formation</text>
<text x="248.00" y="206.44" font-size="8.3" fill="#4d4d4d" textLength="38.00" lengthAdjust="spacingAndGlyphs">Liangjiehe</text>
<text x="248.00" y="215.44" font-size="8.3" fill="#4d4d4d" textLength="37.00" lengthAdjust="spacingAndGlyphs">Formation</text>
<text x="248.00" y="253.44" font-size="8.3" fill="#4d4d4d" textLength="36.50" lengthAdjust="spacingAndGlyphs">Chang 'an</text>
<text x="248.00" y="261.94" font-size="8.3" fill="#4d4d4d" textLength="37.00" lengthAdjust="spacingAndGlyphs">Formation</text>
<text x="247.00" y="310.44" font-size="8.3" fill="#4d4d4d" textLength="38.00" lengthAdjust="spacingAndGlyphs">Gongdong</text>
<text x="248.00" y="318.94" font-size="8.3" fill="#4d4d4d" textLength="37.00" lengthAdjust="spacingAndGlyphs">Formation</text>
<text x="244.00" y="361.94" font-size="8.3" fill="#4d4d4d" textLength="41.00" lengthAdjust="spacingAndGlyphs">SanmenJie</text>
<text x="246.00" y="370.44" font-size="8.3" fill="#4d4d4d" textLength="37.00" lengthAdjust="spacingAndGlyphs">Formation</text>
<text x="253.00" y="402.94" font-size="8.3" fill="#4d4d4d" textLength="26.50" lengthAdjust="spacingAndGlyphs">Hetong</text>
<text x="247.50" y="411.44" font-size="8.3" fill="#4d4d4d" textLength="37.50" lengthAdjust="spacingAndGlyphs">Formation</text>
<text x="252.00" y="437.94" font-size="8.3" fill="#4d4d4d" textLength="24.00" lengthAdjust="spacingAndGlyphs">Baizhu</text>
<text x="246.00" y="446.44" font-size="8.3" fill="#4d4d4d" textLength="37.00" lengthAdjust="spacingAndGlyphs">Formation</text>
<text x="244.00" y="467.94" font-size="8.3" fill="#4d4d4d" textLength="41.00" lengthAdjust="spacingAndGlyphs">800/820Ma</text>
<text x="259.00" y="478.94" font-size="8.3" fill="#4d4d4d" textLength="16.00" lengthAdjust="spacingAndGlyphs">Sipu</text>
<text x="248.00" y="487.44" font-size="8.3" fill="#4d4d4d" textLength="37.00" lengthAdjust="spacingAndGlyphs">Formation</text>
<text x="370.50" y="46.44" font-size="8.3" fill="#4d4d4d" textLength="35.50" lengthAdjust="spacingAndGlyphs">Maidiping</text>
<text x="370.00" y="54.44" font-size="8.3" fill="#4d4d4d" textLength="37.00" lengthAdjust="spacingAndGlyphs">Formation</text>
<text x="371.00" y="72.94" font-size="8.3" fill="#4d4d4d" textLength="34.00" lengthAdjust="spacingAndGlyphs">Dengying</text>
<text x="369.00" y="81.44" font-size="8.3" fill="#4d4d4d" textLength="38.00" lengthAdjust="spacingAndGlyphs">Formation</text>
<text x="367.50" y="118.44" font-size="8.3" fill="#4d4d4d" textLength="39.50" lengthAdjust="spacingAndGlyphs">Guanyinya</text>
<text x="369.00" y="126.44" font-size="8.3" fill="#4d4d4d" textLength="38.00" lengthAdjust="spacingAndGlyphs">Formation</text>
<text x="374.00" y="177.44" font-size="8.3" fill="#4d4d4d" textLength="28.00" lengthAdjust="spacingAndGlyphs">Lieguliu</text>
<text x="369.00" y="185.94" font-size="8.3" fill="#4d4d4d" textLength="38.00" lengthAdjust="spacingAndGlyphs">Formation</text>
<text x="371.00" y="230.94" font-size="8.3" fill="#4d4d4d" textLength="29.00" lengthAdjust="spacingAndGlyphs">Suxiong</text>
<text x="367.00" y="239.44" font-size="8.3" fill="#4d4d4d" textLength="37.50" lengthAdjust="spacingAndGlyphs">Formation</text>
<text x="364.00" y="247.94" font-size="8.3" fill="#4d4d4d" textLength="43.50" lengthAdjust="spacingAndGlyphs">/Kaijianqiao</text>
<text x="367.00" y="256.44" font-size="8.3" fill="#4d4d4d" textLength="37.50" lengthAdjust="spacingAndGlyphs">Formation</text>
<text x="385.50" y="291.94" font-size="8.3" fill="#4d4d4d" textLength="20.50" lengthAdjust="spacingAndGlyphs">Ebian</text>
<text x="377.00" y="300.44" font-size="8.3" fill="#4d4d4d" textLength="37.50" lengthAdjust="spacingAndGlyphs">Formation</text>
<text x="481.00" y="46.44" font-size="8.3" fill="#4d4d4d" textLength="40.00" lengthAdjust="spacingAndGlyphs">Meishucun</text>
<text x="483.00" y="54.44" font-size="8.3" fill="#4d4d4d" textLength="37.00" lengthAdjust="spacingAndGlyphs">Formation</text>
<text x="485.00" y="79.44" font-size="8.3" fill="#4d4d4d" textLength="34.00" lengthAdjust="spacingAndGlyphs">Dengying</text>
<text x="483.00" y="87.94" font-size="8.3" fill="#4d4d4d" textLength="37.00" lengthAdjust="spacingAndGlyphs">Formation</text>
<text x="476.00" y="125.94" font-size="8.3" fill="#4d4d4d" textLength="45.00" lengthAdjust="spacingAndGlyphs">Wangjiawan</text>
<text x="480.00" y="133.94" font-size="8.3" fill="#4d4d4d" textLength="37.00" lengthAdjust="spacingAndGlyphs">Formation</text>
<text x="489.00" y="160.94" font-size="8.3" fill="#4d4d4d" textLength="26.50" lengthAdjust="spacingAndGlyphs">Nantuo</text>
<text x="484.00" y="168.94" font-size="8.3" fill="#4d4d4d" textLength="37.00" lengthAdjust="spacingAndGlyphs">Formation</text>
<text x="457.00" y="180.94" font-size="8.3" fill="#4d4d4d" textLength="54.00" lengthAdjust="spacingAndGlyphs">Upper member</text>
<text x="446.00" y="189.44" font-size="8.3" fill="#4d4d4d" textLength="75.00" lengthAdjust="spacingAndGlyphs">of Luliang Formation</text>
<text x="461.00" y="197.94" font-size="8.3" fill="#4d4d4d" textLength="45.00" lengthAdjust="spacingAndGlyphs">/Chengjiang</text>
<text x="465.00" y="206.44" font-size="8.3" fill="#4d4d4d" textLength="37.00" lengthAdjust="spacingAndGlyphs">Formation</text>
<text x="455.00" y="253.44" font-size="8.3" fill="#4d4d4d" textLength="64.00" lengthAdjust="spacingAndGlyphs">Lower member of</text>
<text x="454.50" y="261.44" font-size="8.3" fill="#4d4d4d" textLength="66.50" lengthAdjust="spacingAndGlyphs">Luliang Formation</text>
<text x="447.00" y="270.44" font-size="8.3" fill="#4d4d4d" textLength="75.00" lengthAdjust="spacingAndGlyphs">/Liubatang Formation</text>
<text x="489.00" y="280.94" font-size="8.3" fill="#4d4d4d" textLength="32.00" lengthAdjust="spacingAndGlyphs">Kunyang</text>
<text x="486.00" y="289.44" font-size="8.3" fill="#4d4d4d" textLength="37.00" lengthAdjust="spacingAndGlyphs">Formation</text>
<text x="585.00" y="46.44" font-size="8.3" fill="#4d4d4d" textLength="41.00" lengthAdjust="spacingAndGlyphs">Qiongzhusi</text>
<text x="587.00" y="54.44" font-size="8.3" fill="#4d4d4d" textLength="37.00" lengthAdjust="spacingAndGlyphs">Formation</text>
<text x="602.00" y="64.44" font-size="8.3" fill="#4d4d4d" textLength="24.00" lengthAdjust="spacingAndGlyphs">541Ma</text>
<text x="591.00" y="113.44" font-size="8.3" fill="#4d4d4d" textLength="34.00" lengthAdjust="spacingAndGlyphs">Dengying</text>
<text x="589.50" y="121.94" font-size="8.3" fill="#4d4d4d" textLength="36.50" lengthAdjust="spacingAndGlyphs">Formation</text>
<text x="602.00" y="184.44" font-size="8.3" fill="#4d4d4d" textLength="24.00" lengthAdjust="spacingAndGlyphs">551Ma</text>
<text x="602.00" y="234.44" font-size="8.3" fill="#4d4d4d" textLength="24.00" lengthAdjust="spacingAndGlyphs">590Ma</text>
<text x="582.00" y="310.44" font-size="8.3" fill="#4d4d4d" textLength="44.00" lengthAdjust="spacingAndGlyphs">Doushantuo</text>
<text x="586.00" y="318.94" font-size="8.3" fill="#4d4d4d" textLength="37.00" lengthAdjust="spacingAndGlyphs">Formation</text>
<text x="602.00" y="430.94" font-size="8.3" fill="#4d4d4d" textLength="24.30" lengthAdjust="spacingAndGlyphs">635Ma</text>
<text x="592.00" y="449.74" font-size="8.3" fill="#4d4d4d" textLength="34.30" lengthAdjust="spacingAndGlyphs">Presinian</text>
<text x="602.00" y="467.74" font-size="8.3" fill="#4d4d4d" textLength="24.30" lengthAdjust="spacingAndGlyphs">820Ma</text>
<text x="686.00" y="45.94" font-size="8.3" fill="#4d4d4d" textLength="50.00" lengthAdjust="spacingAndGlyphs">Xishanbulake</text>
<text x="692.00" y="54.44" font-size="8.3" fill="#4d4d4d" textLength="37.00" lengthAdjust="spacingAndGlyphs">Formation</text>
<text x="680.00" y="69.44" font-size="8.3" fill="#4d4d4d" textLength="56.00" lengthAdjust="spacingAndGlyphs">Hangeerqiaoke</text>
<text x="689.50" y="77.94" font-size="8.3" fill="#4d4d4d" textLength="37.50" lengthAdjust="spacingAndGlyphs">Formation</text>
<text x="699.50" y="102.44" font-size="8.3" fill="#4d4d4d" textLength="34.50" lengthAdjust="spacingAndGlyphs">Shuiquan</text>
<text x="698.00" y="111.44" font-size="8.3" fill="#4d4d4d" textLength="37.50" lengthAdjust="spacingAndGlyphs">Formation</text>
<text x="699.00" y="127.94" font-size="8.3" fill="#4d4d4d" textLength="37.00" lengthAdjust="spacingAndGlyphs">Yukengou</text>
<text x="699.00" y="136.44" font-size="8.3" fill="#4d4d4d" textLength="37.00" lengthAdjust="spacingAndGlyphs">Formation</text>
<text x="696.00" y="157.44" font-size="8.3" fill="#4d4d4d" textLength="39.00" lengthAdjust="spacingAndGlyphs">Zhamoketi</text>
<text x="697.00" y="165.94" font-size="8.3" fill="#4d4d4d" textLength="37.00" lengthAdjust="spacingAndGlyphs">Formation</text>
<text x="703.00" y="208.44" font-size="8.3" fill="#4d4d4d" textLength="31.00" lengthAdjust="spacingAndGlyphs">Treaiken</text>
<text x="700.00" y="216.94" font-size="8.3" fill="#4d4d4d" textLength="37.00" lengthAdjust="spacingAndGlyphs">Formation</text>
<text x="696.00" y="279.44" font-size="8.3" fill="#4d4d4d" textLength="37.00" lengthAdjust="spacingAndGlyphs">Altonggou</text>
<text x="696.00" y="287.94" font-size="8.3" fill="#4d4d4d" textLength="37.00" lengthAdjust="spacingAndGlyphs">Formation</text>
<text x="693.00" y="351.44" font-size="8.3" fill="#4d4d4d" textLength="43.00" lengthAdjust="spacingAndGlyphs">Zhaobishan</text>
<text x="696.00" y="360.44" font-size="8.3" fill="#4d4d4d" textLength="37.00" lengthAdjust="spacingAndGlyphs">Formation</text>
<text x="703.00" y="452.94" font-size="8.3" fill="#4d4d4d" textLength="24.50" lengthAdjust="spacingAndGlyphs">Beiyixi</text>
<text x="697.00" y="461.44" font-size="8.3" fill="#4d4d4d" textLength="37.00" lengthAdjust="spacingAndGlyphs">Formation</text>
<text x="697.50" y="518.94" font-size="8.3" fill="#4d4d4d" textLength="37.50" lengthAdjust="spacingAndGlyphs">Pargantag</text>
<text x="698.00" y="526.94" font-size="8.3" fill="#4d4d4d" textLength="37.00" lengthAdjust="spacingAndGlyphs">Formation</text>
<text x="824.00" y="45.94" font-size="8.3" fill="#4d4d4d" textLength="23.50" lengthAdjust="spacingAndGlyphs">Yurtus</text>
<text x="817.00" y="54.44" font-size="8.3" fill="#4d4d4d" textLength="37.00" lengthAdjust="spacingAndGlyphs">Formation</text>
<text x="817.00" y="86.44" font-size="8.3" fill="#4d4d4d" textLength="37.00" lengthAdjust="spacingAndGlyphs">Chigebrak</text>
<text x="817.00" y="95.44" font-size="8.3" fill="#4d4d4d" textLength="37.00" lengthAdjust="spacingAndGlyphs">Formation</text>
<text x="812.50" y="196.44" font-size="8.3" fill="#4d4d4d" textLength="42.50" lengthAdjust="spacingAndGlyphs">Sugatebrak</text>
<text x="815.00" y="205.44" font-size="8.3" fill="#4d4d4d" textLength="37.00" lengthAdjust="spacingAndGlyphs">Formation</text>
<text x="803.00" y="307.94" font-size="8.3" fill="#4d4d4d" textLength="52.50" lengthAdjust="spacingAndGlyphs">Youermeinake</text>
<text x="810.50" y="316.44" font-size="8.3" fill="#4d4d4d" textLength="37.00" lengthAdjust="spacingAndGlyphs">Formation</text>
<text x="814.00" y="362.94" font-size="8.3" fill="#4d4d4d" textLength="40.00" lengthAdjust="spacingAndGlyphs">Choonbrac</text>
<text x="813.00" y="371.44" font-size="8.3" fill="#4d4d4d" textLength="37.50" lengthAdjust="spacingAndGlyphs">Formation</text>
<text x="814.00" y="445.44" font-size="8.3" fill="#4d4d4d" textLength="41.00" lengthAdjust="spacingAndGlyphs">Xifangshan</text>
<text x="815.50" y="453.94" font-size="8.3" fill="#4d4d4d" textLength="37.50" lengthAdjust="spacingAndGlyphs">Formation</text>
<text x="832.00" y="487.94" font-size="8.3" fill="#4d4d4d" textLength="18.00" lengthAdjust="spacingAndGlyphs">Aksu</text>
<text x="822.00" y="496.44" font-size="8.3" fill="#4d4d4d" textLength="37.00" lengthAdjust="spacingAndGlyphs">Formation</text>
<text x="926.00" y="52.44" font-size="8.3" fill="#4d4d4d" textLength="35.00" lengthAdjust="spacingAndGlyphs">Devonian</text>
<text x="917.00" y="72.44" font-size="8.3" fill="#4d4d4d" textLength="45.00" lengthAdjust="spacingAndGlyphs">Kezisuhumu</text>
<text x="921.00" y="81.44" font-size="8.3" fill="#4d4d4d" textLength="37.50" lengthAdjust="spacingAndGlyphs">Formation</text>
<text x="927.00" y="118.44" font-size="8.3" fill="#4d4d4d" textLength="34.00" lengthAdjust="spacingAndGlyphs">Kuerkake</text>
<text x="925.50" y="126.44" font-size="8.3" fill="#4d4d4d" textLength="37.00" lengthAdjust="spacingAndGlyphs">Formation</text>
<text x="897.00" y="160.44" font-size="8.3" fill="#4d4d4d" textLength="65.00" lengthAdjust="spacingAndGlyphs">Yutang Formation</text>
<text x="932.00" y="214.44" font-size="8.3" fill="#4d4d4d" textLength="20.50" lengthAdjust="spacingAndGlyphs">Kelixi</text>
<text x="924.00" y="222.44" font-size="8.3" fill="#4d4d4d" textLength="37.00" lengthAdjust="spacingAndGlyphs">Formation</text>
<text x="895.00" y="354.44" font-size="8.3" fill="#4d4d4d" textLength="64.00" lengthAdjust="spacingAndGlyphs">Bolong Formation</text>
<text x="927.00" y="453.94" font-size="8.3" fill="#4d4d4d" textLength="31.00" lengthAdjust="spacingAndGlyphs">Yalaguzi</text>
<text x="924.30" y="462.44" font-size="8.3" fill="#4d4d4d" textLength="37.40" lengthAdjust="spacingAndGlyphs">Formation</text>
<text x="927.00" y="510.44" font-size="8.3" fill="#4d4d4d" textLength="33.50" lengthAdjust="spacingAndGlyphs">Sukuluok</text>
<text x="925.00" y="518.44" font-size="8.3" fill="#4d4d4d" textLength="37.00" lengthAdjust="spacingAndGlyphs">Formation</text>
<polyline points="776.00,60.00 779.50,60.00 779.50,88.00 776.00,88.00" fill="none" stroke="#2b8fd6" stroke-width="0.9"/>
<polyline points="776.00,180.50 779.50,180.50 779.50,237.00 776.00,237.00" fill="none" stroke="#2b8fd6" stroke-width="0.9"/>
<polyline points="776.00,261.00 779.50,261.00 779.50,316.00 776.00,316.00" fill="none" stroke="#2b8fd6" stroke-width="0.9"/>
<polyline points="775.00,394.00 778.00,394.00 778.00,456.00 775.00,456.00" fill="none" stroke="#2b8fd6" stroke-width="0.9"/>
<text x="783.00" y="73.44" font-size="8.3" fill="#3a9fe0" textLength="32.50" lengthAdjust="spacingAndGlyphs">Gaskiers</text>
<text x="783.00" y="82.94" font-size="8.3" fill="#3a9fe0" textLength="26.00" lengthAdjust="spacingAndGlyphs">ice age</text>
<text x="782.50" y="212.44" font-size="8.3" fill="#3a9fe0" textLength="33.50" lengthAdjust="spacingAndGlyphs">Marinoan</text>
<text x="782.50" y="221.44" font-size="8.3" fill="#3a9fe0" textLength="25.50" lengthAdjust="spacingAndGlyphs">ice age</text>
<text x="782.50" y="288.44" font-size="8.3" fill="#3a9fe0" textLength="28.50" lengthAdjust="spacingAndGlyphs">Sturtian</text>
<text x="782.50" y="296.94" font-size="8.3" fill="#3a9fe0" textLength="25.50" lengthAdjust="spacingAndGlyphs">ice age</text>
<text x="781.00" y="424.94" font-size="8.3" fill="#3a9fe0" textLength="24.50" lengthAdjust="spacingAndGlyphs">Kaigas</text>
<text x="781.00" y="433.64" font-size="8.3" fill="#3a9fe0" textLength="25.00" lengthAdjust="spacingAndGlyphs">ice age</text>
<line x1="77.00" y1="167.00" x2="81.93" y2="172.22" stroke="#d93844" stroke-width="0.9"/>
<polygon points="85.50,176.00 80.49,173.58 83.37,170.86" fill="#cf1f35"/>
<text x="86.00" y="181.59" font-size="7.2" fill="#e14a57" textLength="26.50" lengthAdjust="spacingAndGlyphs">~550Ma</text>
<text x="80.50" y="189.59" font-size="7.2" fill="#e14a57" textLength="42.00" lengthAdjust="spacingAndGlyphs">(Chen et al.,</text>
<text x="80.50" y="197.09" font-size="7.2" fill="#e14a57" textLength="22.50" lengthAdjust="spacingAndGlyphs">2017b)</text>
<line x1="77.00" y1="367.50" x2="88.96" y2="357.78" stroke="#d93844" stroke-width="0.9"/>
<polygon points="93.00,354.50 90.21,359.31 87.72,356.25" fill="#cf1f35"/>
<text x="87.00" y="336.59" font-size="7.2" fill="#e14a57" textLength="26.00" lengthAdjust="spacingAndGlyphs">~850Ma</text>
<text x="80.50" y="344.59" font-size="7.2" fill="#e14a57" textLength="43.50" lengthAdjust="spacingAndGlyphs">(Ulmishek G F</text>
<text x="82.00" y="352.09" font-size="7.2" fill="#e14a57" textLength="39.00" lengthAdjust="spacingAndGlyphs">et al., 2011)</text>
<line x1="77.00" y1="381.00" x2="80.84" y2="383.88" stroke="#d93844" stroke-width="0.9"/>
<polygon points="85.00,387.00 79.65,385.46 82.03,382.30" fill="#cf1f35"/>
<text x="73.00" y="395.59" font-size="7.2" fill="#e14a57" textLength="30.00" lengthAdjust="spacingAndGlyphs">~1000Ma</text>
<text x="67.50" y="405.09" font-size="7.2" fill="#e14a57" textLength="40.50" lengthAdjust="spacingAndGlyphs">(Wang et al.,</text>
<text x="69.00" y="412.59" font-size="7.2" fill="#e14a57" textLength="18.00" lengthAdjust="spacingAndGlyphs">2011)</text>
<line x1="77.00" y1="416.00" x2="80.96" y2="419.22" stroke="#d93844" stroke-width="0.9"/>
<polygon points="85.00,422.50 79.72,420.75 82.21,417.69" fill="#cf1f35"/>
<text x="85.00" y="428.59" font-size="7.2" fill="#e14a57" textLength="30.50" lengthAdjust="spacingAndGlyphs">~1850Ma</text>
<text x="79.50" y="438.09" font-size="7.2" fill="#e14a57" textLength="41.00" lengthAdjust="spacingAndGlyphs">(Wang et al.,</text>
<text x="80.50" y="445.59" font-size="7.2" fill="#e14a57" textLength="18.50" lengthAdjust="spacingAndGlyphs">2011)</text>
<line x1="85.50" y1="479.50" x2="85.50" y2="486.00" stroke="#d93844" stroke-width="0.9"/>
<polygon points="85.50,491.20 83.52,486.00 87.48,486.00" fill="#cf1f35"/>
<text x="71.00" y="498.59" font-size="7.2" fill="#e14a57" textLength="29.00" lengthAdjust="spacingAndGlyphs">~2500Ma</text>
<text x="54.50" y="507.59" font-size="7.2" fill="#e14a57" textLength="66.00" lengthAdjust="spacingAndGlyphs">(Chen et al., 2017b)</text>
<line x1="173.00" y1="109.00" x2="174.98" y2="111.77" stroke="#d93844" stroke-width="0.9"/>
<polygon points="178.00,116.00 173.37,112.92 176.59,110.62" fill="#cf1f35"/>
<text x="180.50" y="120.09" font-size="7.2" fill="#e14a57" textLength="27.00" lengthAdjust="spacingAndGlyphs">~550Ma</text>
<text x="173.00" y="128.59" font-size="7.2" fill="#e14a57" textLength="41.50" lengthAdjust="spacingAndGlyphs">(Chen et al.,</text>
<text x="175.00" y="136.59" font-size="7.2" fill="#e14a57" textLength="22.50" lengthAdjust="spacingAndGlyphs">2017b)</text>
<line x1="170.50" y1="285.00" x2="179.99" y2="282.38" stroke="#d93844" stroke-width="0.9"/>
<polygon points="185.00,281.00 180.51,284.29 179.46,280.48" fill="#cf1f35"/>
<text x="177.50" y="259.59" font-size="7.2" fill="#e14a57" textLength="25.50" lengthAdjust="spacingAndGlyphs">~585Ma</text>
<text x="171.00" y="269.59" font-size="7.2" fill="#e14a57" textLength="31.50" lengthAdjust="spacingAndGlyphs">(Filbrandt</text>
<text x="172.50" y="277.09" font-size="7.2" fill="#e14a57" textLength="40.00" lengthAdjust="spacingAndGlyphs">et al., 2006)</text>
<line x1="176.00" y1="380.00" x2="190.96" y2="383.74" stroke="#d93844" stroke-width="0.9"/>
<polygon points="196.00,385.00 190.48,385.66 191.43,381.82" fill="#cf1f35"/>
<text x="197.50" y="391.59" font-size="7.2" fill="#e14a57" textLength="26.50" lengthAdjust="spacingAndGlyphs">~650Ma</text>
<text x="189.00" y="399.59" font-size="7.2" fill="#e14a57" textLength="55.50" lengthAdjust="spacingAndGlyphs">(Oterdoom, 1999)</text>
<line x1="162.50" y1="424.00" x2="162.50" y2="429.30" stroke="#d93844" stroke-width="0.9"/>
<polygon points="162.50,434.50 160.52,429.30 164.48,429.30" fill="#cf1f35"/>
<text x="147.50" y="442.09" font-size="7.2" fill="#e14a57" textLength="26.50" lengthAdjust="spacingAndGlyphs">~850Ma</text>
<text x="136.20" y="450.59" font-size="7.2" fill="#e14a57" textLength="53.00" lengthAdjust="spacingAndGlyphs">(Filbrandt, 2006)</text>
<line x1="307.50" y1="116.00" x2="312.63" y2="109.96" stroke="#d93844" stroke-width="0.9"/>
<polygon points="316.00,106.00 314.14,111.24 311.13,108.68" fill="#cf1f35"/>
<text x="324.00" y="95.59" font-size="7.2" fill="#e14a57" textLength="39.00" lengthAdjust="spacingAndGlyphs">635±0.6Ma</text>
<text x="310.00" y="104.09" font-size="7.2" fill="#e14a57" textLength="72.00" lengthAdjust="spacingAndGlyphs">(Condon et al. , 2005)</text>
<line x1="324.00" y1="127.50" x2="328.80" y2="127.50" stroke="#d93844" stroke-width="0.9"/>
<polygon points="334.00,127.50 328.80,129.48 328.80,125.52" fill="#cf1f35"/>
<text x="335.00" y="135.59" font-size="7.2" fill="#e14a57" textLength="32.00" lengthAdjust="spacingAndGlyphs">636±5Ma</text>
<text x="325.00" y="144.09" font-size="7.2" fill="#e14a57" textLength="64.50" lengthAdjust="spacingAndGlyphs">(Zhang et al., 2008)</text>
<line x1="301.00" y1="162.50" x2="323.50" y2="162.50" stroke="#2b2b2b" stroke-width="0.9"/>
<line x1="321.00" y1="162.50" x2="322.80" y2="162.50" stroke="#d93844" stroke-width="0.9"/>
<polygon points="328.00,162.50 322.80,164.48 322.80,160.52" fill="#cf1f35"/>
<text x="335.00" y="159.59" font-size="7.2" fill="#e14a57" textLength="32.00" lengthAdjust="spacingAndGlyphs">655±4Ma</text>
<text x="330.00" y="167.09" font-size="7.2" fill="#e14a57" textLength="42.00" lengthAdjust="spacingAndGlyphs">(Zhang et al.,</text>
<text x="332.00" y="174.59" font-size="7.2" fill="#e14a57" textLength="17.50" lengthAdjust="spacingAndGlyphs">2008)</text>
<line x1="324.00" y1="177.50" x2="331.43" y2="181.52" stroke="#d93844" stroke-width="0.9"/>
<polygon points="336.00,184.00 330.49,183.26 332.37,179.79" fill="#cf1f35"/>
<text x="331.00" y="193.59" font-size="7.2" fill="#e14a57" textLength="32.00" lengthAdjust="spacingAndGlyphs">663±4Ma</text>
<text x="326.00" y="202.09" font-size="7.2" fill="#e14a57" textLength="40.00" lengthAdjust="spacingAndGlyphs">(Zhou et al.,</text>
<text x="326.00" y="209.59" font-size="7.2" fill="#e14a57" textLength="18.00" lengthAdjust="spacingAndGlyphs">2004)</text>
<line x1="307.00" y1="291.50" x2="310.30" y2="291.50" stroke="#d93844" stroke-width="0.9"/>
<polygon points="315.50,291.50 310.30,293.48 310.30,289.52" fill="#cf1f35"/>
<text x="321.00" y="295.09" font-size="7.2" fill="#e14a57" textLength="31.00" lengthAdjust="spacingAndGlyphs">716±3Ma</text>
<text x="309.00" y="303.59" font-size="7.2" fill="#e14a57" textLength="58.00" lengthAdjust="spacingAndGlyphs">(Lan et al. , 2014)</text>
<line x1="322.50" y1="376.50" x2="326.80" y2="376.50" stroke="#d93844" stroke-width="0.9"/>
<polygon points="332.00,376.50 326.80,378.48 326.80,374.52" fill="#cf1f35"/>
<text x="331.00" y="375.59" font-size="7.2" fill="#e14a57" textLength="32.00" lengthAdjust="spacingAndGlyphs">761±8Ma</text>
<text x="330.50" y="384.59" font-size="7.2" fill="#e14a57" textLength="30.50" lengthAdjust="spacingAndGlyphs">(Ge et al.,</text>
<text x="330.50" y="392.09" font-size="7.2" fill="#e14a57" textLength="19.00" lengthAdjust="spacingAndGlyphs">2001)</text>
<line x1="301.00" y1="402.50" x2="304.80" y2="402.50" stroke="#d93844" stroke-width="0.9"/>
<polygon points="310.00,402.50 304.80,404.48 304.80,400.52" fill="#cf1f35"/>
<text x="314.00" y="405.09" font-size="7.2" fill="#e14a57" textLength="32.00" lengthAdjust="spacingAndGlyphs">801±4Ma</text>
<text x="302.00" y="413.59" font-size="7.2" fill="#e14a57" textLength="53.00" lengthAdjust="spacingAndGlyphs">(Cui et al.,2016)</text>
<line x1="293.50" y1="480.00" x2="293.50" y2="484.30" stroke="#d93844" stroke-width="0.9"/>
<polygon points="293.50,489.50 291.52,484.30 295.48,484.30" fill="#cf1f35"/>
<text x="281.00" y="497.59" font-size="7.2" fill="#e14a57" textLength="26.50" lengthAdjust="spacingAndGlyphs">~820Ma</text>
<text x="272.00" y="505.59" font-size="7.2" fill="#e14a57" textLength="48.50" lengthAdjust="spacingAndGlyphs">(Li et al., 1999)</text>
<line x1="447.00" y1="204.50" x2="454.43" y2="208.52" stroke="#d93844" stroke-width="0.9"/>
<polygon points="459.00,211.00 453.49,210.26 455.37,206.79" fill="#cf1f35"/>
<text x="462.00" y="216.59" font-size="7.2" fill="#e14a57" textLength="36.00" lengthAdjust="spacingAndGlyphs">715±12Ma</text>
<text x="447.00" y="224.59" font-size="7.2" fill="#e14a57" textLength="64.00" lengthAdjust="spacingAndGlyphs">(Jiang et al. , 2016)</text>
<line x1="447.00" y1="242.50" x2="450.80" y2="242.50" stroke="#d93844" stroke-width="0.9"/>
<polygon points="456.00,242.50 450.80,244.48 450.80,240.52" fill="#cf1f35"/>
<text x="462.50" y="238.59" font-size="7.2" fill="#e14a57" textLength="36.50" lengthAdjust="spacingAndGlyphs">803±12Ma</text>
<text x="458.00" y="245.59" font-size="7.2" fill="#e14a57" textLength="52.00" lengthAdjust="spacingAndGlyphs">(Li et al. , 2002)</text>
<line x1="550.00" y1="180.00" x2="554.25" y2="181.89" stroke="#d93844" stroke-width="0.9"/>
<polygon points="559.00,184.00 553.45,183.69 555.05,180.08" fill="#cf1f35"/>
<text x="556.00" y="191.59" font-size="7.2" fill="#e14a57" textLength="36.00" lengthAdjust="spacingAndGlyphs">729±11Ma</text>
<text x="548.00" y="199.59" font-size="7.2" fill="#e14a57" textLength="53.00" lengthAdjust="spacingAndGlyphs">(Cui et al. , 2013)</text>
<line x1="560.50" y1="226.00" x2="567.39" y2="229.59" stroke="#d93844" stroke-width="0.9"/>
<polygon points="572.00,232.00 566.48,231.35 568.30,227.84" fill="#cf1f35"/>
<text x="561.00" y="241.59" font-size="7.2" fill="#e14a57" textLength="36.50" lengthAdjust="spacingAndGlyphs">805±14Ma</text>
<text x="551.00" y="248.59" font-size="7.2" fill="#e14a57" textLength="58.50" lengthAdjust="spacingAndGlyphs">(Zhuo et al. , 2013)</text>
<line x1="564.00" y1="259.50" x2="567.13" y2="260.67" stroke="#d93844" stroke-width="0.9"/>
<polygon points="572.00,262.50 566.44,262.52 567.82,258.82" fill="#cf1f35"/>
<text x="574.00" y="265.59" font-size="7.2" fill="#e14a57" textLength="32.00" lengthAdjust="spacingAndGlyphs">819±9Ma</text>
<text x="566.00" y="272.59" font-size="7.2" fill="#e14a57" textLength="57.00" lengthAdjust="spacingAndGlyphs">(Zhuo et al. , 2013)</text>
<line x1="649.00" y1="57.00" x2="661.75" y2="66.00" stroke="#d93844" stroke-width="0.9"/>
<polygon points="666.00,69.00 660.61,67.62 662.89,64.39" fill="#cf1f35"/>
<text x="658.00" y="78.59" font-size="7.2" fill="#e14a57" textLength="25.00" lengthAdjust="spacingAndGlyphs">~541Ma</text>
<text x="649.50" y="87.59" font-size="7.2" fill="#e14a57" textLength="52.50" lengthAdjust="spacingAndGlyphs">(He et al. , 2011)</text>
<line x1="648.00" y1="187.00" x2="653.93" y2="188.35" stroke="#d93844" stroke-width="0.9"/>
<polygon points="659.00,189.50 653.49,190.27 654.37,186.42" fill="#cf1f35"/>
<text x="661.00" y="194.59" font-size="7.2" fill="#e14a57" textLength="26.00" lengthAdjust="spacingAndGlyphs">~551Ma</text>
<text x="649.00" y="201.59" font-size="7.2" fill="#e14a57" textLength="51.00" lengthAdjust="spacingAndGlyphs">(Liu et al. ,2022)</text>
<line x1="647.50" y1="236.00" x2="653.92" y2="237.40" stroke="#d93844" stroke-width="0.9"/>
<polygon points="659.00,238.50 653.50,239.33 654.34,235.46" fill="#cf1f35"/>
<text x="657.00" y="245.59" font-size="7.2" fill="#e14a57" textLength="25.50" lengthAdjust="spacingAndGlyphs">~590Ma</text>
<text x="642.50" y="252.59" font-size="7.2" fill="#e14a57" textLength="51.50" lengthAdjust="spacingAndGlyphs">(Liu et al. ,2022)</text>
<line x1="654.00" y1="432.50" x2="658.80" y2="432.50" stroke="#d93844" stroke-width="0.9"/>
<polygon points="664.00,432.50 658.80,434.48 658.80,430.52" fill="#cf1f35"/>
<text x="676.00" y="432.59" font-size="7.2" fill="#e14a57" textLength="26.00" lengthAdjust="spacingAndGlyphs">~635Ma</text>
<text x="664.50" y="440.09" font-size="7.2" fill="#e14a57" textLength="55.00" lengthAdjust="spacingAndGlyphs">(Tan et al. , 2022)</text>
<line x1="639.50" y1="467.50" x2="639.50" y2="474.30" stroke="#d93844" stroke-width="0.9"/>
<polygon points="639.50,479.50 637.52,474.30 641.48,474.30" fill="#cf1f35"/>
<text x="627.00" y="490.09" font-size="7.2" fill="#e14a57" textLength="25.50" lengthAdjust="spacingAndGlyphs">~820Ma</text>
<text x="611.00" y="497.59" font-size="7.2" fill="#e14a57" textLength="58.00" lengthAdjust="spacingAndGlyphs">( Ran et al. , 2023)</text>
<line x1="774.00" y1="143.50" x2="779.30" y2="143.50" stroke="#d93844" stroke-width="0.9"/>
<polygon points="784.50,143.50 779.30,145.48 779.30,141.52" fill="#cf1f35"/>
<text x="787.00" y="136.59" font-size="7.2" fill="#e14a57" textLength="34.00" lengthAdjust="spacingAndGlyphs">615±6Ma/</text>
<text x="787.00" y="143.99" font-size="7.2" fill="#e14a57" textLength="32.00" lengthAdjust="spacingAndGlyphs">616±6Ma</text>
<text x="775.00" y="153.29" font-size="7.2" fill="#e14a57" textLength="51.00" lengthAdjust="spacingAndGlyphs">(Xu et al., 2009,</text>
<text x="775.00" y="161.09" font-size="7.2" fill="#e14a57" textLength="52.50" lengthAdjust="spacingAndGlyphs">He et al., 2014a)</text>
<line x1="779.50" y1="177.50" x2="779.80" y2="177.50" stroke="#d93844" stroke-width="0.9"/>
<polygon points="785.00,177.50 779.80,179.48 779.80,175.52" fill="#cf1f35"/>
<text x="791.00" y="177.59" font-size="7.2" fill="#e14a57" textLength="32.00" lengthAdjust="spacingAndGlyphs">636±2Ma</text>
<text x="784.50" y="185.09" font-size="7.2" fill="#e14a57" textLength="47.50" lengthAdjust="spacingAndGlyphs">(This research)</text>
<line x1="774.00" y1="254.50" x2="779.30" y2="254.50" stroke="#d93844" stroke-width="0.9"/>
<polygon points="784.50,254.50 779.30,256.48 779.30,252.52" fill="#cf1f35"/>
<text x="788.00" y="256.59" font-size="7.2" fill="#e14a57" textLength="32.00" lengthAdjust="spacingAndGlyphs">655±4Ma</text>
<text x="780.50" y="265.59" font-size="7.2" fill="#e14a57" textLength="55.00" lengthAdjust="spacingAndGlyphs">(He et al., 2014a)</text>
<line x1="774.00" y1="400.50" x2="778.80" y2="400.50" stroke="#d93844" stroke-width="0.9"/>
<polygon points="784.00,400.50 778.80,402.48 778.80,398.52" fill="#cf1f35"/>
<text x="785.50" y="403.19" font-size="7.2" fill="#e14a57" textLength="35.50" lengthAdjust="spacingAndGlyphs">725±10Ma</text>
<text x="780.00" y="411.29" font-size="7.2" fill="#e14a57" textLength="50.00" lengthAdjust="spacingAndGlyphs">(Xu et al., 2009)</text>
<line x1="774.00" y1="496.50" x2="778.80" y2="496.50" stroke="#d93844" stroke-width="0.9"/>
<polygon points="784.00,496.50 778.80,498.48 778.80,494.52" fill="#cf1f35"/>
<text x="786.00" y="498.59" font-size="7.2" fill="#e14a57" textLength="32.00" lengthAdjust="spacingAndGlyphs">740±7Ma</text>
<text x="777.50" y="506.09" font-size="7.2" fill="#e14a57" textLength="49.50" lengthAdjust="spacingAndGlyphs">(Xu et al., 2009)</text>
<line x1="762.50" y1="517.50" x2="768.30" y2="517.50" stroke="#d93844" stroke-width="0.9"/>
<polygon points="773.50,517.50 768.30,519.48 768.30,515.52" fill="#cf1f35"/>
<text x="780.50" y="519.59" font-size="7.2" fill="#e14a57" textLength="26.50" lengthAdjust="spacingAndGlyphs">~780Ma</text>
<text x="766.00" y="527.09" font-size="7.2" fill="#e14a57" textLength="56.50" lengthAdjust="spacingAndGlyphs">(Long et al., 2011)</text>
<line x1="746.50" y1="521.30" x2="746.50" y2="526.80" stroke="#d93844" stroke-width="0.9"/>
<polygon points="746.50,532.00 744.52,526.80 748.48,526.80" fill="#cf1f35"/>
<text x="734.00" y="540.09" font-size="7.2" fill="#e14a57" textLength="31.00" lengthAdjust="spacingAndGlyphs">773±3Ma</text>
<text x="721.00" y="547.59" font-size="7.2" fill="#e14a57" textLength="61.00" lengthAdjust="spacingAndGlyphs">(Zhang et al., 2009)</text>
<line x1="877.00" y1="136.50" x2="880.30" y2="136.50" stroke="#d93844" stroke-width="0.9"/>
<polygon points="885.50,136.50 880.30,138.48 880.30,134.52" fill="#cf1f35"/>
<text x="889.00" y="138.59" font-size="7.2" fill="#e14a57" textLength="39.00" lengthAdjust="spacingAndGlyphs">&lt;565±12Ma</text>
<text x="880.00" y="147.59" font-size="7.2" fill="#e14a57" textLength="55.00" lengthAdjust="spacingAndGlyphs">(He et al., 2014b)</text>
<line x1="893.00" y1="247.50" x2="897.30" y2="247.50" stroke="#d93844" stroke-width="0.9"/>
<polygon points="902.50,247.50 897.30,249.48 897.30,245.52" fill="#cf1f35"/>
<text x="905.50" y="249.59" font-size="7.2" fill="#e14a57" textLength="32.50" lengthAdjust="spacingAndGlyphs">615±5Ma</text>
<text x="895.00" y="258.59" font-size="7.2" fill="#e14a57" textLength="51.00" lengthAdjust="spacingAndGlyphs">(Xu et al., 2013)</text>
<line x1="893.00" y1="306.50" x2="896.80" y2="306.50" stroke="#d93844" stroke-width="0.9"/>
<polygon points="902.00,306.50 896.80,308.48 896.80,304.52" fill="#cf1f35"/>
<text x="905.00" y="307.09" font-size="7.2" fill="#e14a57" textLength="36.00" lengthAdjust="spacingAndGlyphs">&lt;729±7Ma</text>
<text x="895.00" y="315.59" font-size="7.2" fill="#e14a57" textLength="55.00" lengthAdjust="spacingAndGlyphs">(He et al., 2014b)</text>
<line x1="880.50" y1="414.00" x2="885.76" y2="416.37" stroke="#d93844" stroke-width="0.9"/>
<polygon points="890.50,418.50 884.95,418.17 886.57,414.56" fill="#cf1f35"/>
<text x="892.00" y="423.09" font-size="7.2" fill="#e14a57" textLength="40.00" lengthAdjust="spacingAndGlyphs">&lt;748±14Ma</text>
<text x="885.50" y="431.59" font-size="7.2" fill="#e14a57" textLength="54.50" lengthAdjust="spacingAndGlyphs">(He et al., 2014b)</text>
<line x1="869.50" y1="489.80" x2="869.50" y2="496.10" stroke="#d93844" stroke-width="0.9"/>
<polygon points="869.50,501.30 867.52,496.10 871.48,496.10" fill="#cf1f35"/>
<text x="853.50" y="509.29" font-size="7.2" fill="#e14a57" textLength="32.00" lengthAdjust="spacingAndGlyphs">759±7Ma</text>
<text x="839.00" y="516.59" font-size="7.2" fill="#e14a57" textLength="62.00" lengthAdjust="spacingAndGlyphs">(Zhang et al., 2009)</text>
<line x1="963.00" y1="315.00" x2="957.90" y2="318.22" stroke="#d93844" stroke-width="0.9"/>
<polygon points="953.50,321.00 956.84,316.55 958.95,319.89" fill="#cf1f35"/>
<text x="910.50" y="326.59" font-size="7.2" fill="#e14a57" textLength="36.50" lengthAdjust="spacingAndGlyphs">&lt;753±3Ma</text>
<text x="910.50" y="335.59" font-size="7.2" fill="#e14a57" textLength="41.50" lengthAdjust="spacingAndGlyphs">(Zhang et al.,</text>
<text x="922.00" y="342.59" font-size="7.2" fill="#e14a57" textLength="19.00" lengthAdjust="spacingAndGlyphs">2016)</text>
<line x1="963.00" y1="362.50" x2="958.70" y2="362.50" stroke="#d93844" stroke-width="0.9"/>
<polygon points="953.50,362.50 958.70,360.52 958.70,364.48" fill="#cf1f35"/>
<text x="910.00" y="365.59" font-size="7.2" fill="#e14a57" textLength="36.00" lengthAdjust="spacingAndGlyphs">&lt;748±4Ma</text>
<text x="910.00" y="373.59" font-size="7.2" fill="#e14a57" textLength="42.00" lengthAdjust="spacingAndGlyphs">(Zhang et al.,</text>
<text x="922.00" y="381.59" font-size="7.2" fill="#e14a57" textLength="18.00" lengthAdjust="spacingAndGlyphs">2016)</text>
<line x1="970.50" y1="515.00" x2="970.50" y2="519.30" stroke="#d93844" stroke-width="0.9"/>
<polygon points="970.50,524.50 968.52,519.30 972.48,519.30" fill="#cf1f35"/>
<text x="958.00" y="533.59" font-size="7.2" fill="#e14a57" textLength="32.00" lengthAdjust="spacingAndGlyphs">802±9Ma</text>
<text x="941.00" y="542.09" font-size="7.2" fill="#e14a57" textLength="62.00" lengthAdjust="spacingAndGlyphs">(Zhang et al., 2010)</text>
<text x="452.00" y="347.98" font-size="9.8" fill="#595757" textLength="30.50" lengthAdjust="spacingAndGlyphs">Legend</text>
<rect x="372" y="357.5" width="31.2" height="19.2" fill="#2f96d8" stroke="#4a7aa8" stroke-width="0.6"/>
<path d="M382.5,362.8l1.8,3h-3.6z" fill="#d5f060"/>
<path d="M392.5,362.8l1.8,3h-3.6z" fill="#d5f060"/>
<path d="M378,370.3l1.8,3h-3.6z" fill="#d5f060"/>
<path d="M387.5,370.3l1.8,3h-3.6z" fill="#d5f060"/>
<path d="M397.5,370.3l1.8,3h-3.6z" fill="#d5f060"/>
<text x="405.50" y="370.05" font-size="6.4" fill="#595757" textLength="14.50" lengthAdjust="spacingAndGlyphs">Tillite</text>
<rect x="446" y="357.5" width="31.2" height="19.2" fill="#3e3a39" stroke="#3e3a39" stroke-width="0.6"/>
<text x="480.00" y="367.05" font-size="6.4" fill="#595757" textLength="29.00" lengthAdjust="spacingAndGlyphs">Mudstone/</text>
<text x="487.00" y="373.75" font-size="6.4" fill="#595757" textLength="15.00" lengthAdjust="spacingAndGlyphs">shale</text>
<rect x="517.5" y="357.5" width="31.2" height="19.2" fill="#a3a3a3" stroke="#6a6a6a" stroke-width="0.6"/>
<text x="524.0" y="370.5" font-size="9.5" fill="#444">Si</text>
<line x1="537.00" y1="367.50" x2="544.50" y2="367.50" stroke="#444" stroke-width="0.7"/>
<text x="550.50" y="367.05" font-size="6.4" fill="#595757" textLength="41.50" lengthAdjust="spacingAndGlyphs">Siliceous rock /</text>
<text x="550.50" y="373.75" font-size="6.4" fill="#595757" textLength="41.50" lengthAdjust="spacingAndGlyphs">Siliceous shale</text>
<rect x="372" y="387.5" width="31.2" height="19.2" fill="#ee8019" stroke="#8a5a30" stroke-width="0.6"/>
<circle cx="381.5" cy="394.5" r="1.5" fill="none" stroke="#a04a10" stroke-width="0.5"/>
<circle cx="389.5" cy="394.5" r="1.5" fill="none" stroke="#a04a10" stroke-width="0.5"/>
<circle cx="398" cy="394.5" r="1.5" fill="none" stroke="#a04a10" stroke-width="0.5"/>
<circle cx="376.5" cy="401.0" r="1.5" fill="none" stroke="#a04a10" stroke-width="0.5"/>
<circle cx="385.5" cy="401.0" r="1.5" fill="none" stroke="#a04a10" stroke-width="0.5"/>
<circle cx="394" cy="401.0" r="1.5" fill="none" stroke="#a04a10" stroke-width="0.5"/>
<text x="405.50" y="400.05" font-size="6.4" fill="#595757" textLength="38.50" lengthAdjust="spacingAndGlyphs">Conglomerate</text>
<rect x="446" y="387.5" width="31.2" height="19.2" fill="#ee8019" stroke="#8a5a30" stroke-width="0.6"/>
<circle cx="458.5" cy="392.0" r="1.4" fill="none" stroke="#a04a10" stroke-width="0.5"/>
<circle cx="467" cy="398.5" r="1.4" fill="none" stroke="#a04a10" stroke-width="0.5"/>
<circle cx="458.5" cy="404.0" r="1.4" fill="none" stroke="#a04a10" stroke-width="0.5"/>
<circle cx="450.5" cy="392.0" r="0.6" fill="#7a3000"/>
<circle cx="467" cy="392.0" r="0.6" fill="#7a3000"/>
<circle cx="473.5" cy="392.0" r="0.6" fill="#7a3000"/>
<circle cx="450.5" cy="398.5" r="0.6" fill="#7a3000"/>
<circle cx="458" cy="398.5" r="0.6" fill="#7a3000"/>
<circle cx="473.5" cy="398.5" r="0.6" fill="#7a3000"/>
<circle cx="450.5" cy="404.0" r="0.6" fill="#7a3000"/>
<circle cx="467" cy="404.0" r="0.6" fill="#7a3000"/>
<circle cx="473.5" cy="404.0" r="0.6" fill="#7a3000"/>
<text x="480.00" y="400.05" font-size="6.4" fill="#595757" textLength="25.00" lengthAdjust="spacingAndGlyphs">Glutenite</text>
<rect x="517.5" y="387.5" width="31.2" height="19.2" fill="#fff100" stroke="#6a6a3a" stroke-width="0.6"/>
<circle cx="524.5" cy="393.0" r="0.7" fill="#3a3000"/>
<circle cx="535.0" cy="393.0" r="0.7" fill="#3a3000"/>
<circle cx="545.5" cy="393.0" r="0.7" fill="#3a3000"/>
<circle cx="529.5" cy="398.0" r="0.7" fill="#3a3000"/>
<circle cx="540.5" cy="398.0" r="0.7" fill="#3a3000"/>
<circle cx="524.5" cy="403.0" r="0.7" fill="#3a3000"/>
<circle cx="535.0" cy="403.0" r="0.7" fill="#3a3000"/>
<circle cx="545.5" cy="403.0" r="0.7" fill="#3a3000"/>
<text x="552.00" y="400.05" font-size="6.4" fill="#595757" textLength="29.00" lengthAdjust="spacingAndGlyphs">Sandstone</text>
<rect x="372" y="417.5" width="31.2" height="19.2" fill="#fff100" stroke="#6a6a3a" stroke-width="0.6"/>
<path d="M376.1,422.5h1M377.9,422.5h1" stroke="#3a3000" stroke-width="0.7"/>
<path d="M386.1,422.5h1M387.9,422.5h1" stroke="#3a3000" stroke-width="0.7"/>
<path d="M396.6,422.5h1M398.4,422.5h1" stroke="#3a3000" stroke-width="0.7"/>
<path d="M376.1,428.5h1M377.9,428.5h1" stroke="#3a3000" stroke-width="0.7"/>
<path d="M386.1,428.5h1M387.9,428.5h1" stroke="#3a3000" stroke-width="0.7"/>
<path d="M396.6,428.5h1M398.4,428.5h1" stroke="#3a3000" stroke-width="0.7"/>
<path d="M376.1,434.5h1M377.9,434.5h1" stroke="#3a3000" stroke-width="0.7"/>
<path d="M386.1,434.5h1M387.9,434.5h1" stroke="#3a3000" stroke-width="0.7"/>
<path d="M396.6,434.5h1M398.4,434.5h1" stroke="#3a3000" stroke-width="0.7"/>
<text x="404.50" y="431.05" font-size="6.4" fill="#595757" textLength="24.50" lengthAdjust="spacingAndGlyphs">Siltstone</text>
<rect x="446" y="417.5" width="31.2" height="19.2" fill="#a6d8f5" stroke="#3f78b0" stroke-width="0.6"/>
<path d="M446,423.9h31.2M446,430.3h31.2M454.5,417.5l-3.5,6.4M466,417.5l-3.5,6.4M462.5,423.9l-3.5,6.4M474.5,423.9l-3.5,6.4M454,430.3l-3.5,6.4M466,430.3l-3.5,6.4" stroke="#3f78b0" stroke-width="0.6" fill="none"/>
<text x="479.50" y="431.05" font-size="6.4" fill="#595757" textLength="24.50" lengthAdjust="spacingAndGlyphs">Dolomite</text>
<rect x="517.5" y="417.5" width="31.2" height="19.2" fill="#a6d8f5" stroke="#3f78b0" stroke-width="0.6"/>
<path d="M517.5,423.9h31.2M517.5,430.3h31.2M523.5,417.5v6.4M537.5,417.5v6.4M530.0,423.9v6.4M543.5,423.9v6.4M523.5,430.3v6.4M537.5,430.3v6.4" stroke="#3f78b0" stroke-width="0.6" fill="none"/>
<text x="551.00" y="431.05" font-size="6.4" fill="#595757" textLength="28.00" lengthAdjust="spacingAndGlyphs">Limestone</text>
<rect x="372" y="448" width="31.2" height="19.2" fill="#fff" stroke="#6a6a6a" stroke-width="0.6"/>
<path d="M388,452.5h3.6l-3.4,10h-3.6z" fill="#8878c0"/>
<text x="404.50" y="460.45" font-size="6.4" fill="#595757" textLength="27.50" lengthAdjust="spacingAndGlyphs">Basic dike</text>
<rect x="446" y="448" width="31.2" height="19.2" fill="#0c9546" stroke="#0a6e36" stroke-width="0.6"/>
<path d="M454.3,452.2l1.2,2.6l1.2,-2.6" stroke="#0a5a2a" stroke-width="0.5" fill="none"/>
<path d="M465.8,452.2l1.2,2.6l1.2,-2.6" stroke="#0a5a2a" stroke-width="0.5" fill="none"/>
<path d="M449.8,460.2l1.2,2.6l1.2,-2.6" stroke="#0a5a2a" stroke-width="0.5" fill="none"/>
<path d="M460.3,460.2l1.2,2.6l1.2,-2.6" stroke="#0a5a2a" stroke-width="0.5" fill="none"/>
<path d="M470.8,460.2l1.2,2.6l1.2,-2.6" stroke="#0a5a2a" stroke-width="0.5" fill="none"/>
<text x="482.50" y="454.75" font-size="6.4" fill="#595757" textLength="25.00" lengthAdjust="spacingAndGlyphs">Volcanic/</text>
<text x="479.50" y="461.05" font-size="6.4" fill="#595757" textLength="30.50" lengthAdjust="spacingAndGlyphs">pyroclastic</text>
<text x="487.50" y="467.45" font-size="6.4" fill="#595757" textLength="15.00" lengthAdjust="spacingAndGlyphs">rocks</text>
<rect x="517.5" y="448" width="31.2" height="19.2" fill="#f3aeb0" stroke="#8a6060" stroke-width="0.6"/>
<path d="M525.7,452.5h3.6M527.5,450.7v3.6" stroke="#c0272d" stroke-width="0.5"/>
<path d="M536.2,452.5h3.6M538.0,450.7v3.6" stroke="#c0272d" stroke-width="0.5"/>
<path d="M521.2,461.5h3.6M523.0,459.7v3.6" stroke="#c0272d" stroke-width="0.5"/>
<path d="M531.2,461.5h3.6M533.0,459.7v3.6" stroke="#c0272d" stroke-width="0.5"/>
<path d="M541.7,461.5h3.6M543.5,459.7v3.6" stroke="#c0272d" stroke-width="0.5"/>
<text x="551.00" y="460.05" font-size="6.4" fill="#595757" textLength="36.50" lengthAdjust="spacingAndGlyphs">Intrusive rock</text>
<rect x="372" y="478" width="31.2" height="19.2" fill="#c4007c" stroke="#7a0050" stroke-width="0.6"/>
<clipPath id="cH"><rect x="372" y="478" width="31.2" height="19.2"/></clipPath>
<path d="M346.4,478l19.2,19.2M346.4,497.2l19.2,-19.2M349.6,478l19.2,19.2M349.6,497.2l19.2,-19.2M352.8,478l19.2,19.2M352.8,497.2l19.2,-19.2M356.0,478l19.2,19.2M356.0,497.2l19.2,-19.2M359.2,478l19.2,19.2M359.2,497.2l19.2,-19.2M362.4,478l19.2,19.2M362.4,497.2l19.2,-19.2M365.6,478l19.2,19.2M365.6,497.2l19.2,-19.2M368.8,478l19.2,19.2M368.8,497.2l19.2,-19.2M372.0,478l19.2,19.2M372.0,497.2l19.2,-19.2M375.2,478l19.2,19.2M375.2,497.2l19.2,-19.2M378.4,478l19.2,19.2M378.4,497.2l19.2,-19.2M381.6,478l19.2,19.2M381.6,497.2l19.2,-19.2M384.8,478l19.2,19.2M384.8,497.2l19.2,-19.2M388.0,478l19.2,19.2M388.0,497.2l19.2,-19.2M391.2,478l19.2,19.2M391.2,497.2l19.2,-19.2M394.4,478l19.2,19.2M394.4,497.2l19.2,-19.2M397.6,478l19.2,19.2M397.6,497.2l19.2,-19.2M400.8,478l19.2,19.2M400.8,497.2l19.2,-19.2M404.0,478l19.2,19.2M404.0,497.2l19.2,-19.2M407.2,478l19.2,19.2M407.2,497.2l19.2,-19.2M410.4,478l19.2,19.2M410.4,497.2l19.2,-19.2M413.6,478l19.2,19.2M413.6,497.2l19.2,-19.2" stroke="#6a0048" stroke-width="0.45" fill="none" clip-path="url(#cH)"/>
<text x="404.50" y="490.05" font-size="6.4" fill="#595757" textLength="15.50" lengthAdjust="spacingAndGlyphs">Halite</text>
<rect x="446" y="478" width="31.2" height="19.2" fill="#c679b7" stroke="#7a5a80" stroke-width="0.6"/>
<path d="M451.8,480.7l1.2,2.6l1.2,-2.6" stroke="#8a1a80" stroke-width="0.55" fill="none"/>
<path d="M456.3,480.7l1.2,2.6l1.2,-2.6" stroke="#8a1a80" stroke-width="0.55" fill="none"/>
<path d="M461.3,480.7l1.2,2.6l1.2,-2.6" stroke="#8a1a80" stroke-width="0.55" fill="none"/>
<path d="M466.3,480.7l1.2,2.6l1.2,-2.6" stroke="#8a1a80" stroke-width="0.55" fill="none"/>
<path d="M449.3,486.7l1.2,2.6l1.2,-2.6" stroke="#8a1a80" stroke-width="0.55" fill="none"/>
<path d="M453.8,486.7l1.2,2.6l1.2,-2.6" stroke="#8a1a80" stroke-width="0.55" fill="none"/>
<path d="M458.8,486.7l1.2,2.6l1.2,-2.6" stroke="#8a1a80" stroke-width="0.55" fill="none"/>
<path d="M463.8,486.7l1.2,2.6l1.2,-2.6" stroke="#8a1a80" stroke-width="0.55" fill="none"/>
<path d="M469.3,486.7l1.2,2.6l1.2,-2.6" stroke="#8a1a80" stroke-width="0.55" fill="none"/>
<path d="M451.8,492.7l1.2,2.6l1.2,-2.6" stroke="#8a1a80" stroke-width="0.55" fill="none"/>
<path d="M456.3,492.7l1.2,2.6l1.2,-2.6" stroke="#8a1a80" stroke-width="0.55" fill="none"/>
<path d="M461.3,492.7l1.2,2.6l1.2,-2.6" stroke="#8a1a80" stroke-width="0.55" fill="none"/>
<path d="M466.3,492.7l1.2,2.6l1.2,-2.6" stroke="#8a1a80" stroke-width="0.55" fill="none"/>
<text x="481.00" y="490.05" font-size="6.4" fill="#595757" textLength="26.50" lengthAdjust="spacingAndGlyphs">Anhydrite</text>
<rect x="517.5" y="478" width="31.2" height="19.2" fill="#7b6e64" stroke="#4a4038" stroke-width="0.6"/>
<path d="M518.5,482.5q2,-1.4 4,0t4,0t4,0t4,0t4,0t4,0t4,0t1.2,0" stroke="#3a302a" stroke-width="0.55" fill="none"/>
<path d="M518.5,487.5q2,-1.4 4,0t4,0t4,0t4,0t4,0t4,0t4,0t1.2,0" stroke="#3a302a" stroke-width="0.55" fill="none"/>
<path d="M518.5,492.5q2,-1.4 4,0t4,0t4,0t4,0t4,0t4,0t4,0t1.2,0" stroke="#3a302a" stroke-width="0.55" fill="none"/>
<text x="550.00" y="487.25" font-size="6.4" fill="#595757" textLength="45.00" lengthAdjust="spacingAndGlyphs">Metamorphosed</text>
<text x="559.00" y="493.75" font-size="6.4" fill="#595757" textLength="27.00" lengthAdjust="spacingAndGlyphs">basement</text>
<rect x="372" y="509" width="31.2" height="19.2" fill="#fff" stroke="#6a6a6a" stroke-width="0.6"/>
<text x="375.50" y="522.55" font-size="8.6" fill="#e14a57" textLength="24.50" lengthAdjust="spacingAndGlyphs">820Ma</text>
<text x="404.00" y="522.05" font-size="6.4" fill="#595757" textLength="33.50" lengthAdjust="spacingAndGlyphs">Isotopic age</text>
<rect x="446" y="509" width="31.2" height="19.2" fill="#fff" stroke="#6a6a6a" stroke-width="0.6"/>
<line x1="452.00" y1="515.00" x2="475.00" y2="525.00" stroke="#444" stroke-width="0.6" stroke-dasharray="3.5,2"/>
<text x="480.50" y="521.75" font-size="6.4" fill="#595757" textLength="27.50" lengthAdjust="spacingAndGlyphs">Isochrone</text>
</svg></body></html>
